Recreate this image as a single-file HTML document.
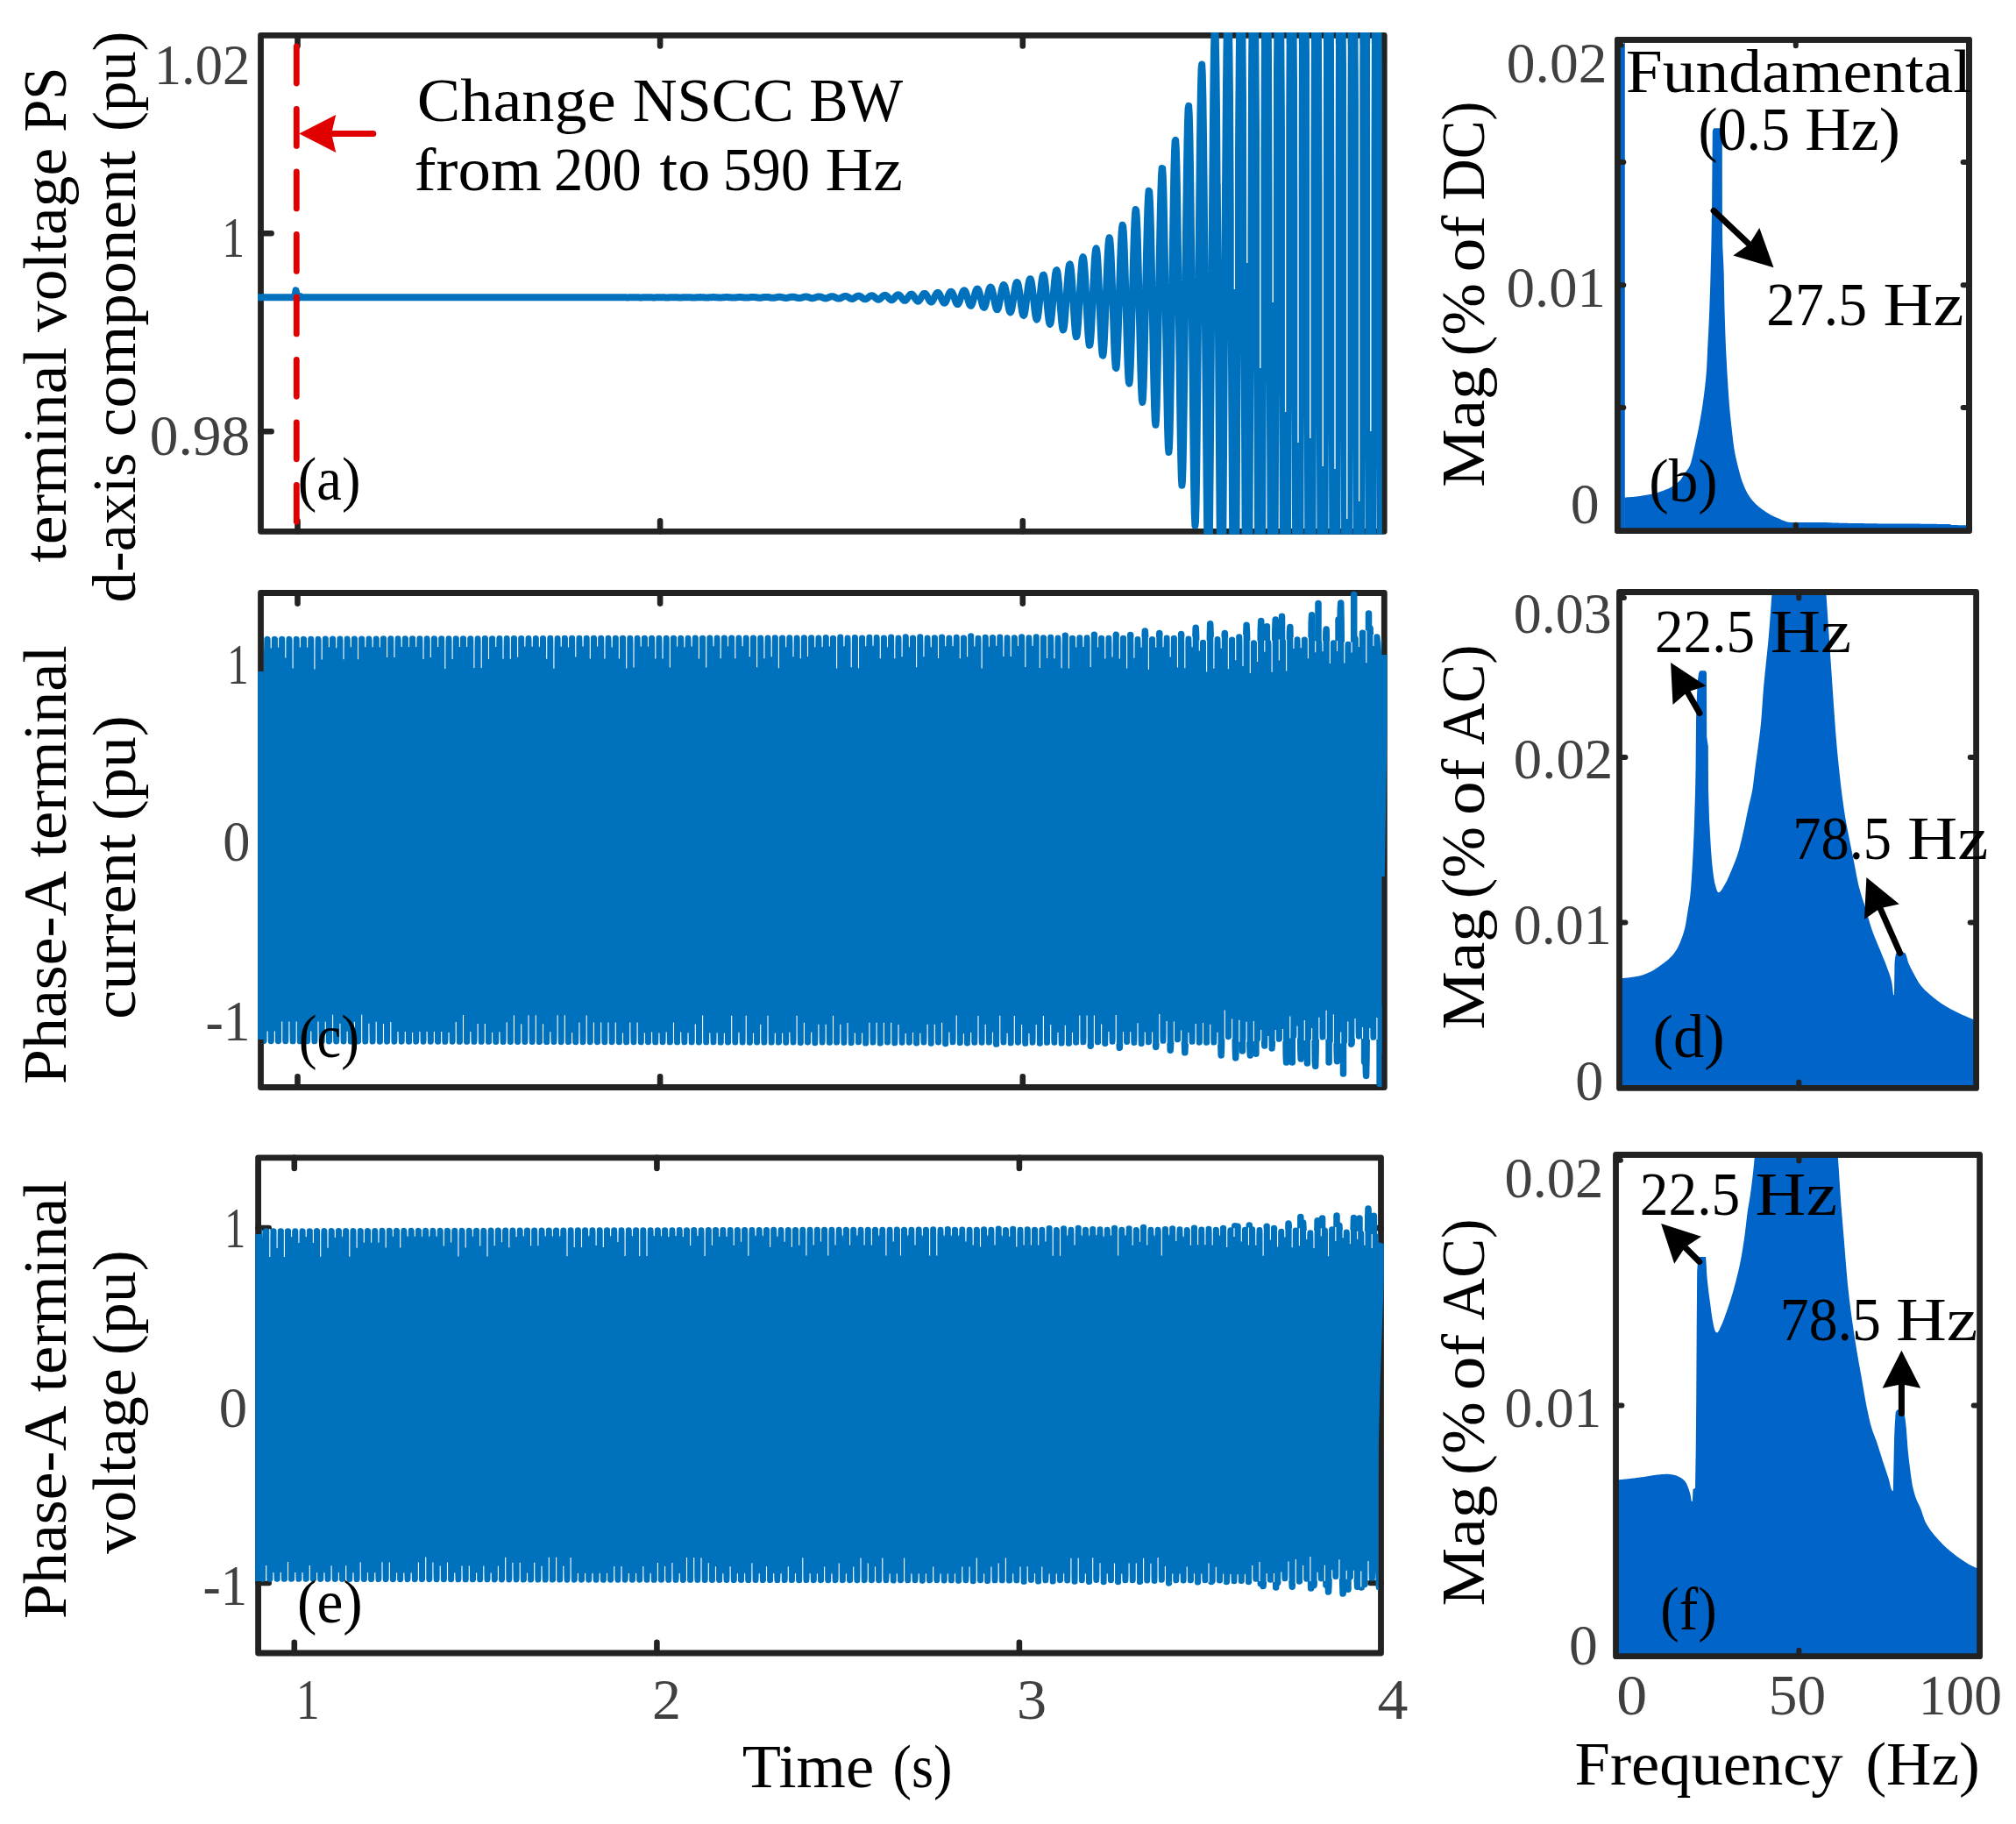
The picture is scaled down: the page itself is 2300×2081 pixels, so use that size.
<!DOCTYPE html>
<html lang="en"><head><meta charset="utf-8"><title>Figure</title>
<style>html,body{margin:0;padding:0;background:#fff}svg{display:block}</style></head>
<body>
<svg width="2300" height="2081" viewBox="0 0 2300 2081" font-family='"Liberation Serif", serif'>
<defs>
<clipPath id="ca"><rect x="294.1" y="37" width="1282.7" height="572.7"/></clipPath>
<clipPath id="cc"><rect x="300.9" y="673.1" width="1275.6" height="570.8"/></clipPath>
<clipPath id="ce"><rect x="298" y="1317.4" width="1274.7" height="572"/></clipPath>
<clipPath id="cb"><rect x="1845.4" y="45.4" width="401.1" height="560.2"/></clipPath>
<clipPath id="cd"><rect x="1847.5" y="675.5" width="407.1" height="565.9"/></clipPath>
<clipPath id="cf"><rect x="1843.5" y="1317.5" width="415.1" height="572.2"/></clipPath>
</defs>
<rect width="2300" height="2081" fill="#fff"/>
<rect x="297.5" y="40.4" width="1281.7" height="565.9" fill="none" stroke="#222222" stroke-width="6.8" stroke-linejoin="round"/>
<path d="M339.5 40.4V52.5M339.5 606.3V594.2M753.1 40.4V52.5M753.1 606.3V594.2M1166.8 40.4V52.5M1166.8 606.3V594.2M297.5 266.3H309.6M297.5 492.2H309.6" fill="none" stroke="#222222" stroke-width="6.6" stroke-linecap="round"/>
<path d="M294.5 339.3L336 339.3L337.6 331.3L339.2 341.3L342 337.8L345 339.3L620 339.3L620 339.3L620.6 339.3L621.2 339.3L621.8 339.3L622.4 339.3L623 339.3L623.6 339.3L624.2 339.3L624.8 339.3L625.4 339.3L626 339.3L626.6 339.3L627.2 339.3L627.8 339.3L628.4 339.3L629 339.3L629.6 339.3L630.2 339.3L630.8 339.3L631.4 339.3L632 339.3L632.6 339.3L633.2 339.3L633.8 339.3L634.4 339.3L635 339.3L635.6 339.3L636.2 339.3L636.8 339.3L637.4 339.3L638 339.3L638.6 339.3L639.2 339.3L639.8 339.3L640.4 339.3L641 339.3L641.6 339.3L642.2 339.3L642.8 339.3L643.4 339.3L644 339.3L644.6 339.3L645.2 339.3L645.8 339.3L646.4 339.3L647 339.3L647.6 339.3L648.2 339.3L648.8 339.3L649.4 339.3L650 339.3L650.6 339.3L651.2 339.3L651.8 339.3L652.4 339.3L653 339.3L653.6 339.3L654.2 339.3L654.8 339.3L655.4 339.3L656 339.3L656.6 339.3L657.2 339.3L657.8 339.3L658.4 339.3L659 339.3L659.6 339.3L660.2 339.3L660.8 339.3L661.4 339.3L662 339.3L662.6 339.3L663.2 339.3L663.8 339.3L664.4 339.3L665 339.3L665.6 339.3L666.2 339.3L666.8 339.3L667.4 339.3L668 339.3L668.6 339.3L669.2 339.3L669.8 339.3L670.4 339.3L671 339.3L671.6 339.3L672.2 339.3L672.8 339.3L673.4 339.3L674 339.3L674.6 339.3L675.2 339.3L675.8 339.3L676.4 339.3L677 339.3L677.6 339.3L678.2 339.3L678.8 339.3L679.4 339.3L680 339.3L680.6 339.3L681.2 339.3L681.8 339.3L682.4 339.3L683 339.3L683.6 339.3L684.2 339.3L684.8 339.3L685.4 339.3L686 339.3L686.6 339.3L687.2 339.3L687.8 339.3L688.4 339.3L689 339.3L689.6 339.3L690.2 339.3L690.8 339.3L691.4 339.3L692 339.3L692.6 339.3L693.2 339.3L693.8 339.3L694.4 339.3L695 339.3L695.6 339.3L696.2 339.3L696.8 339.3L697.4 339.3L698 339.3L698.6 339.3L699.2 339.3L699.8 339.3L700.4 339.3L701 339.3L701.6 339.3L702.2 339.3L702.8 339.3L703.4 339.3L704 339.3L704.6 339.3L705.2 339.3L705.8 339.3L706.4 339.3L707 339.3L707.6 339.3L708.2 339.2L708.8 339.2L709.4 339.3L710 339.3L710.6 339.3L711.2 339.3L711.8 339.3L712.4 339.3L713 339.3L713.6 339.3L714.2 339.3L714.8 339.4L715.4 339.4L716 339.4L716.6 339.4L717.2 339.4L717.8 339.3L718.4 339.3L719 339.3L719.6 339.3L720.2 339.3L720.8 339.3L721.4 339.3L722 339.2L722.6 339.2L723.2 339.2L723.8 339.2L724.4 339.2L725 339.3L725.6 339.3L726.2 339.3L726.8 339.3L727.4 339.3L728 339.3L728.6 339.3L729.2 339.4L729.8 339.4L730.4 339.4L731 339.4L731.6 339.4L732.2 339.4L732.8 339.4L733.4 339.3L734 339.3L734.6 339.3L735.2 339.3L735.8 339.3L736.4 339.3L737 339.2L737.6 339.2L738.2 339.2L738.8 339.2L739.4 339.2L740 339.2L740.6 339.3L741.2 339.3L741.8 339.3L742.4 339.3L743 339.3L743.6 339.3L744.2 339.4L744.8 339.4L745.4 339.4L746 339.4L746.6 339.4L747.2 339.4L747.8 339.4L748.4 339.3L749 339.3L749.6 339.3L750.2 339.3L750.8 339.3L751.4 339.2L752 339.2L752.6 339.2L753.2 339.2L753.8 339.2L754.4 339.2L755 339.2L755.6 339.2L756.2 339.3L756.8 339.3L757.4 339.3L758 339.3L758.6 339.4L759.2 339.4L759.8 339.4L760.4 339.4L761 339.4L761.6 339.4L762.2 339.4L762.8 339.4L763.4 339.4L764 339.3L764.6 339.3L765.2 339.3L765.8 339.3L766.4 339.2L767 339.2L767.6 339.2L768.2 339.2L768.8 339.2L769.4 339.2L770 339.2L770.6 339.2L771.2 339.2L771.8 339.3L772.4 339.3L773 339.3L773.6 339.4L774.2 339.4L774.8 339.4L775.4 339.4L776 339.4L776.6 339.4L777.2 339.4L777.8 339.4L778.4 339.4L779 339.3L779.6 339.3L780.2 339.3L780.8 339.3L781.4 339.2L782 339.2L782.6 339.2L783.2 339.2L783.8 339.2L784.4 339.2L785 339.2L785.6 339.2L786.2 339.2L786.8 339.3L787.4 339.3L788 339.3L788.6 339.4L789.2 339.4L789.8 339.4L790.4 339.4L791 339.5L791.6 339.5L792.2 339.4L792.8 339.4L793.4 339.4L794 339.4L794.6 339.3L795.2 339.3L795.8 339.2L796.4 339.2L797 339.2L797.6 339.2L798.2 339.1L798.8 339.1L799.4 339.1L800 339.2L800.6 339.2L801.2 339.2L801.8 339.3L802.4 339.3L803 339.3L803.6 339.4L804.2 339.4L804.8 339.5L805.4 339.5L806 339.5L806.6 339.5L807.2 339.5L807.8 339.5L808.4 339.4L809 339.4L809.6 339.3L810.2 339.3L810.8 339.2L811.4 339.2L812 339.2L812.6 339.1L813.2 339.1L813.8 339.1L814.4 339.1L815 339.1L815.6 339.2L816.2 339.2L816.8 339.2L817.4 339.3L818 339.3L818.6 339.4L819.2 339.4L819.8 339.5L820.4 339.5L821 339.5L821.6 339.5L822.2 339.5L822.8 339.5L823.4 339.5L824 339.4L824.6 339.3L825.2 339.3L825.8 339.2L826.4 339.2L827 339.1L827.6 339.1L828.2 339.1L828.8 339.1L829.4 339.1L830 339.1L830.6 339.1L831.2 339.2L831.8 339.2L832.4 339.3L833 339.3L833.6 339.4L834.2 339.5L834.8 339.5L835.4 339.6L836 339.6L836.6 339.6L837.2 339.6L837.8 339.5L838.4 339.5L839 339.4L839.6 339.4L840.2 339.3L840.8 339.2L841.4 339.2L842 339.1L842.6 339.1L843.2 339L843.8 339L844.4 339L845 339L845.6 339.1L846.2 339.1L846.8 339.2L847.4 339.3L848 339.3L848.6 339.4L849.2 339.5L849.8 339.6L850.4 339.6L851 339.6L851.6 339.6L852.2 339.6L852.8 339.6L853.4 339.5L854 339.5L854.6 339.4L855.2 339.3L855.8 339.2L856.4 339.1L857 339.1L857.6 339L858.2 339L858.8 338.9L859.4 338.9L860 339L860.6 339L861.2 339.1L861.8 339.2L862.4 339.2L863 339.3L863.6 339.4L864.2 339.5L864.8 339.6L865.4 339.7L866 339.7L866.6 339.7L867.2 339.7L867.8 339.7L868.4 339.6L869 339.5L869.6 339.4L870.2 339.3L870.8 339.2L871.4 339.1L872 339L872.6 338.9L873.2 338.9L873.8 338.9L874.4 338.9L875 338.9L875.6 338.9L876.2 339L876.8 339.1L877.4 339.2L878 339.3L878.6 339.5L879.2 339.6L879.8 339.7L880.4 339.7L881 339.8L881.6 339.8L882.2 339.8L882.8 339.7L883.4 339.7L884 339.6L884.6 339.5L885.2 339.3L885.8 339.2L886.4 339.1L887 339L887.6 338.9L888.2 338.8L888.8 338.8L889.4 338.8L890 338.8L890.6 338.9L891.2 339L891.8 339.1L892.4 339.2L893 339.3L893.6 339.5L894.2 339.6L894.8 339.7L895.4 339.8L896 339.9L896.6 339.9L897.2 339.9L897.8 339.9L898.4 339.8L899 339.6L899.6 339.5L900.2 339.3L900.8 339.2L901.4 339L902 338.9L902.6 338.8L903.2 338.7L903.8 338.7L904.4 338.7L905 338.7L905.6 338.8L906.2 338.9L906.8 339L907.4 339.2L908 339.3L908.6 339.5L909.2 339.7L909.8 339.8L910.4 339.9L911 340L911.6 340.1L912.2 340L912.8 340L913.4 339.9L914 339.7L914.6 339.6L915.2 339.4L915.8 339.2L916.4 339L917 338.8L917.6 338.7L918.2 338.6L918.8 338.5L919.4 338.5L920 338.6L920.6 338.6L921.2 338.8L921.8 338.9L922.4 339.1L923 339.3L923.6 339.5L924.2 339.7L924.8 339.9L925.4 340.1L926 340.2L926.6 340.2L927.2 340.2L927.8 340.1L928.4 340L929 339.8L929.6 339.6L930.2 339.4L930.8 339.2L931.4 339L932 338.8L932.6 338.6L933.2 338.5L933.8 338.4L934.4 338.4L935 338.4L935.6 338.5L936.2 338.6L936.8 338.8L937.4 339L938 339.3L938.6 339.5L939.2 339.8L939.8 340L940.4 340.2L941 340.3L941.6 340.4L942.2 340.4L942.8 340.3L943.4 340.2L944 340L944.6 339.7L945.2 339.5L945.8 339.2L946.4 338.9L947 338.7L947.6 338.5L948.2 338.3L948.8 338.2L949.4 338.2L950 338.2L950.6 338.3L951.2 338.5L951.8 338.7L952.4 339L953 339.3L953.6 339.6L954.2 339.9L954.8 340.2L955.4 340.4L956 340.6L956.6 340.6L957.2 340.6L957.8 340.6L958.4 340.4L959 340.2L959.6 339.9L960.2 339.5L960.8 339.2L961.4 338.9L962 338.6L962.6 338.3L963.2 338.1L963.8 338L964.4 337.9L965 337.9L965.6 338.1L966.2 338.3L966.8 338.5L967.4 338.8L968 339.2L968.6 339.6L969.2 340L969.8 340.3L970.4 340.6L971 340.8L971.6 340.9L972.2 340.9L972.8 340.9L973.4 340.7L974 340.4L974.6 340L975.2 339.6L975.8 339.2L976.4 338.8L977 338.4L977.6 338.1L978.2 337.9L978.8 337.7L979.4 337.6L980 337.6L980.6 337.8L981.2 338L981.8 338.3L982.4 338.7L983 339.1L983.6 339.6L984.2 340.1L984.8 340.5L985.4 340.8L986 341.1L986.6 341.3L987.2 341.3L987.8 341.2L988.4 341L989 340.6L989.6 340.2L990.2 339.7L990.8 339.2L991.4 338.7L992 338.3L992.6 337.9L993.2 337.6L993.8 337.4L994.4 337.3L995 337.3L995.6 337.4L996.2 337.7L996.8 338.1L997.4 338.5L998 339.1L998.6 339.6L999.2 340.2L999.8 340.7L1000.4 341.1L1001 341.5L1001.6 341.7L1002.2 341.7L1002.8 341.6L1003.4 341.4L1004 341L1004.6 340.5L1005.2 339.9L1005.8 339.3L1006.4 338.7L1007 338.1L1007.6 337.6L1008.2 337.2L1008.8 337L1009.4 336.8L1010 336.8L1010.6 337L1011.2 337.3L1011.8 337.8L1012.4 338.3L1013 338.9L1013.6 339.6L1014.2 340.3L1014.8 340.9L1015.4 341.5L1016 341.9L1016.6 342.2L1017.2 342.3L1017.8 342.2L1018.4 341.9L1019 341.4L1019.6 340.8L1020.2 340.1L1020.8 339.4L1021.4 338.6L1022 337.9L1022.6 337.3L1023.2 336.8L1023.8 336.5L1024.4 336.3L1025 336.3L1025.6 336.5L1026.2 336.8L1026.8 337.4L1027.4 338L1028 338.8L1028.6 339.6L1029.2 340.4L1029.8 341.2L1030.4 341.9L1031 342.4L1031.6 342.8L1032.2 342.9L1032.8 342.8L1033.4 342.5L1034 341.9L1034.6 341.2L1035.2 340.4L1035.8 339.5L1036.4 338.6L1037 337.7L1037.6 337L1038.2 336.3L1038.8 335.9L1039.4 335.7L1040 335.6L1040.6 335.8L1041.2 336.3L1041.8 336.9L1042.4 337.7L1043 338.6L1043.6 339.6L1044.2 340.6L1044.8 341.5L1045.4 342.4L1046 343L1046.6 343.5L1047.2 343.7L1047.8 343.6L1048.4 343.2L1049 342.5L1049.6 341.7L1050.2 340.7L1050.8 339.6L1051.4 338.5L1052 337.5L1052.6 336.5L1053.2 335.8L1053.8 335.2L1054.4 334.9L1055 334.9L1055.6 335.1L1056.2 335.5L1056.8 336.3L1057.4 337.2L1058 338.3L1058.6 339.5L1059.2 340.7L1059.8 341.9L1060.4 342.9L1061 343.8L1061.6 344.3L1062.2 344.6L1062.8 344.5L1063.4 344.1L1064 343.3L1064.6 342.3L1065.2 341.1L1065.8 339.8L1066.4 338.5L1067 337.2L1067.6 336.1L1068.2 335.1L1068.8 334.4L1069.4 334L1070 333.9L1070.6 334.1L1071.2 334.7L1071.8 335.5L1072.4 336.6L1073 337.9L1073.6 339.4L1074.2 340.9L1074.8 342.3L1075.4 343.6L1076 344.7L1076.6 345.4L1077.2 345.7L1077.8 345.7L1078.4 345.2L1079 344.3L1079.6 343.1L1080.2 341.7L1080.8 340.1L1081.4 338.5L1082 336.9L1082.6 335.5L1083.2 334.3L1083.8 333.4L1084.4 332.9L1085 332.7L1085.6 333L1086.2 333.6L1086.8 334.6L1087.4 335.9L1088 337.5L1088.6 339.2L1089.2 341L1089.8 342.8L1090.4 344.4L1091 345.7L1091.6 346.6L1092.2 347.1L1092.8 347.1L1093.4 346.5L1094 345.5L1094.6 344.1L1095.2 342.4L1095.8 340.5L1096.4 338.5L1097 336.6L1097.6 334.8L1098.2 333.4L1098.8 332.2L1099.4 331.5L1100 331.3L1100.6 331.5L1101.2 332.3L1101.8 333.4L1102.4 335L1103 336.9L1103.6 339L1104.2 341.2L1104.8 343.3L1105.4 345.3L1106 346.9L1106.6 348.1L1107.2 348.7L1107.8 348.8L1108.4 348.2L1109 347L1109.6 345.3L1110.2 343.3L1110.8 341L1111.4 338.6L1112 336.2L1112.6 334.1L1113.2 332.2L1113.8 330.8L1114.4 329.9L1115 329.6L1115.6 329.8L1116.2 330.6L1116.8 332L1117.4 333.9L1118 336.1L1118.6 338.7L1119.2 341.3L1119.8 344L1120.4 346.4L1121 348.4L1121.6 349.9L1122.2 350.7L1122.8 350.8L1123.4 350.2L1124 348.8L1124.6 346.8L1125.2 344.4L1125.8 341.6L1126.4 338.7L1127 335.8L1127.6 333.2L1128.2 330.9L1128.8 329.2L1129.4 328L1130 327.5L1130.6 327.7L1131.2 328.7L1131.8 330.2L1132.4 332.5L1133 335.2L1133.6 338.2L1134.2 341.4L1134.8 344.6L1135.4 347.6L1136 350.1L1136.6 352L1137.2 353.1L1137.8 353.3L1138.4 352.6L1139 351.1L1139.6 348.7L1140.2 345.8L1140.8 342.4L1141.4 338.9L1142 335.4L1142.6 332.2L1143.2 329.4L1143.8 327.2L1144.4 325.7L1145 325L1145.6 325.2L1146.2 326.2L1146.8 328.1L1147.4 330.7L1148 333.9L1148.6 337.6L1149.2 341.5L1149.8 345.4L1150.4 349.1L1151 352.2L1151.6 354.6L1152.2 356L1152.8 356.4L1153.4 355.6L1154 353.8L1154.6 351.1L1155.2 347.6L1155.8 343.5L1156.4 339.3L1157 335L1157.6 331L1158.2 327.5L1158.8 324.8L1159.4 322.9L1160 322L1160.6 322.1L1161.2 323.2L1161.8 325.4L1162.4 328.5L1163 332.3L1163.6 336.8L1164.2 341.5L1164.8 346.3L1165.4 350.7L1166 354.6L1166.6 357.6L1167.2 359.5L1167.8 360L1168.4 359.3L1169 357.2L1169.6 354L1170.2 349.8L1170.8 345L1171.4 339.8L1172 334.6L1172.6 329.7L1173.2 325.4L1173.8 321.9L1174.4 319.5L1175 318.3L1175.6 318.3L1176.2 319.6L1176.8 322.1L1177.4 325.7L1178 330.3L1178.6 335.6L1179.2 341.4L1179.8 347.2L1180.4 352.7L1181 357.5L1181.6 361.2L1182.2 363.6L1182.8 364.5L1183.4 363.7L1184 361.4L1184.6 357.6L1185.2 352.6L1185.8 346.8L1186.4 340.5L1187 334.2L1187.6 328.2L1188.2 322.9L1188.8 318.6L1189.4 315.5L1190 313.9L1190.6 313.7L1191.2 315.1L1191.8 318L1192.4 322.3L1193 327.8L1193.6 334.2L1194.2 341.1L1194.8 348.2L1195.4 354.9L1196 360.8L1196.6 365.5L1197.2 368.6L1197.8 369.9L1198.4 369.2L1199 366.5L1199.6 362.1L1200.2 356.1L1200.8 349.2L1201.4 341.6L1202 333.8L1202.6 326.5L1203.2 320L1203.8 314.6L1204.4 310.7L1205 308.5L1205.6 308.1L1206.2 309.7L1206.8 313L1207.4 318.1L1208 324.6L1208.6 332.3L1209.2 340.7L1209.8 349.2L1210.4 357.5L1211 364.8L1211.6 370.7L1212.2 374.7L1212.8 376.4L1213.4 375.8L1214 372.8L1214.6 367.6L1215.2 360.5L1215.8 352.2L1216.4 343L1217 333.6L1217.6 324.6L1218.2 316.5L1218.8 309.9L1219.4 304.9L1220 302.1L1220.6 301.4L1221.2 303L1221.8 306.9L1222.4 312.8L1223 320.6L1223.6 329.8L1224.2 339.9L1224.8 350.3L1225.4 360.4L1226 369.5L1226.6 376.8L1227.2 381.9L1227.8 384.3L1228.4 383.8L1229 380.5L1229.6 374.4L1230.2 366.1L1230.8 356L1231.4 344.9L1232 333.5L1232.6 322.5L1233.2 312.6L1233.8 304.2L1234.4 298L1235 294.3L1235.6 293.2L1236.2 294.9L1236.8 299.3L1237.4 306.3L1238 315.5L1238.6 326.6L1239.2 338.8L1239.8 351.5L1240.4 363.8L1241 375L1241.6 384.1L1242.2 390.6L1242.8 393.9L1243.4 393.6L1244 389.9L1244.6 382.8L1245.2 372.9L1245.8 360.9L1246.4 347.5L1247 333.6L1247.6 320.2L1248.2 307.9L1248.8 297.6L1249.4 289.8L1250 284.9L1250.6 283.3L1251.2 285L1251.8 290L1252.4 298.2L1253 309.2L1253.6 322.4L1254.2 337.1L1254.8 352.5L1255.4 367.6L1256 381.4L1256.6 392.8L1257.2 401L1257.8 405.4L1258.4 405.6L1259 401.4L1259.6 393.2L1260.2 381.5L1260.8 367.1L1261.4 350.9L1262 334.1L1262.6 317.7L1263.2 302.6L1263.8 289.8L1264.4 279.9L1265 273.6L1265.6 271.2L1266.2 272.9L1266.8 278.6L1267.4 288.2L1268 301.2L1268.6 317.1L1269.2 334.8L1269.8 353.5L1270.4 371.9L1271 388.8L1271.6 403L1272.2 413.5L1272.8 419.3L1273.4 420L1274 415.5L1274.6 406L1275.2 392.1L1275.8 374.9L1276.4 355.5L1277 335L1277.6 315L1278.2 296.4L1278.8 280.5L1279.4 268.2L1280 260.1L1280.6 256.7L1281.2 258.2L1281.8 264.7L1282.4 275.9L1283 291.3L1283.6 310.2L1284.2 331.6L1284.8 354.3L1285.4 376.8L1286 397.6L1286.6 415.2L1287.2 428.4L1287.8 436.1L1288.4 437.6L1289 432.7L1289.6 421.7L1290.2 405.4L1290.8 384.8L1291.4 361.4L1292 336.6L1292.6 312.1L1293.2 289.3L1293.8 269.7L1294.4 254.2L1295 243.8L1295.6 239L1296.2 240.3L1296.8 247.6L1297.4 260.6L1298 278.9L1298.6 301.5L1299.2 327.3L1299.8 354.7L1300.4 382.1L1301 407.7L1301.6 429.6L1302.2 446.2L1302.8 456.3L1303.4 458.9L1304 453.7L1304.6 441.1L1305.2 421.8L1305.8 397.3L1306.4 369.1L1307 339L1307.6 309.2L1308.2 281.2L1308.8 256.9L1309.4 237.5L1310 224.2L1310.6 217.7L1311.2 218.5L1311.8 226.6L1312.4 241.8L1313 263.4L1313.6 290.4L1314.2 321.5L1314.8 354.7L1315.4 388.1L1316 419.5L1316.6 446.6L1317.2 467.5L1317.8 480.6L1318.4 484.7L1319 479.3L1319.6 464.9L1320.2 442.2L1320.8 413L1321.4 379L1322 342.7L1322.6 306.2L1323.2 272L1323.8 241.9L1324.4 217.7L1325 200.7L1325.6 192L1326.2 192.1L1326.8 201L1327.4 218.6L1328 244.2L1328.6 276.4L1329.2 313.7L1329.8 353.9L1330.4 394.6L1331 433.1L1331.6 466.7L1332.2 493L1332.8 509.8L1333.4 515.9L1334 510.6L1334.6 494.1L1335.2 467.5L1335.8 432.7L1336.4 391.9L1337 347.9L1337.6 303.5L1338.2 261.5L1338.8 224.3L1339.4 194.1L1340 172.6L1340.6 160.9L1341.2 159.9L1341.8 169.7L1342.4 190.1L1343 220.2L1343.6 258.7L1344.2 303.4L1344.8 352.1L1345.4 401.6L1346 448.8L1346.6 490.4L1347.2 523.3L1347.8 545L1348.4 553.8L1349 548.7L1349.6 530L1350.2 498.8L1350.8 457.3L1351.4 408.4L1352 355.1L1352.6 301.1L1353.2 249.6L1353.8 203.7L1354.4 166.1L1355 138.8L1355.6 123.4L1356.2 120.9L1356.8 131.5L1357.4 155L1358 190.5L1358.6 236.3L1359.2 290L1359.8 348.8L1360.4 409L1361 466.8L1361.6 518.2L1362.2 559.4L1362.8 587.3L1363.4 599.6L1364 595.1L1364.6 574L1365.2 537.5L1365.8 488.2L1366.4 429.5L1367 365.1L1367.6 299.4L1368.2 236.3L1368.8 179.8L1369.4 132.9L1370 98.4L1370.6 78.2L1371.2 73.5L1371.8 84.8L1372.4 111.9L1373 153.6L1373.6 208.2L1374.2 272.8L1374.8 343.9L1375.4 417.3L1376 488.1L1376.6 551.6L1377.2 603L1377.8 638.5L1378.4 655L1379 651.1L1379.6 626.8L1380.2 583.5L1380.8 523.6L1381.4 452.1L1382 374.2L1382.6 295.1L1383.2 219.6L1383.8 152.3L1384.4 97.1L1385 56.9L1385.6 34L1386.2 29.6L1386.8 44L1387.4 76.5L1388 125.7L1388.6 189.6L1389.2 265.1L1389.8 348.4L1390.4 434.8L1391 518.9L1391.6 594.7L1392.2 656.4L1392.8 698.6L1393.4 717.4L1394 710.4L1394.6 677.8L1395.2 622.1L1395.8 547.5L1396.4 460.3L1397 367.3L1397.6 275.3L1398.2 190.5L1398.8 117.8L1399.4 60.7L1400 21.5L1400.6 1.1L1401.2 -0L1401.8 18.3L1402.4 55.8L1403 112.1L1403.6 185.8L1404.2 274.5L1404.8 374.4L1405.4 479.6L1406 582.8L1406.6 675.4L1407.2 748.9L1407.8 795.8L1408.4 810.6L1409 791.4L1409.6 739.4L1410.2 659.5L1410.8 559.4L1411.4 448.3L1412 335.7L1412.6 230L1413.2 137.9L1413.8 63.5L1414.4 9.1L1415 -24.9L1415.6 -38.7L1416.2 -32.4L1416.8 -5.7L1417.4 42L1418 111.4L1418.6 202.2L1419.2 312L1419.8 435.6L1420.4 565.1L1421 689.8L1421.6 797.6L1422.2 876.9L1422.8 900L1423.4 900L1424 870.3L1424.6 785.1L1425.2 668.9L1425.8 535.3L1426.4 398.1L1427 268.9L1427.6 156.7L1428.2 66.6L1428.8 0.6L1429.4 -42L1430 -62.9L1430.6 -63.5L1431.2 -44.2L1431.8 -3.7L1432.4 60L1433 148.2L1433.6 260.6L1434.2 393.1L1434.8 537.7L1435.4 682.6L1436 813.5L1436.6 900L1437.2 900L1437.8 900L1438.4 900L1439 861.4L1439.6 738.9L1440.2 594.6L1440.8 444.3L1441.4 302.2L1442 179.1L1442.6 81.1L1443.2 9.9L1443.8 -36.1L1444.4 -60.3L1445 -65.2L1445.6 -51.8L1446.2 -18.5L1446.8 37.9L1447.4 120.8L1448 231.8L1448.6 368.4L1449.2 522.9L1449.8 682.6L1450.4 831.3L1451 900L1451.6 900L1452.2 900L1452.8 900L1453.4 900L1454 787.9L1454.6 630.9L1455.2 467.3L1455.8 313.8L1456.4 182.7L1457 80.6L1457.6 8.5L1458.2 -36.8L1458.8 -60.1L1459.4 -65.4L1460 -54.1L1460.6 -23.9L1461.2 29.7L1461.8 112L1462.4 225.8L1463 369.7L1463.6 535.7L1464.2 709.5L1464.8 872.2L1465.4 900L1466 900L1466.6 900L1467.2 900L1467.8 900L1468.4 809.5L1469 636.8L1469.6 460.3L1470.2 298.7L1470.8 164.7L1471.4 64.3L1472 -3.3L1472.6 -43.3L1473.2 -62.2L1473.8 -65L1474.4 -52.5L1475 -21.6L1475.6 34.7L1476.2 122.7L1476.8 246L1477.4 402L1478 580.5L1478.6 764.2L1479.2 900L1479.8 900L1480.4 900L1481 900L1481.6 900L1482.2 900L1482.8 779.4L1483.4 595.7L1484 415.6L1484.6 256.7L1485.2 130.3L1485.8 39.4L1486.4 -19L1487 -51.5L1487.6 -64.7L1488.2 -62.7L1488.8 -44.5L1489.4 -5.5L1490 61.7L1490.6 162.9L1491.2 299.8L1491.8 467L1492.4 651.2L1493 832.7L1493.6 900L1494.2 900L1494.8 900L1495.4 900L1496 900L1496.6 876.1L1497.2 698.6L1497.8 512.5L1498.4 338.9L1499 193.1L1499.6 82.6L1500.2 7.4L1500.8 -37.7L1501.4 -60.2L1502 -65.5L1502.6 -55.6L1503.2 -27.1L1503.8 26.2L1504.4 111.7L1505 233.5L1505.6 389.5L1506.2 569.7L1506.8 756.5L1507.4 900L1508 900L1508.6 900L1509.2 900L1509.8 900L1510.4 900L1511 767.4L1511.6 580.4L1512.2 398.7L1512.8 240.5L1513.4 116.5L1514 29L1514.6 -25.8L1515.2 -55L1515.8 -65.5L1516.4 -60.3L1517 -37.8L1517.6 7.8L1518.2 84.1L1518.8 196.6L1519.4 345.2L1520 521.8L1520.6 710.4L1521.2 888.7L1521.8 900L1522.4 900L1523 900L1523.6 900L1524.2 900L1524.8 802.6L1525.4 615.6L1526 430L1526.6 265.4L1527.2 134.2L1527.8 40.3L1528.4 -19.5L1529 -52.2L1529.6 -65L1530.2 -61.8L1530.8 -41.5L1531.4 1.5L1532 74.9L1532.6 184.6L1533.2 331.3L1533.8 507.5L1534.4 697.3L1535 878.5L1535.6 900L1536.2 900L1536.8 900L1537.4 900L1538 900L1538.6 805.2L1539.2 616.9L1539.8 429.8L1540.4 264.1L1541 132.4L1541.6 38.5L1542.2 -20.9L1542.8 -53.1L1543.4 -65.2L1544 -61.2L1544.6 -39.5L1545.2 5.6L1545.8 82.2L1546.4 195.9L1547 346.9L1547.6 526.7L1548.2 718.2L1548.8 898.2L1549.4 900L1550 900L1550.6 900L1551.2 900L1551.8 900L1552.4 775L1553 583.8L1553.6 397.8L1554.2 236.4L1554.8 110.9L1555.4 23.7L1556 -29.7L1556.6 -57.3L1557.2 -65.7L1557.8 -57.8L1558.4 -31L1559 21.6L1559.6 108L1560.2 232.8L1560.8 394L1561.4 580.6L1562 772.9L1562.6 900L1563.2 900L1563.8 900L1564.4 900L1565 900L1565.6 892.5L1566.2 709.8L1566.8 516.3L1567.4 335.8L1568 185.6L1568.6 73.7L1569.2 -0.4L1569.8 -43.2L1570.4 -62.7L1571 -64.5L1571.6 -49.3L1572.2 -12.3L1572.8 54.4L1573.4 158L1574 300.9L1574.6 476.8L1575.2 670.3L1575.8 858.3L1576.4 900L1577 900L1577.6 900L1578.2 900L1578.8 900L1579.4 800.9L1580 607.9L1580.6 417.1L1581.2 250" fill="none" stroke="#0072BD" stroke-width="8" stroke-linejoin="round" stroke-linecap="round" clip-path="url(#ca)"/>
<path d="M1393.4 49.8V210M1408.4 49.8V330M1422.8 49.8V300M1437.8 49.8V420M1452.2 49.8V345M1466.6 49.8V470M1481 49.8V505M1494.8 49.8V500M1509.2 49.8V532M1523 49.8V535M1536.8 49.8V592M1550.6 49.8V572M1563.8 49.8V492" stroke="#fff" stroke-width="1.3" fill="none"/>
<path d="M338.3 53V606" stroke="#E00000" stroke-width="6.8" stroke-linecap="round" stroke-dasharray="42 29.47" fill="none"/>
<path d="M425.8 152.4L378.2 152.4" stroke="#E00000" stroke-width="7.0" stroke-linecap="round" fill="none"/>
<path d="M341.2 152.4L383.2 130.9L378.2 152.4L383.2 173.9Z" fill="#E00000"/>
<rect x="297.5" y="676.5" width="1281.8" height="564" fill="none" stroke="#222222" stroke-width="6.8" stroke-linejoin="round"/>
<path d="M339.5 676.5V688.6M339.5 1240.5V1228.4M753.1 676.5V688.6M753.1 1240.5V1228.4M1166.8 676.5V688.6M1166.8 1240.5V1228.4" fill="none" stroke="#222222" stroke-width="6.6" stroke-linecap="round"/>
<path d="M298.3 837L298.7 897.2L299.1 962.4L299.5 1027.2L299.8 1086.5L300.2 1135.5L300.6 1170L301 1187.5L301.4 1186.4L301.7 1166.8L302.1 1130.3L302.5 1079.9L302.9 1019.7L303.2 954.5L303.6 889.7L304 830.4L304.4 781.5L304.7 746.9L305.1 729.5L305.5 730.7L305.9 750.3L306.2 786.7L306.6 837.1L307 897.4L307.4 962.6L307.7 1027.4L308.1 1086.7L308.5 1135.6L308.9 1170.1L309.2 1187.5L309.6 1186.3L310 1166.7L310.4 1130.2L310.8 1079.8L311.1 1019.5L311.5 954.3L311.9 889.5L312.3 830.2L312.6 781.4L313 746.9L313.4 729.5L313.8 730.7L314.1 750.3L314.5 786.9L314.9 837.3L315.3 897.6L315.6 962.8L316 1027.6L316.4 1086.8L316.8 1135.7L317.1 1170.2L317.5 1187.5L317.9 1186.3L318.3 1166.6L318.7 1130.1L319 1079.6L319.4 1019.4L319.8 954.2L320.2 889.3L320.5 830.1L320.9 781.2L321.3 746.8L321.7 729.5L322 730.7L322.4 750.4L322.8 787L323.2 837.5L323.5 897.7L323.9 962.9L324.3 1027.8L324.7 1087L325 1135.8L325.4 1170.3L325.8 1187.5L326.2 1186.3L326.5 1166.5L326.9 1129.9L327.3 1079.5L327.7 1019.2L328.1 954L328.4 889.1L328.8 829.9L329.2 781.1L329.6 746.7L329.9 729.4L330.3 730.7L330.7 750.5L331.1 787.1L331.4 837.6L331.8 897.9L332.2 963.1L332.6 1028L332.9 1087.2L333.3 1135.9L333.7 1170.3L334.1 1187.6L334.4 1186.2L334.8 1166.4L335.2 1129.8L335.6 1079.3L336 1019L336.3 953.8L336.7 888.9L337.1 829.8L337.5 781L337.8 746.6L338.2 729.4L338.6 730.8L339 750.6L339.3 787.3L339.7 837.8L340.1 898.1L340.5 963.3L340.8 1028.1L341.2 1087.3L341.6 1136.1L342 1170.4L342.3 1187.6L342.7 1186.2L343.1 1166.4L343.5 1129.7L343.8 1079.1L344.2 1018.8L344.6 953.6L345 888.8L345.4 829.6L345.7 780.9L346.1 746.5L346.5 729.4L346.9 730.8L347.2 750.7L347.6 787.4L348 838L348.4 898.3L348.7 963.5L349.1 1028.3L349.5 1087.5L349.9 1136.2L350.2 1170.5L350.6 1187.6L351 1186.2L351.4 1166.3L351.7 1129.6L352.1 1079L352.5 1018.6L352.9 953.4L353.3 888.6L353.6 829.4L354 780.7L354.4 746.5L354.8 729.4L355.1 730.8L355.5 750.8L355.9 787.5L356.3 838.1L356.6 898.5L357 963.7L357.4 1028.5L357.8 1087.6L358.1 1136.3L358.5 1170.6L358.9 1187.6L359.3 1186.1L359.6 1166.2L360 1129.4L360.4 1078.8L360.8 1018.4L361.1 953.2L361.5 888.4L361.9 829.3L362.3 780.6L362.7 746.4L363 729.4L363.4 730.9L363.8 750.8L364.2 787.6L364.5 838.3L364.9 898.7L365.3 963.9L365.7 1028.7L366 1087.8L366.4 1136.4L366.8 1170.6L367.2 1187.7L367.5 1186.1L367.9 1166.1L368.3 1129.3L368.7 1078.6L369 1018.2L369.4 953L369.8 888.2L370.2 829.1L370.6 780.5L370.9 746.3L371.3 729.3L371.7 730.9L372.1 750.9L372.4 787.8L372.8 838.4L373.2 898.9L373.6 964.1L373.9 1028.9L374.3 1088L374.7 1136.6L375.1 1170.7L375.4 1187.7L375.8 1186.1L376.2 1166L376.6 1129.2L376.9 1078.5L377.3 1018.1L377.7 952.8L378.1 888L378.5 829L378.8 780.4L379.2 746.2L379.6 729.3L380 730.9L380.3 751L380.7 787.9L381.1 838.6L381.5 899L381.8 964.3L382.2 1029.1L382.6 1088.1L383 1136.7L383.3 1170.8L383.7 1187.7L384.1 1186L384.5 1165.9L384.8 1129L385.2 1078.3L385.6 1017.9L386 952.6L386.3 887.8L386.7 828.8L387.1 780.3L387.5 746.2L387.9 729.3L388.2 731L388.6 751.1L389 788L389.4 838.8L389.7 899.2L390.1 964.5L390.5 1029.2L390.9 1088.3L391.2 1136.8L391.6 1170.9L392 1187.7L392.4 1186L392.7 1165.9L393.1 1128.9L393.5 1078.1L393.9 1017.7L394.2 952.4L394.6 887.7L395 828.6L395.4 780.1L395.8 746.1L396.1 729.3L396.5 731L396.9 751.2L397.3 788.2L397.6 838.9L398 899.4L398.4 964.7L398.8 1029.4L399.1 1088.4L399.5 1136.9L399.9 1170.9L400.3 1187.8L400.6 1186L401 1165.8L401.4 1128.8L401.8 1078L402.1 1017.5L402.5 952.2L402.9 887.5L403.3 828.5L403.6 780L404 746L404.4 729.2L404.8 731L405.2 751.3L405.5 788.3L405.9 839.1L406.3 899.6L406.7 964.9L407 1029.6L407.4 1088.6L407.8 1137L408.2 1171L408.5 1187.8L408.9 1185.9L409.3 1165.7L409.7 1128.7L410 1077.8L410.4 1017.3L410.8 952L411.2 887.3L411.5 828.3L411.9 779.9L412.3 745.9L412.7 729.2L413.1 731.1L413.4 751.3L413.8 788.4L414.2 839.3L414.6 899.8L414.9 965L415.3 1029.8L415.7 1088.8L416.1 1137.2L416.4 1171.1L416.8 1187.8L417.2 1185.9L417.6 1165.6L417.9 1128.5L418.3 1077.7L418.7 1017.1L419.1 951.9L419.4 887.1L419.8 828.2L420.2 779.8L420.6 745.9L420.9 729.2L421.3 731.1L421.7 751.4L422.1 788.5L422.5 839.4L422.8 900L423.2 965.2L423.6 1030L424 1088.9L424.3 1137.3L424.7 1171.2L425.1 1187.8L425.5 1185.9L425.8 1165.5L426.2 1128.4L426.6 1077.5L427 1016.9L427.3 951.7L427.7 886.9L428.1 828L428.5 779.7L428.8 745.8L429.2 729.2L429.6 731.1L430 751.5L430.4 788.7L430.7 839.6L431.1 900.1L431.5 965.4L431.9 1030.2L432.2 1089.1L432.6 1137.4L433 1171.2L433.4 1187.9L433.7 1185.9L434.1 1165.5L434.5 1128.3L434.9 1077.3L435.2 1016.8L435.6 951.5L436 886.8L436.4 827.9L436.7 779.5L437.1 745.7L437.5 729.1L437.9 731.2L438.2 751.6L438.6 788.8L439 839.8L439.4 900.3L439.8 965.6L440.1 1030.3L440.5 1089.2L440.9 1137.5L441.3 1171.3L441.6 1187.9L442 1185.8L442.4 1165.4L442.8 1128.1L443.1 1077.2L443.5 1016.6L443.9 951.3L444.3 886.6L444.6 827.7L445 779.4L445.4 745.6L445.8 729.1L446.1 731.2L446.5 751.7L446.9 788.9L447.3 839.9L447.7 900.5L448 965.8L448.4 1030.5L448.8 1089.4L449.2 1137.6L449.5 1171.4L449.9 1187.9L450.3 1185.8L450.7 1165.3L451 1128L451.4 1077L451.8 1016.4L452.2 951.1L452.5 886.4L452.9 827.5L453.3 779.3L453.7 745.6L454 729.1L454.4 731.2L454.8 751.8L455.2 789.1L455.5 840.1L455.9 900.7L456.3 966L456.7 1030.7L457.1 1089.5L457.4 1137.8L457.8 1171.5L458.2 1187.9L458.6 1185.8L458.9 1165.2L459.3 1127.9L459.7 1076.8L460.1 1016.2L460.4 950.9L460.8 886.2L461.2 827.4L461.6 779.2L461.9 745.5L462.3 729.1L462.7 731.2L463.1 751.8L463.4 789.2L463.8 840.2L464.2 900.9L464.6 966.2L465 1030.9L465.3 1089.7L465.7 1137.9L466.1 1171.5L466.5 1187.9L466.8 1185.7L467.2 1165.1L467.6 1127.7L468 1076.7L468.3 1016L468.7 950.7L469.1 886L469.5 827.2L469.8 779.1L470.2 745.4L470.6 729.1L471 731.3L471.3 751.9L471.7 789.3L472.1 840.4L472.5 901.1L472.8 966.4L473.2 1031.1L473.6 1089.9L474 1138L474.4 1171.6L474.7 1187.9L475.1 1185.7L475.5 1165L475.9 1127.6L476.2 1076.5L476.6 1015.8L477 950.5L477.4 885.8L477.7 827.1L478.1 778.9L478.5 745.3L478.9 729L479.2 731.3L479.6 752L480 789.4L480.4 840.6L480.7 901.3L481.1 966.6L481.5 1031.2L481.9 1090L482.3 1138.1L482.6 1171.7L483 1188L483.4 1185.6L483.8 1164.9L484.1 1127.5L484.5 1076.3L484.9 1015.6L485.3 950.3L485.6 885.7L486 826.9L486.4 778.8L486.8 745.3L487.1 729L487.5 731.4L487.9 752.1L488.3 789.6L488.6 840.7L489 901.4L489.4 966.8L489.8 1031.4L490.2 1090.2L490.5 1138.2L490.9 1171.8L491.3 1188L491.7 1185.6L492 1164.9L492.4 1127.4L492.8 1076.2L493.2 1015.5L493.5 950.1L493.9 885.5L494.3 826.8L494.7 778.7L495 745.2L495.4 729L495.8 731.4L496.2 752.2L496.5 789.7L496.9 840.9L497.3 901.6L497.7 967L498 1031.6L498.4 1090.3L498.8 1138.4L499.2 1171.8L499.6 1188L499.9 1185.6L500.3 1164.8L500.7 1127.2L501.1 1076L501.4 1015.3L501.8 949.9L502.2 885.3L502.6 826.6L502.9 778.6L503.3 745.1L503.7 729L504.1 731.4L504.4 752.3L504.8 789.8L505.2 841.1L505.6 901.8L505.9 967.2L506.3 1031.8L506.7 1090.5L507.1 1138.5L507.5 1171.9L507.8 1188.1L508.2 1185.6L508.6 1164.7L509 1127.1L509.3 1075.9L509.7 1015.1L510.1 949.8L510.5 885.1L510.8 826.4L511.2 778.4L511.6 745.1L512 729L512.3 731.5L512.7 752.4L513.1 790L513.5 841.2L513.8 902L514.2 967.3L514.6 1032L515 1090.6L515.3 1138.6L515.7 1172L516.1 1188L516.5 1185.5L516.9 1164.6L517.2 1127L517.6 1075.7L518 1014.9L518.4 949.6L518.7 884.9L519.1 826.3L519.5 778.3L519.9 745L520.2 728.9L520.6 731.5L521 752.4L521.4 790.1L521.7 841.4L522.1 902.2L522.5 967.5L522.9 1032.2L523.2 1090.8L523.6 1138.7L524 1172.1L524.4 1188.1L524.8 1185.5L525.1 1164.5L525.5 1126.8L525.9 1075.5L526.3 1014.7L526.6 949.4L527 884.8L527.4 826.1L527.8 778.2L528.1 744.9L528.5 728.9L528.9 731.5L529.3 752.5L529.6 790.2L530 841.6L530.4 902.4L530.8 967.7L531.1 1032.3L531.5 1091L531.9 1138.8L532.3 1172.1L532.6 1188.1L533 1185.4L533.4 1164.4L533.8 1126.7L534.2 1075.4L534.5 1014.5L534.9 949.2L535.3 884.6L535.7 826L536 778.1L536.4 744.8L536.8 728.9L537.2 731.5L537.5 752.6L537.9 790.4L538.3 841.7L538.7 902.6L539 967.9L539.4 1032.5L539.8 1091.1L540.2 1139L540.5 1172.2L540.9 1188.1L541.3 1185.4L541.7 1164.3L542.1 1126.6L542.4 1075.2L542.8 1014.3L543.2 949L543.6 884.4L543.9 825.8L544.3 778L544.7 744.8L545.1 728.9L545.4 731.6L545.8 752.7L546.2 790.5L546.6 841.9L546.9 902.7L547.3 968.1L547.7 1032.7L548.1 1091.3L548.4 1139.1L548.8 1172.3L549.2 1188.1L549.6 1185.4L549.9 1164.2L550.3 1126.4L550.7 1075L551.1 1014.2L551.5 948.8L551.8 884.2L552.2 825.6L552.6 777.8L553 744.7L553.3 728.8L553.7 731.6L554.1 752.8L554.5 790.6L554.8 842.1L555.2 902.9L555.6 968.3L556 1032.9L556.3 1091.4L556.7 1139.2L557.1 1172.3L557.5 1188.1L557.8 1185.3L558.2 1164.1L558.6 1126.3L559 1074.9L559.4 1014L559.7 948.6L560.1 884L560.5 825.5L560.9 777.7L561.2 744.6L561.6 728.9L562 731.7L562.4 752.9L562.7 790.8L563.1 842.2L563.5 903.1L563.9 968.5L564.2 1033.1L564.6 1091.6L565 1139.3L565.4 1172.4L565.7 1188.2L566.1 1185.3L566.5 1164.1L566.9 1126.2L567.2 1074.7L567.6 1013.8L568 948.4L568.4 883.9L568.8 825.3L569.1 777.6L569.5 744.5L569.9 728.8L570.3 731.7L570.6 753L571 790.9L571.4 842.4L571.8 903.3L572.1 968.7L572.5 1033.2L572.9 1091.7L573.3 1139.4L573.6 1172.5L574 1188.2L574.4 1185.3L574.8 1164L575.1 1126L575.5 1074.5L575.9 1013.6L576.3 948.2L576.7 883.7L577 825.2L577.4 777.5L577.8 744.5L578.2 728.8L578.5 731.7L578.9 753.1L579.3 791L579.7 842.6L580 903.5L580.4 968.9L580.8 1033.4L581.2 1091.9L581.5 1139.6L581.9 1172.6L582.3 1188.2L582.7 1185.3L583 1163.9L583.4 1125.9L583.8 1074.4L584.2 1013.4L584.6 948L584.9 883.5L585.3 825L585.7 777.4L586.1 744.4L586.4 728.8L586.8 731.8L587.2 753.2L587.6 791.2L587.9 842.7L588.3 903.7L588.7 969.1L589.1 1033.6L589.4 1092L589.8 1139.7L590.2 1172.6L590.6 1188.2L590.9 1185.2L591.3 1163.8L591.7 1125.8L592.1 1074.2L592.4 1013.2L592.8 947.8L593.2 883.3L593.6 824.9L594 777.3L594.3 744.3L594.7 728.7L595.1 731.8L595.5 753.2L595.8 791.3L596.2 842.9L596.6 903.9L597 969.3L597.3 1033.8L597.7 1092.2L598.1 1139.8L598.5 1172.7L598.8 1188.3L599.2 1185.2L599.6 1163.8L600 1125.7L600.3 1074L600.7 1013.1L601.1 947.6L601.5 883.1L601.9 824.7L602.2 777.1L602.6 744.3L603 728.8L603.4 731.9L603.7 753.3L604.1 791.4L604.5 843.1L604.9 904L605.2 969.4L605.6 1034L606 1092.4L606.4 1139.9L606.7 1172.8L607.1 1188.2L607.5 1185.1L607.9 1163.6L608.2 1125.5L608.6 1073.9L609 1012.9L609.4 947.5L609.7 882.9L610.1 824.5L610.5 777L610.9 744.2L611.3 728.7L611.6 731.8L612 753.4L612.4 791.5L612.8 843.2L613.1 904.2L613.5 969.6L613.9 1034.1L614.3 1092.5L614.6 1140L615 1172.8L615.4 1188.3L615.8 1185.1L616.1 1163.5L616.5 1125.4L616.9 1073.7L617.3 1012.7L617.6 947.3L618 882.8L618.4 824.4L618.8 776.9L619.2 744.1L619.5 728.7L619.9 731.9L620.3 753.5L620.7 791.7L621 843.4L621.4 904.4L621.8 969.8L622.2 1034.3L622.5 1092.7L622.9 1140.2L623.3 1172.9L623.7 1188.3L624 1185.1L624.4 1163.5L624.8 1125.2L625.2 1073.5L625.5 1012.5L625.9 947.1L626.3 882.6L626.7 824.2L627 776.8L627.4 744L627.8 728.6L628.2 731.9L628.6 753.6L628.9 791.8L629.3 843.5L629.7 904.6L630.1 970L630.4 1034.5L630.8 1092.8L631.2 1140.3L631.6 1173L631.9 1188.3L632.3 1185L632.7 1163.4L633.1 1125.1L633.4 1073.4L633.8 1012.3L634.2 946.9L634.6 882.4L634.9 824.1L635.3 776.7L635.7 744L636.1 728.7L636.5 732L636.8 753.7L637.2 792L637.6 843.7L638 904.8L638.3 970.2L638.7 1034.7L639.1 1093L639.5 1140.4L639.8 1173.1L640.2 1188.4L640.6 1185L641 1163.3L641.3 1125L641.7 1073.2L642.1 1012.1L642.5 946.7L642.8 882.2L643.2 823.9L643.6 776.5L644 743.9L644.3 728.6L644.7 732L645.1 753.8L645.5 792.1L645.9 843.9L646.2 905L646.6 970.4L647 1034.9L647.4 1093.1L647.7 1140.5L648.1 1173.1L648.5 1188.3L648.9 1184.9L649.2 1163.2L649.6 1124.8L650 1073L650.4 1011.9L650.7 946.5L651.1 882L651.5 823.8L651.9 776.4L652.2 743.8L652.6 728.6L653 732.1L653.4 753.9L653.8 792.2L654.1 844.1L654.5 905.2L654.9 970.6L655.3 1035.1L655.6 1093.3L656 1140.7L656.4 1173.3L656.8 1188.4L657.1 1185L657.5 1163.1L657.9 1124.7L658.3 1072.9L658.6 1011.7L659 946.3L659.4 881.9L659.8 823.6L660.1 776.3L660.5 743.8L660.9 728.6L661.3 732.1L661.6 753.9L662 792.3L662.4 844.2L662.8 905.3L663.2 970.8L663.5 1035.2L663.9 1093.4L664.3 1140.7L664.7 1173.2L665 1188.4L665.4 1184.8L665.8 1163L666.2 1124.6L666.5 1072.7L666.9 1011.6L667.3 946.1L667.7 881.7L668 823.5L668.4 776.2L668.8 743.7L669.2 728.6L669.5 732.1L669.9 754L670.3 792.5L670.7 844.4L671.1 905.5L671.4 971L671.8 1035.4L672.2 1093.6L672.6 1140.9L672.9 1173.4L673.3 1188.4L673.7 1184.9L674.1 1162.9L674.4 1124.5L674.8 1072.5L675.2 1011.4L675.6 945.9L675.9 881.5L676.3 823.3L676.7 776.1L677.1 743.6L677.4 728.6L677.8 732.2L678.2 754.1L678.6 792.6L679 844.5L679.3 905.7L679.7 971.2L680.1 1035.6L680.5 1093.8L680.8 1141L681.2 1173.4L681.6 1188.4L682 1184.8L682.3 1162.8L682.7 1124.3L683.1 1072.4L683.5 1011.2L683.8 945.7L684.2 881.3L684.6 823.1L685 775.9L685.3 743.5L685.7 728.5L686.1 732.2L686.5 754.2L686.8 792.7L687.2 844.7L687.6 905.9L688 971.4L688.4 1035.8L688.7 1093.9L689.1 1141.1L689.5 1173.5L689.9 1188.4L690.2 1184.8L690.6 1162.8L691 1124.2L691.4 1072.2L691.7 1011L692.1 945.5L692.5 881.1L692.9 823L693.2 775.9L693.6 743.5L694 728.6L694.4 732.3L694.7 754.3L695.1 792.9L695.5 844.9L695.9 906.1L696.3 971.5L696.6 1035.9L697 1094.1L697.4 1141.2L697.8 1173.5L698.1 1188.4L698.5 1184.7L698.9 1162.6L699.3 1124L699.6 1072L700 1010.8L700.4 945.4L700.8 880.9L701.1 822.8L701.5 775.7L701.9 743.4L702.3 728.5L702.6 732.3L703 754.4L703.4 793L703.8 845L704.1 906.3L704.5 971.7L704.9 1036.1L705.3 1094.2L705.7 1141.3L706 1173.6L706.4 1188.5L706.8 1184.7L707.2 1162.6L707.5 1123.9L707.9 1071.9L708.3 1010.6L708.7 945.2L709 880.8L709.4 822.7L709.8 775.6L710.2 743.4L710.5 728.5L710.9 732.3L711.3 754.5L711.7 793.1L712 845.2L712.4 906.5L712.8 971.9L713.2 1036.3L713.6 1094.4L713.9 1141.5L714.3 1173.8L714.7 1188.6L715.1 1184.7L715.4 1162.5L715.8 1123.8L716.2 1071.7L716.6 1010.4L716.9 945L717.3 880.6L717.7 822.5L718.1 775.5L718.4 743.2L718.8 728.5L719.2 732.3L719.6 754.5L719.9 793.3L720.3 845.4L720.7 906.6L721.1 972.1L721.4 1036.5L721.8 1094.5L722.2 1141.5L722.6 1173.7L723 1188.5L723.3 1184.6L723.7 1162.4L724.1 1123.7L724.5 1071.5L724.8 1010.3L725.2 944.8L725.6 880.4L726 822.4L726.3 775.4L726.7 743.2L727.1 728.5L727.5 732.4L727.8 754.7L728.2 793.4L728.6 845.6L729 906.8L729.3 972.3L729.7 1036.7L730.1 1094.7L730.5 1141.7L730.9 1173.9L731.2 1188.5L731.6 1184.6L732 1162.3L732.4 1123.5L732.7 1071.4L733.1 1010.1L733.5 944.6L733.9 880.2L734.2 822.2L734.6 775.3L735 743.2L735.4 728.5L735.7 732.4L736.1 754.7L736.5 793.5L736.9 845.7L737.2 907L737.6 972.5L738 1036.8L738.4 1094.8L738.7 1141.8L739.1 1173.9L739.5 1188.5L739.9 1184.5L740.3 1162.2L740.6 1123.4L741 1071.2L741.4 1009.9L741.8 944.4L742.1 880.1L742.5 822.1L742.9 775.1L743.3 743L743.6 728.4L744 732.5L744.4 754.8L744.8 793.7L745.1 845.9L745.5 907.2L745.9 972.7L746.3 1037L746.6 1095L747 1142L747.4 1174L747.8 1188.6L748.2 1184.5L748.5 1162.2L748.9 1123.3L749.3 1071.1L749.7 1009.7L750 944.2L750.4 879.9L750.8 821.9L751.2 775.1L751.5 743L751.9 728.5L752.3 732.5L752.7 754.9L753 793.8L753.4 846L753.8 907.4L754.2 972.9L754.5 1037.2L754.9 1095.1L755.3 1142L755.7 1174L756 1188.5L756.4 1184.4L756.8 1162L757.2 1123.1L757.6 1070.9L757.9 1009.5L758.3 944L758.7 879.7L759.1 821.7L759.4 774.8L759.8 742.9L760.2 728.4L760.6 732.6L760.9 755L761.3 794L761.7 846.2L762.1 907.6L762.4 973.1L762.8 1037.4L763.2 1095.3L763.6 1142.2L763.9 1174.1L764.3 1188.6L764.7 1184.4L765.1 1162L765.5 1123L765.8 1070.7L766.2 1009.3L766.6 943.8L767 879.5L767.3 821.6L767.7 774.8L768.1 742.9L768.5 728.4L768.8 732.6L769.2 755.1L769.6 794.1L770 846.4L770.3 907.8L770.7 973.3L771.1 1037.6L771.5 1095.5L771.8 1142.3L772.2 1174.2L772.6 1188.6L773 1184.4L773.3 1161.8L773.7 1122.8L774.1 1070.5L774.5 1009.1L774.9 943.6L775.2 879.3L775.6 821.4L776 774.7L776.4 742.8L776.7 728.4L777.1 732.6L777.5 755.2L777.9 794.2L778.2 846.5L778.6 908L779 973.5L779.4 1037.7L779.7 1095.6L780.1 1142.4L780.5 1174.2L780.9 1188.6L781.2 1184.4L781.6 1161.8L782 1122.8L782.4 1070.4L782.8 1009L783.1 943.4L783.5 879.2L783.9 821.3L784.3 774.6L784.6 742.8L785 728.4L785.4 732.7L785.8 755.3L786.1 794.4L786.5 846.7L786.9 908.1L787.3 973.7L787.6 1038L788 1095.8L788.4 1142.6L788.8 1174.4L789.1 1188.6L789.5 1184.3L789.9 1161.6L790.3 1122.6L790.7 1070.2L791 1008.8L791.4 943.3L791.8 879L792.2 821.1L792.5 774.4L792.9 742.6L793.3 728.3L793.7 732.6L794 755.3L794.4 794.4L794.8 846.9L795.2 908.3L795.5 973.8L795.9 1038.1L796.3 1095.9L796.7 1142.6L797 1174.4L797.4 1188.7L797.8 1184.3L798.2 1161.6L798.5 1122.5L798.9 1070.1L799.3 1008.6L799.7 943.1L800.1 878.8L800.4 821L800.8 774.3L801.2 742.6L801.6 728.4L801.9 732.8L802.3 755.5L802.7 794.6L803.1 847.1L803.4 908.5L803.8 974L804.2 1038.3L804.6 1096.1L804.9 1142.7L805.3 1174.4L805.7 1188.6L806.1 1184.2L806.4 1161.5L806.8 1122.3L807.2 1069.9L807.6 1008.4L808 942.9L808.3 878.6L808.7 820.9L809.1 774.2L809.5 742.5L809.8 728.3L810.2 732.7L810.6 755.5L811 794.7L811.3 847.2L811.7 908.7L812.1 974.2L812.5 1038.5L812.8 1096.2L813.2 1142.8L813.6 1174.5L814 1188.6L814.3 1184.2L814.7 1161.4L815.1 1122.2L815.5 1069.7L815.8 1008.2L816.2 942.7L816.6 878.4L817 820.7L817.4 774.1L817.7 742.4L818.1 728.3L818.5 732.9L818.9 755.7L819.2 794.9L819.6 847.4L820 908.9L820.4 974.4L820.7 1038.7L821.1 1096.5L821.5 1143.1L821.9 1174.7L822.2 1188.8L822.6 1184.3L823 1161.4L823.4 1122.1L823.7 1069.6L824.1 1008L824.5 942.5L824.9 878.3L825.3 820.5L825.6 774L826 742.3L826.4 728.2L826.8 732.7L827.1 755.6L827.5 794.9L827.9 847.5L828.3 909.1L828.6 974.6L829 1038.8L829.4 1096.5L829.8 1143.1L830.1 1174.6L830.5 1188.7L830.9 1184.1L831.3 1161.2L831.6 1121.9L832 1069.3L832.4 1007.8L832.8 942.3L833.1 878.1L833.5 820.4L833.9 773.9L834.3 742.4L834.7 728.3L835 733L835.4 755.9L835.8 795.2L836.2 847.7L836.5 909.3L836.9 974.8L837.3 1039L837.7 1096.7L838 1143.2L838.4 1174.7L838.8 1188.7L839.2 1184.1L839.5 1161.2L839.9 1121.9L840.3 1069.2L840.7 1007.7L841 942.1L841.4 877.9L841.8 820.3L842.2 773.8L842.6 742.3L842.9 728.3L843.3 733L843.7 755.9L844.1 795.3L844.4 847.9L844.8 909.5L845.2 975L845.6 1039.2L845.9 1096.8L846.3 1143.3L846.7 1174.7L847.1 1188.7L847.4 1184L847.8 1161L848.2 1121.6L848.6 1069L848.9 1007.4L849.3 941.9L849.7 877.7L850.1 820L850.4 773.6L850.8 742.1L851.2 728.2L851.6 732.9L852 755.9L852.3 795.3L852.7 848L853.1 909.6L853.5 975.2L853.8 1039.4L854.2 1097L854.6 1143.5L855 1175L855.3 1189L855.7 1184.3L856.1 1161.3L856.5 1121.7L856.8 1068.9L857.2 1007.3L857.6 941.7L858 877.6L858.3 819.9L858.7 773.5L859.1 742.1L859.5 728.3L859.9 733.1L860.2 756.1L860.6 795.6L861 848.2L861.4 909.8L861.7 975.4L862.1 1039.6L862.5 1097.2L862.9 1143.5L863.2 1174.9L863.6 1188.7L864 1183.8L864.4 1160.8L864.7 1121.3L865.1 1068.7L865.5 1007.1L865.9 941.5L866.2 877.3L866.6 819.7L867 773.4L867.4 742L867.7 728.2L868.1 733L868.5 756.1L868.9 795.6L869.3 848.4L869.6 910L870 975.6L870.4 1039.7L870.8 1097.3L871.1 1143.6L871.5 1175L871.9 1188.8L872.3 1184L872.6 1160.8L873 1121.2L873.4 1068.5L873.8 1006.9L874.1 941.3L874.5 877.2L874.9 819.6L875.3 773.3L875.6 742L876 728.3L876.4 733.2L876.8 756.4L877.2 795.9L877.5 848.6L877.9 910.2L878.3 975.8L878.7 1039.9L879 1097.5L879.4 1143.8L879.8 1175L880.2 1188.8L880.5 1183.8L880.9 1160.7L881.3 1121.1L881.7 1068.4L882 1006.7L882.4 941.2L882.8 877L883.2 819.5L883.5 773.1L883.9 741.7L884.3 727.9L884.7 732.7L885.1 756L885.4 795.7L885.8 848.6L886.2 910.4L886.6 975.9L886.9 1040.1L887.3 1097.6L887.7 1143.9L888.1 1175.1L888.4 1188.8L888.8 1183.8L889.2 1160.6L889.6 1121L889.9 1068.2L890.3 1006.5L890.7 941L891.1 876.8L891.4 819.3L891.8 773.1L892.2 741.9L892.6 728.3L892.9 733.3L893.3 756.6L893.7 796.2L894.1 848.9L894.5 910.6L894.8 976.1L895.2 1040.3L895.6 1097.8L896 1144.1L896.3 1175.3L896.7 1188.9L897.1 1183.9L897.5 1160.6L897.8 1120.9L898.2 1068L898.6 1006.3L899 940.8L899.3 876.6L899.7 819.1L900.1 772.8L900.5 741.6L900.8 727.9L901.2 733L901.6 756.4L902 796.2L902.4 849.1L902.7 910.8L903.1 976.3L903.5 1040.4L903.9 1097.9L904.2 1144.1L904.6 1175.2L905 1188.7L905.4 1183.6L905.7 1160.3L906.1 1120.6L906.5 1067.8L906.9 1006.1L907.2 940.6L907.6 876.4L908 819L908.4 772.9L908.7 741.8L909.1 728.3L909.5 733.4L909.9 756.7L910.2 796.4L910.6 849.2L911 911L911.4 976.5L911.8 1040.6L912.1 1098.1L912.5 1144.3L912.9 1175.5L913.3 1189.2L913.6 1184.1L914 1160.7L914.4 1120.8L914.8 1067.8L915.1 1006L915.5 940.4L915.9 876.3L916.3 818.9L916.6 772.8L917 741.7L917.4 728.1L917.8 733.3L918.1 756.7L918.5 796.5L918.9 849.4L919.3 911.1L919.7 976.7L920 1040.8L920.4 1098.2L920.8 1144.2L921.2 1175.2L921.5 1188.7L921.9 1183.5L922.3 1160.1L922.7 1120.3L923 1067.5L923.4 1005.8L923.8 940.2L924.2 876.1L924.5 818.7L924.9 772.6L925.3 741.6L925.7 728.1L926 733.3L926.4 756.8L926.8 796.6L927.2 849.6L927.5 911.3L927.9 976.9L928.3 1041L928.7 1098.5L929.1 1144.7L929.4 1175.9L929.8 1189.4L930.2 1184.2L930.6 1160.5L930.9 1120.5L931.3 1067.4L931.7 1005.6L932.1 940L932.4 875.9L932.8 818.5L933.2 772.4L933.6 741.5L933.9 728.2L934.3 733.5L934.7 757L935.1 796.8L935.4 849.8L935.8 911.5L936.2 977.1L936.6 1041.2L937 1098.5L937.3 1144.5L937.7 1175.4L938.1 1188.7L938.5 1183.4L938.8 1159.9L939.2 1120.1L939.6 1067.2L940 1005.4L940.3 939.8L940.7 875.7L941.1 818.3L941.5 772.3L941.8 741.2L942.2 727.8L942.6 733.1L943 756.7L943.3 796.7L943.7 849.8L944.1 911.7L944.5 977.3L944.8 1041.3L945.2 1098.7L945.6 1144.7L946 1175.7L946.4 1189L946.7 1183.7L947.1 1160L947.5 1120.1L947.9 1067L948.2 1005.2L948.6 939.6L949 875.6L949.4 818.3L949.7 772.4L950.1 741.6L950.5 728.4L950.9 733.7L951.2 757.3L951.6 797.2L952 850.1L952.4 911.9L952.7 977.5L953.1 1041.5L953.5 1098.8L953.9 1144.7L954.3 1175.5L954.6 1188.8L955 1183.4L955.4 1159.8L955.8 1119.9L956.1 1066.8L956.5 1005L956.9 939.4L957.3 875.4L957.6 817.9L958 771.8L958.4 740.7L958.8 727.3L959.1 732.8L959.5 756.6L959.9 796.9L960.3 850.2L960.6 912.1L961 977.7L961.4 1041.7L961.8 1099.1L962.1 1145.1L962.5 1175.9L962.9 1189.1L963.3 1183.5L963.7 1159.7L964 1119.7L964.4 1066.7L964.8 1004.8L965.2 939.2L965.5 875.2L965.9 818L966.3 772.1L966.7 741.4L967 728.2L967.4 733.7L967.8 757.4L968.2 797.4L968.5 850.4L968.9 912.3L969.3 977.9L969.7 1041.9L970 1099.2L970.4 1145.2L970.8 1176L971.2 1189.3L971.6 1183.8L971.9 1160L972.3 1119.8L972.7 1066.6L973.1 1004.6L973.4 939.1L973.8 875L974.2 817.7L974.6 771.7L974.9 740.8L975.3 727.7L975.7 733.3L976.1 757.2L976.4 797.4L976.8 850.6L977.2 912.4L977.6 978L977.9 1042L978.3 1099.2L978.7 1145L979.1 1175.6L979.5 1188.6L979.8 1183.1L980.2 1159.3L980.6 1119.3L981 1066.3L981.3 1004.5L981.7 938.9L982.1 874.9L982.5 817.7L982.8 772L983.2 741.3L983.6 728.3L984 733.9L984.3 757.6L984.7 797.7L985.1 850.8L985.5 912.6L985.8 978.2L986.2 1042.3L986.6 1099.6L987 1145.6L987.3 1176.6L987.7 1189.8L988.1 1184.1L988.5 1160L988.9 1119.6L989.2 1066.3L989.6 1004.3L990 938.7L990.4 874.7L990.7 817.4L991.1 771.5L991.5 740.7L991.9 727.6L992.2 733.4L992.6 757.3L993 797.6L993.4 850.9L993.7 912.8L994.1 978.4L994.5 1042.4L994.9 1099.5L995.2 1145.2L995.6 1175.8L996 1188.8L996.4 1183.1L996.8 1159.3L997.1 1119.1L997.5 1066L997.9 1004.1L998.3 938.5L998.6 874.5L999 817.3L999.4 771.5L999.8 740.8L1000.1 727.7L1000.5 733.4L1000.9 757.4L1001.3 797.7L1001.6 851.1L1002 913L1002.4 978.6L1002.8 1042.6L1003.1 1100L1003.5 1146L1003.9 1176.8L1004.3 1189.8L1004.6 1183.9L1005 1159.7L1005.4 1119.2L1005.8 1065.9L1006.2 1003.9L1006.5 938.3L1006.9 874.3L1007.3 817.2L1007.7 771.6L1008 741.1L1008.4 728.3L1008.8 734.1L1009.2 758L1009.5 798.1L1009.9 851.3L1010.3 913.2L1010.7 978.8L1011 1042.7L1011.4 1099.8L1011.8 1145.4L1012.2 1175.8L1012.5 1188.7L1012.9 1182.9L1013.3 1159L1013.7 1118.8L1014.1 1065.6L1014.4 1003.7L1014.8 938.1L1015.2 874.1L1015.6 816.8L1015.9 770.9L1016.3 740.2L1016.7 727.3L1017.1 733.2L1017.4 757.4L1017.8 798L1018.2 851.4L1018.6 913.4L1018.9 979L1019.3 1043L1019.7 1100.3L1020.1 1146.1L1020.4 1176.7L1020.8 1189.6L1021.2 1183.6L1021.6 1159.4L1021.9 1119L1022.3 1065.6L1022.7 1003.5L1023.1 937.9L1023.5 874L1023.8 817L1024.2 771.5L1024.6 741.1L1025 728.3L1025.3 734.1L1025.7 758.1L1026.1 798.3L1026.5 851.6L1026.8 913.6L1027.2 979.2L1027.6 1043.1L1028 1100.1L1028.3 1145.7L1028.7 1176.1L1029.1 1189L1029.5 1183.2L1029.8 1159.2L1030.2 1118.8L1030.6 1065.3L1031 1003.3L1031.4 937.7L1031.7 873.7L1032.1 816.4L1032.5 770.5L1032.9 739.7L1033.2 726.9L1033.6 733L1034 757.5L1034.4 798.2L1034.7 851.7L1035.1 913.8L1035.5 979.4L1035.9 1043.3L1036.2 1100.4L1036.6 1145.9L1037 1176.2L1037.4 1188.9L1037.7 1182.9L1038.1 1158.8L1038.5 1118.4L1038.9 1065.1L1039.2 1003.1L1039.6 937.5L1040 873.6L1040.4 816.7L1040.8 771.2L1041.1 741L1041.5 728.3L1041.9 734.3L1042.3 758.4L1042.6 798.7L1043 852L1043.4 914L1043.8 979.6L1044.1 1043.6L1044.5 1100.8L1044.9 1146.6L1045.3 1177.1L1045.6 1189.7L1046 1183.5L1046.4 1159L1046.8 1118.4L1047.1 1064.9L1047.5 1002.9L1047.9 937.3L1048.3 873.3L1048.7 816L1049 770.1L1049.4 739.7L1049.8 727.1L1050.2 733.3L1050.5 757.8L1050.9 798.5L1051.3 852L1051.7 914.1L1052 979.8L1052.4 1043.6L1052.8 1100.5L1053.2 1145.9L1053.5 1176.1L1053.9 1188.7L1054.3 1182.7L1054.7 1158.6L1055 1118.2L1055.4 1064.9L1055.8 1002.8L1056.2 937.1L1056.5 873.3L1056.9 816.4L1057.3 771.1L1057.7 740.9L1058.1 728.2L1058.4 734.2L1058.8 758.4L1059.2 798.9L1059.6 852.3L1059.9 914.3L1060.3 980L1060.7 1043.9L1061.1 1101.1L1061.4 1146.9L1061.8 1177.4L1062.2 1190L1062.6 1183.7L1062.9 1159.1L1063.3 1118.3L1063.7 1064.6L1064.1 1002.6L1064.4 937L1064.8 873L1065.2 816L1065.6 770.5L1066 740.3L1066.3 727.9L1066.7 734.1L1067.1 758.4L1067.5 798.9L1067.8 852.4L1068.2 914.5L1068.6 980.1L1069 1044L1069.3 1100.8L1069.7 1146.1L1070.1 1176.2L1070.5 1188.7L1070.8 1182.6L1071.2 1158.4L1071.6 1117.9L1072 1064.4L1072.3 1002.4L1072.7 936.8L1073.1 872.8L1073.5 815.7L1073.8 770.1L1074.2 739.7L1074.6 727.2L1075 733.6L1075.4 758.4L1075.7 799.2L1076.1 852.7L1076.5 914.7L1076.9 980.3L1077.2 1044.5L1077.6 1101.9L1078 1147.8L1078.4 1178.2L1078.7 1190.5L1079.1 1183.9L1079.5 1159L1079.9 1118L1080.2 1064.3L1080.6 1002.2L1081 936.6L1081.4 872.7L1081.7 815.9L1082.1 770.7L1082.5 740.6L1082.9 728.2L1083.3 734.4L1083.6 758.7L1084 799.2L1084.4 852.7L1084.8 914.9L1085.1 980.5L1085.5 1044.3L1085.9 1101L1086.3 1146.2L1086.6 1176.2L1087 1188.6L1087.4 1182.4L1087.8 1158.1L1088.1 1117.6L1088.5 1064.1L1088.9 1002L1089.3 936.4L1089.6 872.5L1090 815.5L1090.4 770L1090.8 739.8L1091.2 727.5L1091.5 734L1091.9 758.7L1092.3 799.5L1092.7 853L1093 915.1L1093.4 980.7L1093.8 1044.7L1094.2 1101.7L1094.5 1147.1L1094.9 1177.1L1095.3 1189.3L1095.7 1182.9L1096 1158.4L1096.4 1117.7L1096.8 1064.1L1097.2 1001.9L1097.5 936.2L1097.9 872.4L1098.3 815.7L1098.7 770.6L1099 740.6L1099.4 728.2L1099.8 734.5L1100.2 758.9L1100.6 799.4L1100.9 853L1101.3 915.2L1101.7 980.9L1102.1 1044.7L1102.4 1101.6L1102.8 1147L1103.2 1177.3L1103.6 1189.7L1103.9 1183.2L1104.3 1158.3L1104.7 1117.4L1105.1 1063.7L1105.4 1001.6L1105.8 936L1106.2 871.9L1106.6 814.4L1106.9 768.4L1107.3 738L1107.7 725.9L1108.1 732.9L1108.5 758.2L1108.8 799.4L1109.2 853.3L1109.6 915.5L1110 981.1L1110.3 1044.9L1110.7 1101.7L1111.1 1146.9L1111.5 1176.8L1111.8 1189L1112.2 1182.6L1112.6 1158.3L1113 1117.6L1113.3 1063.9L1113.7 1001.5L1114.1 935.8L1114.5 872.1L1114.8 815.5L1115.2 770.5L1115.6 740.7L1116 728.4L1116.3 734.8L1116.7 759.3L1117.1 799.9L1117.5 853.5L1117.9 915.7L1118.2 981.3L1118.6 1045.2L1119 1102L1119.4 1147.3L1119.7 1177L1120.1 1189L1120.5 1182.4L1120.9 1157.7L1121.2 1116.9L1121.6 1063.3L1122 1001.2L1122.4 935.6L1122.7 871.6L1123.1 814.5L1123.5 769.2L1123.9 739.5L1124.2 727.6L1124.6 734.4L1125 759.1L1125.4 799.9L1125.8 853.6L1126.1 915.8L1126.5 981.5L1126.9 1045.2L1127.3 1101.8L1127.6 1146.8L1128 1176.6L1128.4 1188.8L1128.8 1182.4L1129.1 1158L1129.5 1117.4L1129.9 1063.5L1130.3 1001.1L1130.6 935.4L1131 871.7L1131.4 815.1L1131.8 770L1132.1 740.1L1132.5 727.8L1132.9 734.3L1133.3 759.1L1133.6 800.1L1134 853.9L1134.4 916L1134.8 981.7L1135.2 1045.7L1135.5 1103.1L1135.9 1148.9L1136.3 1179.1L1136.7 1191.1L1137 1183.9L1137.4 1158.5L1137.8 1117L1138.2 1063.1L1138.5 1000.9L1138.9 935.2L1139.3 871.4L1139.7 814.6L1140 769.4L1140.4 739.4L1140.8 727.2L1141.2 733.6L1141.5 758.3L1141.9 799.4L1142.3 853.5L1142.7 916.1L1143.1 981.8L1143.4 1045.5L1143.8 1102L1144.2 1146.9L1144.6 1176.6L1144.9 1188.7L1145.3 1182.2L1145.7 1157.5L1146.1 1116.7L1146.4 1062.9L1146.8 1000.7L1147.2 935L1147.6 871.3L1147.9 814.5L1148.3 769.4L1148.7 739.9L1149.1 728.1L1149.4 734.9L1149.8 759.8L1150.2 800.8L1150.6 854.4L1150.9 916.4L1151.3 982.1L1151.7 1046.3L1152.1 1103.5L1152.5 1148.8L1152.8 1178.2L1153.2 1189.6L1153.6 1182.3L1154 1157.4L1154.3 1116.4L1154.7 1062.7L1155.1 1000.5L1155.5 934.9L1155.8 871.2L1156.2 814.6L1156.6 769.7L1157 740.1L1157.3 728.1L1157.7 734.6L1158.1 759L1158.5 799.9L1158.8 853.9L1159.2 916.5L1159.6 982.2L1160 1045.9L1160.4 1102.4L1160.7 1147.2L1161.1 1176.9L1161.5 1188.9L1161.9 1182.2L1162.2 1157.4L1162.6 1116.4L1163 1062.5L1163.4 1000.3L1163.7 934.7L1164.1 870.7L1164.5 813.7L1164.9 768.3L1165.2 738.5L1165.6 726.9L1166 734.2L1166.4 759.6L1166.7 800.7L1167.1 854.5L1167.5 916.8L1167.9 982.4L1168.2 1046.3L1168.6 1103L1169 1148.1L1169.4 1177.9L1169.8 1190.1L1170.1 1183.6L1170.5 1158.8L1170.9 1117.5L1171.3 1063L1171.6 1000.2L1172 934.5L1172.4 870.9L1172.8 814.6L1173.1 769.8L1173.5 740.2L1173.9 728.1L1174.3 734.6L1174.6 759.1L1175 800.2L1175.4 854.4L1175.8 916.9L1176.1 982.6L1176.5 1046.3L1176.9 1102.9L1177.3 1147.7L1177.7 1177.2L1178 1188.9L1178.4 1181.9L1178.8 1156.8L1179.2 1115.7L1179.5 1062L1179.9 999.9L1180.3 934.2L1180.7 870L1181 812.5L1181.4 767.2L1181.8 737.9L1182.2 727.1L1182.5 734.8L1182.9 760L1183.3 801.2L1183.7 855L1184 917.2L1184.4 982.8L1184.8 1046.6L1185.2 1103.3L1185.6 1148.2L1185.9 1177.8L1186.3 1189.9L1186.7 1183.3L1187.1 1158.4L1187.4 1117L1187.8 1062.6L1188.2 999.8L1188.6 934.1L1188.9 870.5L1189.3 814.1L1189.7 769.4L1190.1 739.9L1190.4 728.1L1190.8 734.9L1191.2 760L1191.6 801.1L1191.9 855L1192.3 917.3L1192.7 983L1193.1 1046.8L1193.4 1103.5L1193.8 1148.4L1194.2 1177.5L1194.6 1189L1195 1181.8L1195.3 1156.6L1195.7 1115.5L1196.1 1061.8L1196.5 999.5L1196.8 933.9L1197.2 870L1197.6 813.4L1198 768.7L1198.3 739.3L1198.7 727.6L1199.1 734.2L1199.5 759L1199.8 800.2L1200.2 854.6L1200.6 917.4L1201 983.2L1201.3 1046.7L1201.7 1102.9L1202.1 1147.5L1202.5 1177L1202.9 1189L1203.2 1183L1203.6 1158.5L1204 1117L1204.4 1062.4L1204.7 999.5L1205.1 933.7L1205.5 870.2L1205.9 813.8L1206.2 769.1L1206.6 739.8L1207 728.2L1207.4 735.4L1207.7 760.6L1208.1 801.8L1208.5 855.6L1208.9 917.8L1209.2 983.4L1209.6 1047.7L1210 1105L1210.4 1150.2L1210.7 1179.3L1211.1 1189.8L1211.5 1181.9L1211.9 1156.5L1212.3 1115.3L1212.6 1061.4L1213 999.2L1213.4 933.5L1213.8 869.5L1214.1 812.5L1214.5 767.2L1214.9 737.2L1215.3 725.2L1215.6 732.1L1216 757.7L1216.4 799.8L1216.8 854.8L1217.1 917.8L1217.5 983.6L1217.9 1047.1L1218.3 1103.5L1218.6 1148.2L1219 1177.8L1219.4 1190L1219.8 1183.1L1220.2 1157.6L1220.5 1115.8L1220.9 1061.5L1221.3 999L1221.7 933.3L1222 869.6L1222.4 813.1L1222.8 768.6L1223.2 739.6L1223.5 728.4L1223.9 735.8L1224.3 761.1L1224.7 802.2L1225 856L1225.4 918.1L1225.8 983.8L1226.2 1047.7L1226.5 1104.3L1226.9 1148.6L1227.3 1177.5L1227.7 1188.9L1228 1181.7L1228.4 1156.6L1228.8 1115.5L1229.2 1061.5L1229.6 998.9L1229.9 933.2L1230.3 869.7L1230.7 813.5L1231.1 769L1231.4 739.7L1231.8 727.9L1232.2 733.8L1232.6 758.4L1232.9 800L1233.3 855L1233.7 918.1L1234.1 983.9L1234.4 1047.4L1234.8 1103.5L1235.2 1148L1235.6 1177.1L1235.9 1188.6L1236.3 1181.3L1236.7 1156L1237.1 1114.7L1237.5 1060.8L1237.8 998.6L1238.2 932.9L1238.6 868.9L1239 812L1239.3 767.4L1239.7 739L1240.1 728.1L1240.5 735.7L1240.8 761.1L1241.2 802.4L1241.6 856.3L1242 918.5L1242.3 984.2L1242.7 1048.2L1243.1 1105.3L1243.5 1150.8L1243.8 1181L1244.2 1193.2L1244.6 1186.2L1245 1160.3L1245.3 1117.5L1245.7 1061.9L1246.1 998.6L1246.5 932.8L1246.9 869.3L1247.2 813L1247.6 767.8L1248 737.1L1248.4 724.3L1248.7 731.2L1249.1 757.4L1249.5 800.3L1249.9 855.6L1250.2 918.6L1250.6 984.3L1251 1047.9L1251.4 1104.2L1251.7 1148.7L1252.1 1177.6L1252.5 1188.6L1252.9 1180.9L1253.2 1155.4L1253.6 1114.1L1254 1060.4L1254.4 998.2L1254.8 932.5L1255.1 868.5L1255.5 811.9L1255.9 767.9L1256.3 739.4L1256.6 728.4L1257 735.9L1257.4 761.3L1257.8 802.5L1258.1 856.5L1258.5 918.8L1258.9 984.5L1259.3 1048L1259.6 1104.2L1260 1148.7L1260.4 1177.9L1260.8 1190.2L1261.1 1183.8L1261.5 1158.6L1261.9 1116.6L1262.3 1061.4L1262.6 998.2L1263 932.4L1263.4 869L1263.8 812.9L1264.2 768.6L1264.5 739.7L1264.9 728.5L1265.3 735.9L1265.7 761.4L1266 802.8L1266.4 856.8L1266.8 919.1L1267.2 984.7L1267.5 1048.5L1267.9 1104.8L1268.3 1148.8L1268.7 1177.3L1269 1188L1269.4 1180.3L1269.8 1154.9L1270.2 1113.8L1270.5 1060L1270.9 997.8L1271.3 932.1L1271.7 868.2L1272.1 811.3L1272.4 766.3L1272.8 736.5L1273.2 724.3L1273.6 731.2L1273.9 757L1274.3 799.7L1274.7 855.5L1275.1 919.1L1275.4 984.9L1275.8 1048.3L1276.2 1104.6L1276.6 1150.2L1276.9 1181.7L1277.3 1195.3L1277.7 1188.7L1278.1 1162L1278.4 1118.1L1278.8 1061.6L1279.2 997.8L1279.6 932L1280 868.6L1280.3 812.5L1280.7 768.1L1281.1 739.3L1281.5 728.4L1281.8 736.1L1282.2 761.8L1282.6 803.2L1283 857.2L1283.3 919.5L1283.7 985.1L1284.1 1049L1284.5 1105.3L1284.8 1149.1L1285.2 1177.5L1285.6 1188.2L1286 1180.5L1286.3 1155L1286.7 1113.7L1287.1 1059.8L1287.5 997.5L1287.8 931.8L1288.2 868L1288.6 811.4L1289 766.4L1289.4 736.6L1289.7 724.5L1290.1 731.7L1290.5 757.8L1290.9 800.6L1291.2 856.2L1291.6 919.5L1292 985.3L1292.4 1048.7L1292.7 1104.9L1293.1 1149.3L1293.5 1178.3L1293.9 1189.2L1294.2 1181.4L1294.6 1155.5L1295 1113.8L1295.4 1059.7L1295.7 997.3L1296.1 931.6L1296.5 867.9L1296.9 812L1297.3 768.1L1297.6 740.1L1298 729.8L1298.4 737.8L1298.8 763.2L1299.1 804.2L1299.5 857.7L1299.9 919.8L1300.3 985.5L1300.6 1049.5L1301 1105.9L1301.4 1150.1L1301.8 1178.8L1302.1 1190.2L1302.5 1183.2L1302.9 1157.9L1303.3 1115.8L1303.6 1060.6L1304 997.2L1304.4 931.5L1304.8 868.1L1305.1 811.8L1305.5 765.9L1305.9 734.1L1306.3 720.1L1306.7 726.5L1307 753.5L1307.4 798.1L1307.8 855.4L1308.2 919.7L1308.5 985.6L1308.9 1048.9L1309.3 1104.8L1309.7 1148.9L1310 1177.6L1310.4 1188.5L1310.8 1180.8L1311.2 1155.1L1311.5 1113.5L1311.9 1059.3L1312.3 996.9L1312.7 931.2L1313 867.8L1313.4 812L1313.8 768.3L1314.2 740.2L1314.6 729.7L1314.9 737.4L1315.3 762.8L1315.7 804L1316.1 857.9L1316.4 920.2L1316.8 985.9L1317.2 1049.7L1317.6 1106.6L1317.9 1152L1318.3 1182.3L1318.7 1194.5L1319.1 1187.1L1319.4 1160.2L1319.8 1116.4L1320.2 1060.3L1320.6 996.8L1320.9 931.1L1321.3 867.4L1321.7 810.2L1322.1 764.1L1322.4 733.7L1322.8 722.5L1323.2 731.6L1323.6 759.5L1324 803L1324.3 857.8L1324.7 920.4L1325.1 986.1L1325.5 1049.8L1325.8 1105.7L1326.2 1149.4L1326.6 1177.2L1327 1187.1L1327.3 1178.8L1327.7 1153.1L1328.1 1112.1L1328.5 1058.5L1328.8 996.5L1329.2 930.8L1329.6 866.8L1330 810.6L1330.3 767.3L1330.7 739L1331.1 728.3L1331.5 736.1L1331.9 761.8L1332.2 803.4L1332.6 857.8L1333 920.5L1333.4 986.2L1333.7 1049.7L1334.1 1106.6L1334.5 1152.9L1334.9 1184.6L1335.2 1198.2L1335.6 1191.3L1336 1163.8L1336.4 1118.7L1336.7 1061.1L1337.1 996.6L1337.5 930.7L1337.9 867.5L1338.2 811.8L1338.6 767.9L1339 739.4L1339.4 728.6L1339.7 736.4L1340.1 762.2L1340.5 803.9L1340.9 858.1L1341.3 920.7L1341.6 986.4L1342 1049.6L1342.4 1104.9L1342.8 1147.8L1343.1 1175.3L1343.5 1185.6L1343.9 1178L1344.3 1153L1344.6 1112.1L1345 1058.4L1345.4 996.1L1345.8 930.5L1346.1 866.9L1346.5 810.7L1346.9 765.9L1347.3 735.9L1347.6 723.4L1348 730.4L1348.4 757.1L1348.8 800.9L1349.2 857.3L1349.5 920.8L1349.9 986.6L1350.3 1050.6L1350.7 1108.8L1351 1156.5L1351.4 1188.6L1351.8 1200.8L1352.2 1191.3L1352.5 1161.7L1352.9 1116L1353.3 1059.3L1353.7 996L1354 930.3L1354.4 866.7L1354.8 810.5L1355.2 767L1355.5 739.1L1355.9 729.2L1356.3 737.7L1356.7 763.8L1357 805.2L1357.4 859L1357.8 921.2L1358.2 986.9L1358.6 1050.7L1358.9 1106.3L1359.3 1149.8L1359.7 1177.7L1360.1 1188.1L1360.4 1180L1360.8 1154.3L1361.2 1112.6L1361.6 1058.3L1361.9 995.8L1362.3 930.1L1362.7 866L1363.1 808.3L1363.4 761.2L1363.8 729.2L1364.2 716.3L1364.6 724.5L1364.9 753.2L1365.3 799.1L1365.7 856.9L1366.1 921.1L1366.5 987L1366.8 1050.2L1367.2 1106.1L1367.6 1150.1L1368 1178.5L1368.3 1188.9L1368.7 1180.7L1369.1 1154.6L1369.5 1112.7L1369.8 1058.3L1370.2 995.7L1370.6 929.9L1371 867L1371.3 812.2L1371.7 770L1372.1 743.3L1372.5 733.5L1372.8 741.1L1373.2 765.7L1373.6 806L1374 859.3L1374.3 921.5L1374.7 987.2L1375.1 1050.5L1375.5 1106.1L1375.9 1149.7L1376.2 1178L1376.6 1189L1377 1181.8L1377.4 1156.5L1377.7 1114L1378.1 1058.6L1378.5 995.4L1378.9 929.7L1379.2 865.5L1379.6 806.6L1380 757.9L1380.4 724.6L1380.7 711.8L1381.1 721.4L1381.5 752.1L1381.9 799.3L1382.2 857.5L1382.6 921.6L1383 987.4L1383.4 1050.7L1383.8 1106.9L1384.1 1150.8L1384.5 1178.7L1384.9 1188.8L1385.3 1180.2L1385.6 1154L1386 1112.1L1386.4 1057.8L1386.8 995.2L1387.1 929.5L1387.5 866.3L1387.9 810.9L1388.3 767.7L1388.6 740L1389 729.7L1389.4 737.6L1389.8 763.2L1390.1 804.9L1390.5 859.3L1390.9 921.9L1391.3 987.6L1391.7 1051.8L1392 1110.2L1392.4 1158.2L1392.8 1190.9L1393.2 1203.9L1393.5 1194.7L1393.9 1164.4L1394.3 1117.3L1394.7 1059.1L1395 995.1L1395.4 929.3L1395.8 865.4L1396.2 807.6L1396.5 761.4L1396.9 732L1397.3 722.4L1397.7 732.9L1398 761.3L1398.4 804.5L1398.8 859.3L1399.2 922L1399.5 987.7L1399.9 1050.7L1400.3 1105.3L1400.7 1147L1401.1 1173.2L1401.4 1182.4L1401.8 1174.5L1402.2 1150L1402.6 1110L1402.9 1056.9L1403.3 994.8L1403.7 929.1L1404.1 866L1404.4 810.9L1404.8 768.1L1405.2 740.6L1405.6 730.3L1405.9 738.1L1406.3 763.7L1406.7 805.4L1407.1 859.8L1407.4 922.3L1407.8 988.1L1408.2 1052.9L1408.6 1112.5L1409 1161.7L1409.3 1194.7L1409.7 1206.9L1410.1 1196.4L1410.5 1164.9L1410.8 1117.2L1411.2 1058.9L1411.6 994.8L1412 929L1412.3 865.6L1412.7 809.3L1413.1 765L1413.5 736.9L1413.8 727.1L1414.2 735.8L1414.6 762L1415 804L1415.3 858.9L1415.7 922.3L1416.1 988.1L1416.5 1050.8L1416.8 1105.4L1417.2 1147.8L1417.6 1175.2L1418 1185.7L1418.4 1178.4L1418.7 1153.3L1419.1 1111.8L1419.5 1057.4L1419.9 994.5L1420.2 928.8L1420.6 865.3L1421 807.9L1421.4 760.3L1421.7 727.1L1422.1 713.3L1422.5 721.9L1422.9 752.3L1423.2 800L1423.6 858.6L1424 922.6L1424.4 988.4L1424.7 1053.2L1425.1 1113.2L1425.5 1162.2L1425.9 1193.9L1426.3 1203.9L1426.6 1191.6L1427 1160.3L1427.4 1114.2L1427.8 1057.7L1428.1 994.3L1428.5 928.6L1428.9 865.6L1429.3 810.9L1429.6 769L1430 742.9L1430.4 733.9L1430.8 742.2L1431.1 767.1L1431.5 807.4L1431.9 860.6L1432.3 922.9L1432.6 988.5L1433 1051.5L1433.4 1106.3L1433.8 1148.5L1434.1 1175.3L1434.5 1185L1434.9 1176.9L1435.3 1151.4L1435.7 1110.1L1436 1056.2L1436.4 994L1436.8 928.1L1437.2 862.2L1437.5 801.1L1437.9 751.1L1438.3 718.8L1438.7 708.6L1439 721.6L1439.4 754.7L1439.8 802.5L1440.2 860L1440.5 923L1440.9 988.8L1441.3 1053.3L1441.7 1111L1442 1156.2L1442.4 1184.2L1442.8 1193.1L1443.2 1183.4L1443.6 1156.5L1443.9 1113.9L1444.3 1058.3L1444.7 994.2L1445.1 928.3L1445.4 866L1445.8 812.4L1446.2 771.1L1446.6 744.4L1446.9 733.8L1447.3 740.4L1447.7 764.7L1448.1 805.6L1448.4 859.5L1448.8 923L1449.2 988.8L1449.6 1051.7L1449.9 1106.9L1450.3 1150.8L1450.7 1181.4L1451.1 1195.9L1451.4 1189.3L1451.8 1161.2L1452.2 1115.1L1452.6 1057.4L1453 993.7L1453.3 927.9L1453.7 862.6L1454.1 801.6L1454.5 750.9L1454.8 717.6L1455.2 706.9L1455.6 719.8L1456 753L1456.3 801.1L1456.7 859.3L1457.1 923.3L1457.5 989.1L1457.8 1052L1458.2 1106.9L1458.6 1149.2L1459 1175.8L1459.3 1185.1L1459.7 1176.8L1460.1 1151.3L1460.5 1110.3L1460.9 1056.2L1461.2 993.6L1461.6 927.9L1462 865.2L1462.4 810.9L1462.7 769L1463.1 742.2L1463.5 732.5L1463.9 740.6L1464.2 766.3L1464.6 807.7L1465 861.6L1465.4 923.7L1465.7 989.7L1466.1 1056.6L1466.5 1119.5L1466.9 1171.1L1467.2 1203.7L1467.6 1212.1L1468 1195.9L1468.4 1160.1L1468.7 1111.2L1469.1 1055.8L1469.5 993.2L1469.9 927.3L1470.3 860.6L1470.6 799.2L1471 751L1471.4 722.3L1471.8 715.4L1472.1 728.5L1472.5 758.5L1472.9 802.9L1473.3 859.2L1473.6 923.5L1474 989.4L1474.4 1051.4L1474.8 1104.6L1475.1 1145.2L1475.5 1171.2L1475.9 1181.5L1476.3 1175.1L1476.6 1151.3L1477 1110.8L1477.4 1057.3L1477.8 993.5L1478.2 927.6L1478.5 865.3L1478.9 811.3L1479.3 768.9L1479.7 741.1L1480 730.1L1480.4 737.7L1480.8 763.8L1481.2 806.2L1481.5 861.2L1481.9 924L1482.3 989.9L1482.7 1055.4L1483 1116.4L1483.4 1166.3L1483.8 1198.5L1484.2 1208.1L1484.5 1194.7L1484.9 1161.7L1485.3 1114.1L1485.7 1056.6L1486.1 993L1486.4 927.3L1486.8 864.3L1487.2 809.3L1487.6 766.8L1487.9 739.9L1488.3 730.3L1488.7 738.4L1489.1 764L1489.4 804.7L1489.8 859.4L1490.2 923.8L1490.6 989.7L1490.9 1051.7L1491.3 1105.2L1491.7 1146.7L1492.1 1173.6L1492.4 1184.1L1492.8 1176.8L1493.2 1151.4L1493.6 1109.7L1493.9 1055.2L1494.3 992.7L1494.7 926.8L1495.1 860.2L1495.5 797L1495.8 744.2L1496.2 710.3L1496.6 701.7L1497 719.2L1497.3 757.3L1497.7 806.7L1498.1 862.2L1498.5 924.5L1498.8 990.7L1499.2 1059.9L1499.6 1126.1L1500 1179.2L1500.3 1210.5L1500.7 1216.3L1501.1 1198.9L1501.5 1163.7L1501.8 1115.4L1502.2 1057.3L1502.6 992.8L1503 927L1503.4 864.7L1503.7 811.3L1504.1 770.4L1504.5 744.3L1504.9 734.2L1505.2 740.9L1505.6 765.1L1506 805L1506.4 859.3L1506.7 924.1L1507.1 990.1L1507.5 1051.8L1507.9 1104.8L1508.2 1145.9L1508.6 1172.6L1509 1182.8L1509.4 1175.2L1509.7 1149.9L1510.1 1108.5L1510.5 1054.5L1510.9 992.3L1511.2 926.3L1511.6 859.9L1512 799L1512.4 751.2L1512.8 723.2L1513.1 718L1513.5 733.9L1513.9 764.5L1514.3 807.7L1514.6 862.4L1515 924.8L1515.4 990.6L1515.8 1054.6L1516.1 1109.5L1516.5 1151.5L1516.9 1178L1517.3 1187.3L1517.6 1179L1518 1154.1L1518.4 1114.4L1518.8 1058.4L1519.1 992.8L1519.5 926.7L1519.9 865.4L1520.3 813.1L1520.7 772.6L1521 745.6L1521.4 734.1L1521.8 740.2L1522.2 764.7L1522.5 805.8L1522.9 861.1L1523.3 924.8L1523.7 990.6L1524 1054.9L1524.4 1114.9L1524.8 1165.9L1525.2 1200.2L1525.5 1210.7L1525.9 1195.2L1526.3 1158.2L1526.7 1109.5L1527 1054L1527.4 991.8L1527.8 925.5L1528.2 854.8L1528.5 785.4L1528.9 728.3L1529.3 694.1L1529.7 687.9L1530.1 707.7L1530.4 747L1530.8 799.2L1531.2 859.7L1531.6 924.8L1531.9 990.7L1532.3 1053.2L1532.7 1107.3L1533.1 1149.4L1533.4 1176.6L1533.8 1187.4L1534.2 1181.4L1534.6 1160.5L1534.9 1118.8L1535.3 1059.9L1535.7 992.6L1536.1 926.4L1536.4 865.2L1536.8 812.8L1537.2 772.1L1537.6 745.6L1538 735.5L1538.3 743.1L1538.7 768.6L1539.1 809.8L1539.5 863.5L1539.8 925.4L1540.2 991.5L1540.6 1059.1L1541 1121L1541.3 1167.5L1541.7 1191.2L1542.1 1190.1L1542.5 1176.8L1542.8 1147.8L1543.2 1105.6L1543.6 1052.6L1544 991.4L1544.3 925.2L1544.7 857.7L1545.1 798.7L1545.5 757L1545.8 735.5L1546.2 728.9L1546.6 738.4L1547 764.6L1547.4 804.9L1547.7 859.8L1548.1 924.9L1548.5 990.9L1548.9 1052L1549.2 1103.7L1549.6 1143.5L1550 1170.1L1550.4 1181.9L1550.7 1176.7L1551.1 1153.3L1551.5 1114.6L1551.9 1057.7L1552.2 991.9L1552.6 925.9L1553 863.5L1553.4 808.5L1553.7 764.7L1554.1 733.8L1554.5 722.3L1554.9 734L1555.3 764.9L1555.6 808.9L1556 863.8L1556.4 925.9L1556.8 992.2L1557.1 1062.8L1557.5 1131.7L1557.9 1187.9L1558.3 1221.4L1558.6 1227.4L1559 1207.9L1559.4 1169.1L1559.8 1117.1L1560.1 1056.7L1560.5 991.5L1560.9 925.6L1561.3 863.1L1561.6 808.6L1562 765.6L1562.4 736.5L1562.8 717.4L1563.1 716.7L1563.5 739.6L1563.9 787.3L1564.3 853L1564.7 924.6L1565 991.2L1565.4 1051.4L1565.8 1103L1566.2 1143.8L1566.5 1171.5L1566.9 1183.1L1567.3 1176.2L1567.7 1150.4L1568 1108.1L1568.4 1053.4L1568.8 990.9L1569.2 924.8L1569.5 857.4L1569.9 795.3L1570.3 748.7L1570.7 726.9L1571 729L1571.4 743.2L1571.8 773L1572.2 814.8L1572.6 866.4L1572.9 926.5L1573.3 993.2L1573.7 1065.7L1574.1 1131.6L1574.4 1177.7L1574.8 1198.1L1575.2 1196L1575.6 1179.3L1575.9 1151.3L1576.3 1108.9L1576.7 1054.4L1577.1 991.1L1577.4 925.3L1577.8 863.6L1578.2 811L1578.6 770.4L1578.9 743.5L1579.3 731.9L1579.7 737.6L1580.1 756.6L1580.4 798.2" fill="none" stroke="#0072BD" stroke-width="7.5" stroke-linejoin="round" stroke-linecap="round" clip-path="url(#cc)"/>
<path d="M1544.7 770V678.6M1504 770V688.5M1462.5 770V703.3M1445.4 770V714.8M1527 770V707M1561.5 770V700" stroke="#0072BD" stroke-width="7.5" stroke-linecap="round" fill="none" clip-path="url(#cc)"/>
<path d="M1532.5 1150V1225.1M1574.1 1150V1236.5M1474.3 1150V1212.1M1491.4 1150V1213.1M1516.1 1150V1212.1M1556.6 1150V1211.5M1432.9 1150V1202.2M1417.4 1150V1199" stroke="#0072BD" stroke-width="7.5" stroke-linecap="round" fill="none" clip-path="url(#cc)"/>
<path d="M309.2 726.5v13M317.5 726.5v12M325.8 726.5v24M334.1 726.4v36M342.3 726.4v12M350.6 726.4v12M358.9 726.4v37M367.2 726.4v26M375.4 726.3v12M383.7 726.3v13M392 726.3v26M400.3 726.3v12M408.5 726.2v26M416.8 726.2v12M425.1 726.2v12M433.4 726.2v12M441.6 726.1v24M449.9 726.1v24M458.2 726.1v12M466.5 726.1v12M474.7 726.1v12M483 726v26M491.3 726v24M499.6 726v12M507.8 726v37M516.1 726v26M524.4 725.9v12M532.6 725.9v12M540.9 725.9v36M549.2 725.9v36M557.5 725.9v26M565.7 725.9v12M574 725.8v26M582.3 725.8v26M590.6 725.8v24M598.8 725.8v12M607.1 725.8v12M615.4 725.7v12M623.7 725.7v26M631.9 725.7v37M640.2 725.7v12M648.5 725.6v13M656.8 725.6v24M665 725.6v12M673.3 725.6v26M681.6 725.6v12M689.9 725.6v26M698.1 725.6v13M706.4 725.5v26M714.7 725.5v37M723 725.5v36M731.2 725.5v12M739.5 725.5v12M747.8 725.5v26M756 725.5v26M764.3 725.4v36M772.6 725.4v12M780.9 725.4v13M789.1 725.4v12M797.4 725.4v26M805.7 725.4v36M814 725.3v12M822.2 725.3v26M830.5 725.3v12M838.8 725.3v26M847.1 725.3v12M855.3 725.3v24M863.6 725.3v36M871.9 725.3v26M880.2 725.3v24M888.4 725.3v37M896.7 725.3v13M905 725.3v24M913.3 725.3v26M921.5 725.1v24M929.8 725.2v13M938.1 725.2v13M946.4 725.4v12M954.6 725.4v37M962.9 725.2v12M971.2 725.2v36M979.5 725.3v37M987.7 725.3v12M996 724.7v12M1004.3 725.3v26M1012.5 725.3v13M1020.8 725.3v26M1029.1 725.3v24M1037.4 725.3v13M1045.6 725.3v36M1053.9 725.2v24M1062.2 725.2v13M1070.5 724.9v26M1078.7 725.2v12M1087 725.2v12M1095.3 725.2v26M1103.6 725.2v24M1111.8 725.4v12M1120.1 725.4v37M1128.4 724.8v13M1136.7 724.8v12M1144.9 725.1v24M1153.2 725.1v24M1161.5 725.1v12M1169.8 725.1v36M1178 725.1v12M1186.3 725.1v37M1194.6 725.1v26M1202.9 725.2v26M1211.1 725.2v37M1219.4 725.4v37M1227.7 725.4v13M1235.9 725.1v13M1244.2 725.1v36M1252.5 725.4v13M1260.8 725.5v26M1269 725.5v24M1277.3 725.4v26M1285.6 725.4v37M1293.9 726.8v24M1302.1 726.8v12M1310.4 726.7v37M1318.7 726.7v12M1327 725.3v13M1335.2 725.6v24M1343.5 725.6v36M1351.8 726.2v36M1360.1 726.2v12M1368.3 730.5v12M1376.6 730.5v36M1384.9 726.7v36M1393.2 726.7v13M1401.4 727.3v36M1409.7 727.3v26M1418 724.1v36M1426.3 730.9v37M1434.5 730.9v24M1442.8 730.8v13M1451.1 730.8v36M1459.3 729.5v24M1467.6 729.5v36M1475.9 727.1v13M1484.2 727.3v12M1492.4 727.3v24M1500.7 731.2v13M1509 731.2v12M1517.3 731.1v26M1525.5 731.1v12M1533.8 732.5v24M1542.1 732.5v12M1550.4 725.9v12M1558.8 719.3v37M1566.9 723.9v13M305.1 1190.5v-14M313.4 1190.5v-14M321.7 1190.5v-25M329.9 1190.5v-25M338.2 1190.6v-25M346.5 1190.6v-13M354.8 1190.6v-14M363 1190.6v-25M371.3 1190.7v-25M379.6 1190.7v-33M387.9 1190.7v-23M396.1 1190.7v-14M404.4 1190.8v-25M412.7 1190.8v-33M420.9 1190.8v-23M429.2 1190.8v-25M437.5 1190.9v-23M445.8 1190.9v-25M454 1190.9v-14M462.3 1190.9v-14M470.6 1190.9v-13M478.9 1190.9v-14M487.1 1191v-14M495.4 1191v-14M503.7 1191v-14M512 1191v-13M520.2 1191v-25M528.5 1191.1v-33M536.8 1191.1v-14M545.1 1191.1v-23M553.3 1191.1v-23M561.6 1191.1v-13M569.9 1191.2v-14M578.2 1191.2v-25M586.4 1191.2v-33M594.7 1191.2v-23M603 1191.2v-33M611.3 1191.2v-33M619.5 1191.3v-23M627.8 1191.3v-14M636.1 1191.3v-33M644.3 1191.3v-33M652.6 1191.3v-13M660.9 1191.4v-25M669.2 1191.4v-33M677.4 1191.4v-25M685.7 1191.4v-25M694 1191.4v-25M702.3 1191.4v-25M710.5 1191.5v-13M718.8 1191.5v-25M727.1 1191.5v-25M735.4 1191.5v-13M743.6 1191.5v-14M751.9 1191.5v-13M760.2 1191.5v-14M768.5 1191.6v-25M776.7 1191.6v-14M785 1191.6v-13M793.3 1191.6v-23M801.6 1191.6v-33M809.8 1191.6v-13M818.1 1191.6v-13M826.4 1191.7v-13M834.7 1191.7v-33M842.9 1191.7v-14M851.2 1191.7v-33M859.5 1191.7v-13M867.7 1191.7v-23M876 1191.8v-33M884.3 1191.8v-13M892.6 1191.8v-13M900.8 1191.7v-14M909.1 1191.7v-33M917.4 1191.7v-25M925.7 1191.7v-14M933.9 1191.7v-23M942.2 1191.7v-23M950.5 1191.8v-33M958.8 1191.8v-23M967 1192.1v-25M975.3 1191.6v-13M983.6 1191.6v-13M991.9 1191.8v-25M1000.1 1191.8v-25M1008.4 1191.7v-25M1016.7 1191.7v-25M1025 1192v-23M1033.2 1191.9v-13M1041.5 1191.9v-14M1049.8 1191.7v-13M1058.1 1191.7v-23M1066.3 1191.7v-23M1074.6 1191.7v-25M1082.9 1191.6v-14M1091.2 1191.6v-33M1099.4 1192.3v-13M1107.7 1192v-14M1116 1192v-33M1124.2 1191.8v-23M1132.5 1191.8v-14M1140.8 1191.7v-33M1149.1 1191.7v-13M1157.3 1191.9v-33M1165.6 1191.9v-23M1173.9 1191.9v-13M1182.2 1191.9v-23M1190.4 1192v-33M1198.7 1192v-23M1207 1192v-14M1215.3 1192.8v-23M1223.5 1191.9v-14M1231.8 1191.6v-33M1240.1 1191.6v-33M1248.4 1191.6v-33M1256.6 1191.6v-23M1264.9 1191v-14M1273.2 1191v-33M1281.5 1191.2v-14M1289.7 1191.2v-14M1298 1192.2v-25M1306.3 1191.5v-14M1314.6 1191.5v-14M1322.8 1190.1v-33M1331.1 1190.1v-25M1339.4 1188.6v-23M1347.6 1188.6v-13M1355.9 1191.1v-13M1364.2 1191.1v-23M1372.5 1191.9v-25M1380.7 1191.8v-23M1389 1191.8v-14M1397.3 1185.4v-33M1405.6 1185.4v-23M1413.8 1188.7v-25M1422.1 1188.7v-23M1430.4 1188v-23M1438.7 1188v-13M1446.9 1196.1v-14M1455.2 1188.1v-13M1463.5 1188.1v-14M1471.8 1184.5v-25M1480 1184.5v-14M1488.3 1187.1v-23M1496.6 1187.1v-14M1504.9 1185.8v-25M1513.1 1185.8v-33M1521.4 1190.3v-33M1529.7 1190.4v-13M1537.8 1190.4v-25M1546 1184.9v-23M1554.5 1184.9v-13M1562.8 1186.1v-13M1570.9 1186.1v-25" stroke="#fff" stroke-width="1.1" fill="none"/>
<rect x="294.1" y="766" width="6.8" height="420" fill="#0072BD"/>
<path d="M1575.9 747H1582.7V823L1579.8 1000H1575.9Z" fill="#0072BD"/>
<rect x="294.6" y="1320.8" width="1280.9" height="565.2" fill="none" stroke="#222222" stroke-width="6.8" stroke-linejoin="round"/>
<path d="M335.8 1320.8V1332.9M335.8 1886V1873.9M749.4 1320.8V1332.9M749.4 1886V1873.9M1162.9 1320.8V1332.9M1162.9 1886V1873.9M294.6 1401H306.7M1575.5 1401H1563.4M294.6 1806H306.7M1575.5 1806H1563.4" fill="none" stroke="#222222" stroke-width="6.6" stroke-linecap="round"/>
<path d="M294.7 1451.8L295 1421L295.4 1405L295.8 1405L296.2 1421.1L296.5 1451.9L296.9 1495L297.3 1546.8L297.7 1603.1L298 1659.5L298.4 1711.2L298.8 1754.2L299.2 1785L299.5 1801L299.9 1800.9L300.3 1784.9L300.7 1754L301 1711L301.4 1659.2L301.8 1602.8L302.2 1546.5L302.5 1494.7L302.9 1451.7L303.3 1421L303.7 1405L304.1 1405.1L304.4 1421.2L304.8 1452L305.2 1495.1L305.6 1546.9L305.9 1603.3L306.3 1659.6L306.7 1711.4L307.1 1754.3L307.4 1785.1L307.8 1801L308.2 1800.9L308.6 1784.8L308.9 1753.9L309.3 1710.8L309.7 1659L310.1 1602.6L310.4 1546.3L310.8 1494.6L311.2 1451.6L311.6 1420.9L311.9 1405L312.3 1405.1L312.7 1421.2L313.1 1452.1L313.5 1495.2L313.8 1547.1L314.2 1603.4L314.6 1659.8L315 1711.5L315.3 1754.5L315.7 1785.1L316.1 1801L316.5 1800.9L316.8 1784.7L317.2 1753.8L317.6 1710.7L318 1658.8L318.3 1602.5L318.7 1546.1L319.1 1494.4L319.5 1451.5L319.8 1420.8L320.2 1405L320.6 1405.1L321 1421.3L321.3 1452.2L321.7 1495.4L322.1 1547.2L322.5 1603.6L322.9 1659.9L323.2 1711.7L323.6 1754.6L324 1785.2L324.4 1801.1L324.7 1800.9L325.1 1784.6L325.5 1753.7L325.9 1710.6L326.2 1658.7L326.6 1602.3L327 1546L327.4 1494.3L327.7 1451.4L328.1 1420.8L328.5 1404.9L328.9 1405.1L329.2 1421.4L329.6 1452.3L330 1495.5L330.4 1547.4L330.7 1603.8L331.1 1660.1L331.5 1711.8L331.9 1754.7L332.3 1785.3L332.6 1801.1L333 1800.8L333.4 1784.6L333.8 1753.6L334.1 1710.4L334.5 1658.5L334.9 1602.1L335.3 1545.8L335.6 1494.1L336 1451.3L336.4 1420.7L336.8 1404.9L337.1 1405.2L337.5 1421.5L337.9 1452.5L338.3 1495.7L338.6 1547.6L339 1603.9L339.4 1660.3L339.8 1711.9L340.1 1754.8L340.5 1785.3L340.9 1801.1L341.3 1800.8L341.7 1784.5L342 1753.5L342.4 1710.3L342.8 1658.4L343.2 1602L343.5 1545.7L343.9 1494L344.3 1451.2L344.7 1420.6L345 1404.9L345.4 1405.2L345.8 1421.5L346.2 1452.6L346.5 1495.8L346.9 1547.7L347.3 1604.1L347.7 1660.4L348 1712.1L348.4 1754.9L348.8 1785.4L349.2 1801.1L349.5 1800.8L349.9 1784.4L350.3 1753.4L350.7 1710.1L351.1 1658.2L351.4 1601.8L351.8 1545.5L352.2 1493.9L352.6 1451.1L352.9 1420.6L353.3 1404.9L353.7 1405.2L354.1 1421.6L354.4 1452.7L354.8 1495.9L355.2 1547.9L355.6 1604.3L355.9 1660.6L356.3 1712.2L356.7 1755L357.1 1785.5L357.4 1801.2L357.8 1800.8L358.2 1784.4L358.6 1753.3L358.9 1710L359.3 1658L359.7 1601.6L360.1 1545.3L360.5 1493.7L360.8 1450.9L361.2 1420.5L361.6 1404.8L362 1405.2L362.3 1421.7L362.7 1452.8L363.1 1496.1L363.5 1548L363.8 1604.4L364.2 1660.7L364.6 1712.4L365 1755.1L365.3 1785.5L365.7 1801.2L366.1 1800.7L366.5 1784.3L366.8 1753.2L367.2 1709.9L367.6 1657.9L368 1601.5L368.3 1545.2L368.7 1493.6L369.1 1450.8L369.5 1420.4L369.9 1404.8L370.2 1405.3L370.6 1421.7L371 1452.9L371.4 1496.2L371.7 1548.2L372.1 1604.6L372.5 1660.9L372.9 1712.5L373.2 1755.2L373.6 1785.6L374 1801.2L374.4 1800.7L374.7 1784.2L375.1 1753.1L375.5 1709.7L375.9 1657.7L376.2 1601.3L376.6 1545L377 1493.4L377.4 1450.7L377.7 1420.4L378.1 1404.8L378.5 1405.3L378.9 1421.8L379.3 1453L379.6 1496.4L380 1548.4L380.4 1604.8L380.8 1661.1L381.1 1712.6L381.5 1755.3L381.9 1785.7L382.3 1801.2L382.6 1800.7L383 1784.2L383.4 1752.9L383.8 1709.6L384.1 1657.6L384.5 1601.1L384.9 1544.9L385.3 1493.3L385.6 1450.6L386 1420.3L386.4 1404.8L386.8 1405.3L387.1 1421.9L387.5 1453.1L387.9 1496.5L388.3 1548.5L388.7 1604.9L389 1661.2L389.4 1712.8L389.8 1755.4L390.2 1785.7L390.5 1801.2L390.9 1800.7L391.3 1784.1L391.7 1752.8L392 1709.4L392.4 1657.4L392.8 1601L393.2 1544.7L393.5 1493.2L393.9 1450.5L394.3 1420.2L394.7 1404.8L395 1405.3L395.4 1421.9L395.8 1453.2L396.2 1496.6L396.5 1548.7L396.9 1605.1L397.3 1661.4L397.7 1712.9L398.1 1755.5L398.4 1785.8L398.8 1801.3L399.2 1800.6L399.6 1784L399.9 1752.7L400.3 1709.3L400.7 1657.2L401.1 1600.8L401.4 1544.5L401.8 1493L402.2 1450.4L402.6 1420.2L402.9 1404.7L403.3 1405.4L403.7 1422L404.1 1453.3L404.4 1496.8L404.8 1548.8L405.2 1605.3L405.6 1661.5L405.9 1713L406.3 1755.6L406.7 1785.9L407.1 1801.3L407.5 1800.6L407.8 1783.9L408.2 1752.6L408.6 1709.2L409 1657.1L409.3 1600.6L409.7 1544.4L410.1 1492.9L410.5 1450.3L410.8 1420.1L411.2 1404.7L411.6 1405.4L412 1422.1L412.3 1453.4L412.7 1496.9L413.1 1549L413.5 1605.4L413.8 1661.7L414.2 1713.2L414.6 1755.8L415 1785.9L415.3 1801.3L415.7 1800.6L416.1 1783.9L416.5 1752.5L416.9 1709L417.2 1656.9L417.6 1600.5L418 1544.2L418.4 1492.7L418.7 1450.2L419.1 1420L419.5 1404.7L419.9 1405.4L420.2 1422.2L420.6 1453.6L421 1497.1L421.4 1549.2L421.7 1605.6L422.1 1661.8L422.5 1713.3L422.9 1755.9L423.2 1786L423.6 1801.3L424 1800.6L424.4 1783.8L424.7 1752.4L425.1 1708.9L425.5 1656.8L425.9 1600.3L426.3 1544.1L426.6 1492.6L427 1450.1L427.4 1420L427.8 1404.7L428.1 1405.4L428.5 1422.2L428.9 1453.7L429.3 1497.2L429.6 1549.3L430 1605.8L430.4 1662L430.8 1713.5L431.1 1756L431.5 1786.1L431.9 1801.3L432.3 1800.5L432.6 1783.7L433 1752.3L433.4 1708.7L433.8 1656.6L434.1 1600.1L434.5 1543.9L434.9 1492.5L435.3 1450L435.7 1419.9L436 1404.6L436.4 1405.5L436.8 1422.3L437.2 1453.8L437.5 1497.3L437.9 1549.5L438.3 1605.9L438.7 1662.2L439 1713.6L439.4 1756.1L439.8 1786.1L440.2 1801.4L440.5 1800.5L440.9 1783.7L441.3 1752.2L441.7 1708.6L442 1656.5L442.4 1600L442.8 1543.8L443.2 1492.3L443.5 1449.9L443.9 1419.8L444.3 1404.6L444.7 1405.5L445.1 1422.4L445.4 1453.9L445.8 1497.5L446.2 1549.6L446.6 1606.1L446.9 1662.3L447.3 1713.7L447.7 1756.2L448.1 1786.2L448.4 1801.4L448.8 1800.5L449.2 1783.6L449.6 1752.1L449.9 1708.4L450.3 1656.3L450.7 1599.8L451.1 1543.6L451.4 1492.2L451.8 1449.8L452.2 1419.8L452.6 1404.6L452.9 1405.5L453.3 1422.4L453.7 1454L454.1 1497.6L454.5 1549.8L454.8 1606.3L455.2 1662.5L455.6 1713.9L456 1756.3L456.3 1786.3L456.7 1801.4L457.1 1800.5L457.5 1783.5L457.8 1751.9L458.2 1708.3L458.6 1656.1L459 1599.6L459.3 1543.4L459.7 1492.1L460.1 1449.7L460.5 1419.7L460.8 1404.6L461.2 1405.5L461.6 1422.5L462 1454.1L462.3 1497.8L462.7 1549.9L463.1 1606.4L463.5 1662.6L463.9 1714L464.2 1756.4L464.6 1786.3L465 1801.4L465.4 1800.4L465.7 1783.5L466.1 1751.8L466.5 1708.2L466.9 1656L467.2 1599.5L467.6 1543.3L468 1491.9L468.4 1449.6L468.7 1419.6L469.1 1404.6L469.5 1405.6L469.9 1422.6L470.2 1454.2L470.6 1497.9L471 1550.1L471.4 1606.6L471.7 1662.8L472.1 1714.2L472.5 1756.5L472.9 1786.4L473.3 1801.4L473.6 1800.4L474 1783.4L474.4 1751.7L474.8 1708L475.1 1655.8L475.5 1599.3L475.9 1543.1L476.3 1491.8L476.6 1449.4L477 1419.6L477.4 1404.5L477.8 1405.6L478.1 1422.7L478.5 1454.3L478.9 1498L479.3 1550.3L479.6 1606.8L480 1663L480.4 1714.3L480.8 1756.6L481.1 1786.5L481.5 1801.5L481.9 1800.4L482.3 1783.3L482.7 1751.6L483 1707.9L483.4 1655.7L483.8 1599.2L484.2 1543L484.5 1491.6L484.9 1449.3L485.3 1419.5L485.7 1404.5L486 1405.6L486.4 1422.7L486.8 1454.4L487.2 1498.2L487.5 1550.4L487.9 1606.9L488.3 1663.1L488.7 1714.4L489 1756.7L489.4 1786.5L489.8 1801.5L490.2 1800.4L490.5 1783.2L490.9 1751.5L491.3 1707.7L491.7 1655.5L492.1 1599L492.4 1542.8L492.8 1491.5L493.2 1449.2L493.6 1419.4L493.9 1404.5L494.3 1405.7L494.7 1422.8L495.1 1454.5L495.4 1498.3L495.8 1550.6L496.2 1607.1L496.6 1663.3L496.9 1714.6L497.3 1756.8L497.7 1786.6L498.1 1801.5L498.4 1800.3L498.8 1783.2L499.2 1751.4L499.6 1707.6L500 1655.3L500.3 1598.8L500.7 1542.6L501.1 1491.4L501.5 1449.1L501.8 1419.4L502.2 1404.5L502.6 1405.7L503 1422.9L503.3 1454.7L503.7 1498.5L504.1 1550.7L504.5 1607.3L504.8 1663.4L505.2 1714.7L505.6 1756.9L506 1786.7L506.3 1801.5L506.7 1800.3L507.1 1783.1L507.5 1751.3L507.8 1707.5L508.2 1655.2L508.6 1598.7L509 1542.5L509.4 1491.2L509.7 1449L510.1 1419.3L510.5 1404.5L510.9 1405.7L511.2 1422.9L511.6 1454.8L512 1498.6L512.4 1550.9L512.7 1607.4L513.1 1663.6L513.5 1714.8L513.9 1757L514.2 1786.7L514.6 1801.5L515 1800.3L515.4 1783L515.7 1751.2L516.1 1707.3L516.5 1655L516.9 1598.5L517.2 1542.3L517.6 1491.1L518 1448.9L518.4 1419.2L518.8 1404.4L519.1 1405.7L519.5 1423L519.9 1454.9L520.3 1498.8L520.6 1551.1L521 1607.6L521.4 1663.7L521.8 1715L522.1 1757.1L522.5 1786.8L522.9 1801.6L523.3 1800.3L523.6 1783L524 1751.1L524.4 1707.2L524.8 1654.9L525.1 1598.3L525.5 1542.2L525.9 1491L526.3 1448.8L526.6 1419.2L527 1404.4L527.4 1405.8L527.8 1423.1L528.2 1455L528.5 1498.9L528.9 1551.2L529.3 1607.8L529.7 1663.9L530 1715.1L530.4 1757.2L530.8 1786.9L531.2 1801.6L531.5 1800.2L531.9 1782.9L532.3 1750.9L532.7 1707L533 1654.7L533.4 1598.2L533.8 1542L534.2 1490.8L534.5 1448.7L534.9 1419.1L535.3 1404.4L535.7 1405.8L536 1423.2L536.4 1455.1L536.8 1499L537.2 1551.4L537.6 1607.9L537.9 1664.1L538.3 1715.3L538.7 1757.3L539.1 1786.9L539.4 1801.6L539.8 1800.2L540.2 1782.8L540.6 1750.8L540.9 1706.9L541.3 1654.5L541.7 1598L542.1 1541.9L542.4 1490.7L542.8 1448.6L543.2 1419L543.6 1404.4L543.9 1405.8L544.3 1423.2L544.7 1455.2L545.1 1499.2L545.4 1551.6L545.8 1608.1L546.2 1664.2L546.6 1715.4L547 1757.5L547.3 1787L547.7 1801.6L548.1 1800.2L548.5 1782.7L548.8 1750.7L549.2 1706.8L549.6 1654.4L550 1597.8L550.3 1541.7L550.7 1490.5L551.1 1448.5L551.5 1419L551.8 1404.4L552.2 1405.8L552.6 1423.3L553 1455.3L553.3 1499.3L553.7 1551.7L554.1 1608.3L554.5 1664.4L554.8 1715.5L555.2 1757.6L555.6 1787.1L556 1801.6L556.4 1800.1L556.7 1782.7L557.1 1750.6L557.5 1706.6L557.9 1654.2L558.2 1597.7L558.6 1541.5L559 1490.4L559.4 1448.4L559.7 1418.9L560.1 1404.3L560.5 1405.9L560.9 1423.4L561.2 1455.4L561.6 1499.5L562 1551.9L562.4 1608.4L562.7 1664.5L563.1 1715.7L563.5 1757.7L563.9 1787.1L564.2 1801.7L564.6 1800.1L565 1782.6L565.4 1750.5L565.8 1706.5L566.1 1654L566.5 1597.5L566.9 1541.4L567.3 1490.3L567.6 1448.3L568 1418.8L568.4 1404.3L568.8 1405.9L569.1 1423.4L569.5 1455.6L569.9 1499.6L570.3 1552L570.6 1608.6L571 1664.7L571.4 1715.8L571.8 1757.8L572.1 1787.2L572.5 1801.7L572.9 1800.1L573.3 1782.5L573.6 1750.4L574 1706.3L574.4 1653.9L574.8 1597.3L575.2 1541.2L575.5 1490.1L575.9 1448.2L576.3 1418.8L576.7 1404.3L577 1405.9L577.4 1423.5L577.8 1455.7L578.2 1499.7L578.5 1552.2L578.9 1608.8L579.3 1664.9L579.7 1715.9L580 1757.9L580.4 1787.3L580.8 1801.7L581.2 1800.1L581.5 1782.4L581.9 1750.3L582.3 1706.2L582.7 1653.7L583 1597.2L583.4 1541.1L583.8 1490L584.2 1448.1L584.6 1418.7L584.9 1404.3L585.3 1406L585.7 1423.6L586.1 1455.8L586.4 1499.9L586.8 1552.4L587.2 1608.9L587.6 1665L587.9 1716.1L588.3 1758L588.7 1787.3L589.1 1801.7L589.4 1800L589.8 1782.4L590.2 1750.2L590.6 1706L590.9 1653.6L591.3 1597L591.7 1540.9L592.1 1489.9L592.4 1448L592.8 1418.6L593.2 1404.3L593.6 1406L594 1423.7L594.3 1455.9L594.7 1500L595.1 1552.5L595.5 1609.1L595.8 1665.2L596.2 1716.2L596.6 1758.1L597 1787.4L597.3 1801.8L597.7 1800L598.1 1782.3L598.5 1750.1L598.8 1705.9L599.2 1653.4L599.6 1596.8L600 1540.8L600.3 1489.7L600.7 1447.9L601.1 1418.6L601.5 1404.2L601.8 1406L602.2 1423.7L602.6 1456L603 1500.2L603.4 1552.7L603.7 1609.3L604.1 1665.3L604.5 1716.3L604.9 1758.2L605.2 1787.4L605.6 1801.8L606 1800L606.4 1782.2L606.7 1749.9L607.1 1705.8L607.5 1653.2L607.9 1596.7L608.2 1540.6L608.6 1489.6L609 1447.8L609.4 1418.5L609.7 1404.2L610.1 1406L610.5 1423.8L610.9 1456.1L611.2 1500.3L611.6 1552.8L612 1609.4L612.4 1665.5L612.8 1716.5L613.1 1758.3L613.5 1787.5L613.9 1801.8L614.3 1799.9L614.6 1782.2L615 1749.8L615.4 1705.6L615.8 1653.1L616.1 1596.5L616.5 1540.4L616.9 1489.4L617.3 1447.7L617.6 1418.5L618 1404.2L618.4 1406.1L618.8 1423.9L619.1 1456.2L619.5 1500.5L619.9 1553L620.3 1609.6L620.6 1665.6L621 1716.6L621.4 1758.4L621.8 1787.6L622.2 1801.8L622.5 1799.9L622.9 1782.1L623.3 1749.7L623.7 1705.5L624 1652.9L624.4 1596.3L624.8 1540.3L625.2 1489.3L625.5 1447.5L625.9 1418.4L626.3 1404.2L626.7 1406.1L627 1424L627.4 1456.3L627.8 1500.6L628.2 1553.2L628.5 1609.8L628.9 1665.8L629.3 1716.8L629.7 1758.5L630 1787.7L630.4 1801.8L630.8 1799.9L631.2 1782L631.6 1749.6L631.9 1705.3L632.3 1652.8L632.7 1596.2L633.1 1540.1L633.4 1489.2L633.8 1447.4L634.2 1418.3L634.6 1404.2L634.9 1406.1L635.3 1424L635.7 1456.5L636.1 1500.7L636.4 1553.3L636.8 1609.9L637.2 1666L637.6 1716.9L637.9 1758.6L638.3 1787.7L638.7 1801.8L639.1 1799.8L639.4 1781.9L639.8 1749.5L640.2 1705.2L640.6 1652.6L641 1596L641.3 1540L641.7 1489L642.1 1447.3L642.5 1418.3L642.8 1404.2L643.2 1406.2L643.6 1424.1L644 1456.6L644.3 1500.9L644.7 1553.5L645.1 1610.1L645.5 1666.1L645.8 1717L646.2 1758.7L646.6 1787.8L647 1801.9L647.3 1799.8L647.7 1781.8L648.1 1749.4L648.5 1705L648.8 1652.4L649.2 1595.8L649.6 1539.8L650 1488.9L650.4 1447.2L650.7 1418.2L651.1 1404.1L651.5 1406.2L651.9 1424.2L652.2 1456.7L652.6 1501L653 1553.6L653.4 1610.2L653.7 1666.3L654.1 1717.2L654.5 1758.8L654.9 1787.8L655.2 1801.9L655.6 1799.8L656 1781.8L656.4 1749.3L656.7 1704.9L657.1 1652.3L657.5 1595.7L657.9 1539.7L658.2 1488.8L658.6 1447.1L659 1418.1L659.4 1404.1L659.8 1406.2L660.1 1424.2L660.5 1456.8L660.9 1501.2L661.3 1553.8L661.6 1610.4L662 1666.4L662.4 1717.3L662.8 1758.9L663.1 1787.9L663.5 1801.9L663.9 1799.8L664.3 1781.7L664.6 1749.1L665 1704.8L665.4 1652.1L665.8 1595.5L666.1 1539.5L666.5 1488.6L666.9 1447L667.3 1418.1L667.6 1404.1L668 1406.3L668.4 1424.3L668.8 1456.9L669.2 1501.3L669.5 1554L669.9 1610.6L670.3 1666.6L670.7 1717.4L671 1759L671.4 1788L671.8 1801.9L672.2 1799.7L672.5 1781.6L672.9 1749L673.3 1704.6L673.7 1652L674 1595.3L674.4 1539.3L674.8 1488.5L675.2 1446.9L675.5 1418L675.9 1404.1L676.3 1406.3L676.7 1424.4L677 1457L677.4 1501.5L677.8 1554.1L678.2 1610.7L678.6 1666.7L678.9 1717.6L679.3 1759.1L679.7 1788L680.1 1801.9L680.4 1799.7L680.8 1781.5L681.2 1748.9L681.6 1704.5L681.9 1651.8L682.3 1595.2L682.7 1539.2L683.1 1488.4L683.4 1446.8L683.8 1418L684.2 1404.1L684.6 1406.3L684.9 1424.5L685.3 1457.1L685.7 1501.6L686.1 1554.3L686.4 1610.9L686.8 1666.9L687.2 1717.7L687.6 1759.2L688 1788.1L688.3 1802L688.7 1799.7L689.1 1781.5L689.5 1748.8L689.8 1704.3L690.2 1651.6L690.6 1595L691 1539L691.3 1488.2L691.7 1446.7L692.1 1417.9L692.5 1404L692.8 1406.3L693.2 1424.6L693.6 1457.2L694 1501.7L694.3 1554.4L694.7 1611.1L695.1 1667.1L695.5 1717.8L695.8 1759.3L696.2 1788.1L696.6 1801.9L697 1799.6L697.4 1781.4L697.7 1748.7L698.1 1704.2L698.5 1651.5L698.9 1594.8L699.2 1538.9L699.6 1488.1L700 1446.6L700.4 1417.8L700.7 1404L701.1 1406.4L701.5 1424.6L701.9 1457.4L702.2 1501.9L702.6 1554.6L703 1611.2L703.4 1667.2L703.7 1718L704.1 1759.4L704.5 1788.2L704.9 1802L705.2 1799.6L705.6 1781.3L706 1748.6L706.4 1704L706.8 1651.3L707.1 1594.7L707.5 1538.7L707.9 1487.9L708.3 1446.5L708.6 1417.8L709 1404L709.4 1406.4L709.8 1424.7L710.1 1457.5L710.5 1502L710.9 1554.8L711.3 1611.4L711.6 1667.4L712 1718.1L712.4 1759.5L712.8 1788.3L713.1 1802L713.5 1799.6L713.9 1781.2L714.3 1748.5L714.6 1703.9L715 1651.2L715.4 1594.5L715.8 1538.5L716.2 1487.8L716.5 1446.4L716.9 1417.7L717.3 1404L717.7 1406.4L718 1424.8L718.4 1457.6L718.8 1502.2L719.2 1554.9L719.5 1611.6L719.9 1667.5L720.3 1718.3L720.7 1759.6L721 1788.3L721.4 1802L721.8 1799.6L722.2 1781.2L722.5 1748.4L722.9 1703.8L723.3 1651L723.7 1594.3L724 1538.4L724.4 1487.7L724.8 1446.3L725.2 1417.7L725.6 1404L725.9 1406.5L726.3 1424.9L726.7 1457.7L727.1 1502.3L727.4 1555.1L727.8 1611.7L728.2 1667.7L728.6 1718.4L728.9 1759.7L729.3 1788.4L729.7 1802L730.1 1799.5L730.4 1781.1L730.8 1748.2L731.2 1703.6L731.6 1650.8L731.9 1594.2L732.3 1538.2L732.7 1487.5L733.1 1446.2L733.4 1417.5L733.8 1403.9L734.2 1406.4L734.6 1424.9L735 1457.8L735.3 1502.5L735.7 1555.2L736.1 1611.9L736.5 1667.8L736.8 1718.5L737.2 1759.9L737.6 1788.5L738 1802L738.3 1799.5L738.7 1781L739.1 1748.1L739.5 1703.5L739.8 1650.7L740.2 1594L740.6 1538.1L741 1487.4L741.3 1446.1L741.7 1417.5L742.1 1404L742.5 1406.5L742.8 1425L743.2 1457.9L743.6 1502.6L744 1555.4L744.4 1612.1L744.7 1668L745.1 1718.7L745.5 1760L745.9 1788.6L746.2 1802.1L746.6 1799.5L747 1781L747.4 1748L747.7 1703.3L748.1 1650.5L748.5 1593.8L748.9 1537.9L749.2 1487.3L749.6 1446L750 1417.4L750.4 1403.9L750.7 1406.5L751.1 1425.1L751.5 1458L751.9 1502.7L752.2 1555.6L752.6 1612.2L753 1668.2L753.4 1718.8L753.8 1760L754.1 1788.6L754.5 1802L754.9 1799.4L755.3 1780.9L755.6 1747.9L756 1703.2L756.4 1650.4L756.8 1593.7L757.1 1537.8L757.5 1487.1L757.9 1445.9L758.3 1417.4L758.6 1403.9L759 1406.6L759.4 1425.2L759.8 1458.2L760.1 1502.9L760.5 1555.7L760.9 1612.4L761.3 1668.3L761.6 1718.9L762 1760.2L762.4 1788.7L762.8 1802.1L763.2 1799.5L763.5 1780.8L763.9 1747.8L764.3 1703L764.7 1650.2L765 1593.5L765.4 1537.6L765.8 1487L766.2 1445.8L766.5 1417.3L766.9 1403.9L767.3 1406.6L767.7 1425.2L768 1458.3L768.4 1503L768.8 1555.9L769.2 1612.6L769.5 1668.5L769.9 1719.1L770.3 1760.2L770.7 1788.7L771 1802.1L771.4 1799.4L771.8 1780.7L772.2 1747.7L772.6 1702.9L772.9 1650L773.3 1593.3L773.7 1537.5L774.1 1486.9L774.4 1445.7L774.8 1417.2L775.2 1403.8L775.6 1406.6L775.9 1425.3L776.3 1458.4L776.7 1503.2L777.1 1556.1L777.4 1612.7L777.8 1668.6L778.2 1719.2L778.6 1760.4L778.9 1788.8L779.3 1802.2L779.7 1799.4L780.1 1780.7L780.4 1747.6L780.8 1702.8L781.2 1649.9L781.6 1593.2L782 1537.3L782.3 1486.7L782.7 1445.6L783.1 1417.2L783.5 1403.9L783.8 1406.7L784.2 1425.4L784.6 1458.5L785 1503.3L785.3 1556.2L785.7 1612.9L786.1 1668.8L786.5 1719.3L786.8 1760.4L787.2 1788.8L787.6 1802.1L788 1799.3L788.3 1780.6L788.7 1747.4L789.1 1702.6L789.5 1649.7L789.8 1593L790.2 1537.1L790.6 1486.6L791 1445.5L791.4 1417.1L791.7 1403.8L792.1 1406.7L792.5 1425.4L792.9 1458.6L793.2 1503.5L793.6 1556.4L794 1613.1L794.4 1668.9L794.7 1719.5L795.1 1760.6L795.5 1788.9L795.9 1802.2L796.2 1799.3L796.6 1780.5L797 1747.3L797.4 1702.5L797.7 1649.5L798.1 1592.9L798.5 1537L798.9 1486.5L799.2 1445.4L799.6 1417.1L800 1403.9L800.4 1406.8L800.8 1425.6L801.1 1458.7L801.5 1503.6L801.9 1556.5L802.3 1613.2L802.6 1669.1L803 1719.6L803.4 1760.7L803.8 1789L804.1 1802.2L804.5 1799.3L804.9 1780.4L805.3 1747.2L805.6 1702.3L806 1649.4L806.4 1592.7L806.8 1536.8L807.1 1486.3L807.5 1445.2L807.9 1416.9L808.3 1403.7L808.6 1406.7L809 1425.6L809.4 1458.8L809.8 1503.7L810.2 1556.7L810.5 1613.4L810.9 1669.3L811.3 1719.7L811.7 1760.8L812 1789L812.4 1802.2L812.8 1799.2L813.2 1780.3L813.5 1747.1L813.9 1702.2L814.3 1649.2L814.7 1592.5L815 1536.7L815.4 1486.2L815.8 1445.2L816.2 1417L816.5 1403.8L816.9 1406.8L817.3 1425.7L817.7 1459L818 1503.9L818.4 1556.9L818.8 1613.6L819.2 1669.4L819.6 1719.9L819.9 1760.9L820.3 1789.1L820.7 1802.2L821.1 1799.2L821.4 1780.3L821.8 1747L822.2 1702L822.6 1649.1L822.9 1592.4L823.3 1536.5L823.7 1486L824.1 1445L824.4 1416.8L824.8 1403.7L825.2 1406.8L825.6 1425.8L825.9 1459.1L826.3 1504L826.7 1557L827.1 1613.7L827.4 1669.6L827.8 1720L828.2 1761L828.6 1789.1L829 1802.2L829.3 1799.1L829.7 1780.2L830.1 1746.9L830.5 1701.9L830.8 1648.9L831.2 1592.2L831.6 1536.4L832 1485.9L832.3 1445L832.7 1416.8L833.1 1403.8L833.5 1406.9L833.8 1425.8L834.2 1459.2L834.6 1504.2L835 1557.2L835.3 1613.9L835.7 1669.7L836.1 1720.2L836.5 1761.1L836.8 1789.3L837.2 1802.3L837.6 1799.2L838 1780.2L838.4 1746.8L838.7 1701.8L839.1 1648.7L839.5 1592L839.9 1536.2L840.2 1485.8L840.6 1444.9L841 1416.8L841.4 1403.8L841.7 1406.9L842.1 1425.9L842.5 1459.3L842.9 1504.3L843.2 1557.3L843.6 1614.1L844 1669.9L844.4 1720.3L844.7 1761.2L845.1 1789.2L845.5 1802.2L845.9 1799.1L846.2 1780L846.6 1746.6L847 1701.6L847.4 1648.6L847.8 1591.9L848.1 1536L848.5 1485.6L848.9 1444.7L849.3 1416.7L849.6 1403.7L850 1406.9L850.4 1426L850.8 1459.4L851.1 1504.5L851.5 1557.5L851.9 1614.2L852.3 1670.1L852.6 1720.5L853 1761.4L853.4 1789.4L853.8 1802.3L854.1 1799.1L854.5 1780L854.9 1746.5L855.3 1701.5L855.7 1648.4L856 1591.7L856.4 1535.9L856.8 1485.5L857.2 1444.7L857.5 1416.7L857.9 1403.8L858.3 1407L858.7 1426.1L859 1459.5L859.4 1504.6L859.8 1557.7L860.2 1614.4L860.5 1670.2L860.9 1720.5L861.3 1761.4L861.7 1789.3L862 1802.2L862.4 1799L862.8 1779.9L863.2 1746.4L863.5 1701.3L863.9 1648.3L864.3 1591.5L864.7 1535.7L865.1 1485.4L865.4 1444.5L865.8 1416.5L866.2 1403.7L866.6 1407L866.9 1426.1L867.3 1459.7L867.7 1504.8L868.1 1557.8L868.4 1614.6L868.8 1670.3L869.2 1720.7L869.6 1761.5L869.9 1789.4L870.3 1802.3L870.7 1799L871.1 1779.8L871.4 1746.3L871.8 1701.2L872.2 1648.1L872.6 1591.4L872.9 1535.6L873.3 1485.3L873.7 1444.5L874.1 1416.6L874.5 1403.7L874.8 1407.1L875.2 1426.2L875.6 1459.8L876 1504.9L876.3 1558L876.7 1614.7L877.1 1670.5L877.5 1720.8L877.8 1761.6L878.2 1789.5L878.6 1802.3L879 1799L879.3 1779.7L879.7 1746.2L880.1 1701L880.5 1647.9L880.8 1591.2L881.2 1535.4L881.6 1485L882 1444.2L882.3 1416.3L882.7 1403.5L883.1 1407L883.5 1426.3L883.9 1459.9L884.2 1505L884.6 1558.2L885 1614.9L885.4 1670.7L885.7 1720.9L886.1 1761.7L886.5 1789.6L886.9 1802.3L887.2 1798.9L887.6 1779.7L888 1746.1L888.4 1700.9L888.7 1647.8L889.1 1591L889.5 1535.3L889.9 1485L890.2 1444.3L890.6 1416.4L891 1403.7L891.4 1407.1L891.7 1426.4L892.1 1460L892.5 1505.2L892.9 1558.3L893.3 1615.1L893.6 1670.8L894 1721.1L894.4 1761.8L894.8 1789.6L895.1 1802.3L895.5 1798.9L895.9 1779.6L896.3 1745.9L896.6 1700.7L897 1647.6L897.4 1590.9L897.8 1535.1L898.1 1484.8L898.5 1444.1L898.9 1416.3L899.3 1403.7L899.6 1407.1L900 1426.5L900.4 1460.1L900.8 1505.3L901.1 1558.5L901.5 1615.2L901.9 1671L902.3 1721.2L902.7 1761.9L903 1789.6L903.4 1802.3L903.8 1798.8L904.2 1779.5L904.5 1745.8L904.9 1700.6L905.3 1647.4L905.7 1590.7L906 1535L906.4 1484.7L906.8 1444.1L907.2 1416.3L907.5 1403.7L907.9 1407.2L908.3 1426.6L908.7 1460.2L909 1505.5L909.4 1558.6L909.8 1615.4L910.2 1671.2L910.5 1721.4L910.9 1762.1L911.3 1789.9L911.7 1802.5L912.1 1798.9L912.4 1779.5L912.8 1745.7L913.2 1700.4L913.6 1647.3L913.9 1590.5L914.3 1534.8L914.7 1484.6L915.1 1443.9L915.4 1416.2L915.8 1403.6L916.2 1407.1L916.6 1426.5L916.9 1460.3L917.3 1505.6L917.7 1558.8L918.1 1615.5L918.4 1671.3L918.8 1721.5L919.2 1762.1L919.6 1789.8L919.9 1802.3L920.3 1798.8L920.7 1779.3L921.1 1745.6L921.5 1700.3L921.8 1647.1L922.2 1590.4L922.6 1534.6L923 1484.4L923.3 1443.8L923.7 1416.2L924.1 1403.6L924.5 1407.3L924.8 1426.7L925.2 1460.5L925.6 1505.8L926 1559L926.3 1615.7L926.7 1671.5L927.1 1721.7L927.5 1762.2L927.8 1789.9L928.2 1802.4L928.6 1798.7L929 1779.2L929.3 1745.5L929.7 1700.2L930.1 1647L930.5 1590.2L930.9 1534.5L931.2 1484.3L931.6 1443.8L932 1416.2L932.4 1403.6L932.7 1407.3L933.1 1426.8L933.5 1460.6L933.9 1505.9L934.2 1559.1L934.6 1615.9L935 1671.6L935.4 1721.7L935.7 1762.3L936.1 1789.9L936.5 1802.4L936.9 1798.7L937.2 1779.2L937.6 1745.3L938 1700L938.4 1646.8L938.7 1590L939.1 1534.3L939.5 1484.1L939.9 1443.6L940.3 1415.9L940.6 1403.5L941 1407.2L941.4 1426.9L941.8 1460.7L942.1 1506.1L942.5 1559.3L942.9 1616L943.3 1671.8L943.6 1721.9L944 1762.4L944.4 1790L944.8 1802.5L945.1 1798.8L945.5 1779.2L945.9 1745.4L946.3 1699.9L946.6 1646.6L947 1589.9L947.4 1534.2L947.8 1484.1L948.1 1443.6L948.5 1416L948.9 1403.6L949.3 1407.3L949.7 1426.9L950 1460.8L950.4 1506.2L950.8 1559.4L951.2 1616.2L951.5 1671.9L951.9 1722L952.3 1762.5L952.7 1790L953 1802.4L953.4 1798.6L953.8 1779L954.2 1745.1L954.5 1699.7L954.9 1646.5L955.3 1589.7L955.7 1534L956 1483.8L956.4 1443.4L956.8 1415.9L957.2 1403.6L957.5 1407.4L957.9 1427L958.3 1460.9L958.7 1506.4L959.1 1559.6L959.4 1616.4L959.8 1672.1L960.2 1722.1L960.6 1762.6L960.9 1790.1L961.3 1802.4L961.7 1798.6L962.1 1779L962.4 1745.1L962.8 1699.6L963.2 1646.3L963.6 1589.5L963.9 1533.9L964.3 1483.8L964.7 1443.4L965.1 1415.9L965.4 1403.6L965.8 1407.4L966.2 1427.1L966.6 1461.1L966.9 1506.5L967.3 1559.8L967.7 1616.5L968.1 1672.2L968.5 1722.3L968.8 1762.8L969.2 1790.2L969.6 1802.4L970 1798.6L970.3 1778.8L970.7 1744.9L971.1 1699.4L971.5 1646.1L971.8 1589.4L972.2 1533.7L972.6 1483.6L973 1443.2L973.3 1415.8L973.7 1403.5L974.1 1407.3L974.5 1427L974.8 1461L975.2 1506.6L975.6 1559.9L976 1616.7L976.3 1672.4L976.7 1722.4L977.1 1762.7L977.5 1790.2L977.9 1802.5L978.2 1798.6L978.6 1778.9L979 1744.9L979.4 1699.3L979.7 1646L980.1 1589.2L980.5 1533.6L980.9 1483.5L981.2 1443.2L981.6 1415.8L982 1403.6L982.4 1407.5L982.7 1427.3L983.1 1461.3L983.5 1506.8L983.9 1560.1L984.2 1616.9L984.6 1672.6L985 1722.6L985.4 1763L985.7 1790.3L986.1 1802.5L986.5 1798.5L986.9 1778.7L987.3 1744.6L987.6 1699.1L988 1645.8L988.4 1589L988.8 1533.4L989.1 1483.3L989.5 1443L989.9 1415.6L990.3 1403.4L990.6 1407.3L991 1427.2L991.4 1461.3L991.8 1506.9L992.1 1560.2L992.5 1617L992.9 1672.7L993.3 1722.7L993.6 1763L994 1790.3L994.4 1802.5L994.8 1798.5L995.1 1778.6L995.5 1744.5L995.9 1699L996.3 1645.7L996.7 1588.9L997 1533.2L997.4 1483.2L997.8 1442.9L998.2 1415.7L998.5 1403.5L998.9 1407.6L999.3 1427.5L999.7 1461.6L1000 1507.1L1000.4 1560.4L1000.8 1617.2L1001.2 1672.9L1001.5 1722.9L1001.9 1763.1L1002.3 1790.4L1002.7 1802.5L1003 1798.5L1003.4 1778.6L1003.8 1744.5L1004.2 1698.9L1004.5 1645.5L1004.9 1588.7L1005.3 1533.1L1005.7 1483.1L1006.1 1442.9L1006.4 1415.6L1006.8 1403.5L1007.2 1407.5L1007.6 1427.3L1007.9 1461.5L1008.3 1507.1L1008.7 1560.6L1009.1 1617.4L1009.4 1673L1009.8 1722.9L1010.2 1763.1L1010.6 1790.4L1010.9 1802.4L1011.3 1798.3L1011.7 1778.4L1012.1 1744.3L1012.4 1698.7L1012.8 1645.3L1013.2 1588.5L1013.6 1532.9L1013.9 1482.9L1014.3 1442.7L1014.7 1415.5L1015.1 1403.5L1015.5 1407.7L1015.8 1427.6L1016.2 1461.8L1016.6 1507.4L1017 1560.7L1017.3 1617.5L1017.7 1673.2L1018.1 1723.1L1018.5 1763.4L1018.8 1790.7L1019.2 1802.8L1019.6 1798.7L1020 1778.7L1020.3 1744.4L1020.7 1698.6L1021.1 1645.2L1021.5 1588.4L1021.8 1532.8L1022.2 1482.9L1022.6 1442.6L1023 1415.3L1023.3 1403.3L1023.7 1407.4L1024.1 1427.5L1024.5 1461.8L1024.9 1507.5L1025.2 1560.9L1025.6 1617.7L1026 1673.3L1026.4 1723.2L1026.7 1763.4L1027.1 1790.5L1027.5 1802.5L1027.9 1798.3L1028.2 1778.2L1028.6 1744L1029 1698.4L1029.4 1645L1029.7 1588.2L1030.1 1532.6L1030.5 1482.7L1030.9 1442.5L1031.2 1415.4L1031.6 1403.5L1032 1407.7L1032.4 1427.7L1032.7 1462L1033.1 1507.6L1033.5 1561.1L1033.9 1617.9L1034.3 1673.5L1034.6 1723.3L1035 1763.5L1035.4 1790.6L1035.8 1802.6L1036.1 1798.5L1036.5 1778.5L1036.9 1744.1L1037.3 1698.4L1037.6 1644.9L1038 1588.1L1038.4 1532.5L1038.8 1482.6L1039.1 1442.5L1039.5 1415.4L1039.9 1403.5L1040.3 1407.8L1040.6 1427.9L1041 1462.2L1041.4 1507.8L1041.8 1561.2L1042.1 1618L1042.5 1673.6L1042.9 1723.5L1043.3 1763.6L1043.7 1790.6L1044 1802.4L1044.4 1798.1L1044.8 1778L1045.2 1743.8L1045.5 1698.1L1045.9 1644.7L1046.3 1587.9L1046.7 1532.3L1047 1482.4L1047.4 1442.3L1047.8 1415.1L1048.2 1403.2L1048.5 1407.4L1048.9 1427.6L1049.3 1462L1049.7 1507.9L1050 1561.4L1050.4 1618.2L1050.8 1673.8L1051.2 1723.6L1051.5 1763.8L1051.9 1791L1052.3 1803L1052.7 1798.7L1053.1 1778.5L1053.4 1744L1053.8 1698.1L1054.2 1644.5L1054.6 1587.7L1054.9 1532.2L1055.3 1482.3L1055.7 1442.3L1056.1 1415.3L1056.4 1403.5L1056.8 1407.9L1057.2 1428L1057.6 1462.4L1057.9 1508.1L1058.3 1561.6L1058.7 1618.4L1059.1 1674L1059.4 1723.8L1059.8 1763.8L1060.2 1790.8L1060.6 1802.5L1060.9 1798.1L1061.3 1777.9L1061.7 1743.6L1062.1 1697.8L1062.5 1644.4L1062.8 1587.6L1063.2 1532L1063.6 1482.2L1064 1442.1L1064.3 1415L1064.7 1403.1L1065.1 1407.5L1065.5 1427.7L1065.8 1462.2L1066.2 1508.2L1066.6 1561.7L1067 1618.5L1067.3 1674.1L1067.7 1723.9L1068.1 1763.8L1068.5 1790.8L1068.8 1802.5L1069.2 1798.1L1069.6 1777.8L1070 1743.4L1070.3 1697.7L1070.7 1644.2L1071.1 1587.4L1071.5 1531.8L1071.9 1482.1L1072.2 1442.1L1072.6 1415.3L1073 1403.6L1073.4 1408.1L1073.7 1428.3L1074.1 1462.7L1074.5 1508.4L1074.9 1561.9L1075.2 1618.7L1075.6 1674.3L1076 1724.1L1076.4 1764L1076.7 1791L1077.1 1802.7L1077.5 1798.3L1077.9 1778L1078.2 1743.5L1078.6 1697.6L1079 1644.1L1079.4 1587.2L1079.7 1531.7L1080.1 1481.9L1080.5 1441.8L1080.9 1414.7L1081.3 1402.8L1081.6 1407.2L1082 1427.6L1082.4 1462.3L1082.8 1508.4L1083.1 1562L1083.5 1618.9L1083.9 1674.4L1084.3 1724.1L1084.6 1764L1085 1790.9L1085.4 1802.6L1085.8 1798L1086.1 1777.7L1086.5 1743.2L1086.9 1697.4L1087.3 1643.9L1087.6 1587.1L1088 1531.5L1088.4 1481.8L1088.8 1441.9L1089.1 1415.1L1089.5 1403.5L1089.9 1408L1090.3 1428.4L1090.7 1462.8L1091 1508.7L1091.4 1562.2L1091.8 1619L1092.2 1674.6L1092.5 1724.3L1092.9 1764.3L1093.3 1791.3L1093.7 1803.1L1094 1798.6L1094.4 1778.1L1094.8 1743.4L1095.2 1697.3L1095.5 1643.7L1095.9 1586.9L1096.3 1531.4L1096.7 1481.6L1097 1441.7L1097.4 1414.8L1097.8 1403.2L1098.2 1407.9L1098.5 1428.4L1098.9 1462.9L1099.3 1508.8L1099.7 1562.4L1100.1 1619.2L1100.4 1674.7L1100.8 1724.4L1101.2 1764.2L1101.6 1790.9L1101.9 1802.4L1102.3 1797.7L1102.7 1777.4L1103.1 1742.9L1103.4 1697L1103.8 1643.5L1104.2 1586.7L1104.6 1531.2L1104.9 1481.5L1105.3 1441.6L1105.7 1414.9L1106.1 1403.4L1106.4 1408L1106.8 1428.5L1107.2 1463L1107.6 1509L1107.9 1562.5L1108.3 1619.4L1108.7 1674.9L1109.1 1724.6L1109.5 1764.7L1109.8 1791.7L1110.2 1803.4L1110.6 1798.8L1111 1778.2L1111.3 1743.3L1111.7 1697.1L1112.1 1643.4L1112.5 1586.6L1112.8 1531.1L1113.2 1481.4L1113.6 1441.6L1114 1414.9L1114.3 1403.4L1114.7 1408.1L1115.1 1428.6L1115.5 1463.2L1115.8 1509.1L1116.2 1562.7L1116.6 1619.5L1117 1675L1117.3 1724.6L1117.7 1764.3L1118.1 1791L1118.5 1802.4L1118.9 1797.7L1119.2 1777.3L1119.6 1742.7L1120 1696.8L1120.4 1643.2L1120.7 1586.4L1121.1 1530.9L1121.5 1481.3L1121.9 1441.4L1122.2 1414.5L1122.6 1402.9L1123 1407.6L1123.4 1428.1L1123.7 1463L1124.1 1509.2L1124.5 1562.8L1124.9 1619.7L1125.2 1675.2L1125.6 1724.9L1126 1764.9L1126.4 1791.8L1126.7 1803.3L1127.1 1798.4L1127.5 1777.7L1127.9 1742.8L1128.3 1696.7L1128.6 1643.1L1129 1586.2L1129.4 1530.7L1129.8 1481.1L1130.1 1441.4L1130.5 1414.9L1130.9 1403.5L1131.3 1408.4L1131.6 1428.9L1132 1463.5L1132.4 1509.5L1132.8 1563L1133.1 1619.9L1133.5 1675.4L1133.9 1725L1134.3 1764.7L1134.6 1791.3L1135 1802.6L1135.4 1797.8L1135.8 1777.2L1136.1 1742.5L1136.5 1696.5L1136.9 1642.9L1137.3 1586.1L1137.7 1530.5L1138 1480.8L1138.4 1440.8L1138.8 1413.8L1139.2 1402.3L1139.5 1407.2L1139.9 1428L1140.3 1463.1L1140.7 1509.4L1141 1563.2L1141.4 1620L1141.8 1675.5L1142.2 1725.1L1142.5 1764.7L1142.9 1791.3L1143.3 1802.6L1143.7 1797.8L1144 1777.1L1144.4 1742.4L1144.8 1696.4L1145.2 1642.7L1145.5 1585.9L1145.9 1530.5L1146.3 1481L1146.7 1441.4L1147.1 1415L1147.4 1403.7L1147.8 1408.6L1148.2 1429.1L1148.6 1463.8L1148.9 1509.7L1149.3 1563.3L1149.7 1620.2L1150.1 1675.6L1150.4 1725.2L1150.8 1764.8L1151.2 1791.4L1151.6 1802.8L1151.9 1798L1152.3 1777.4L1152.7 1742.5L1153.1 1696.3L1153.4 1642.6L1153.8 1585.7L1154.2 1530.3L1154.6 1480.5L1154.9 1440.6L1155.3 1413.8L1155.7 1402.4L1156.1 1407.4L1156.5 1428.4L1156.8 1463.5L1157.2 1509.8L1157.6 1563.5L1158 1620.3L1158.3 1675.8L1158.7 1725.3L1159.1 1764.9L1159.5 1791.4L1159.8 1802.6L1160.2 1797.6L1160.6 1776.9L1161 1742.1L1161.3 1696L1161.7 1642.4L1162.1 1585.6L1162.5 1530.1L1162.8 1480.6L1163.2 1441.1L1163.6 1414.6L1164 1403.4L1164.3 1408.4L1164.7 1429.1L1165.1 1463.9L1165.5 1510L1165.9 1563.7L1166.2 1620.5L1166.6 1676L1167 1725.8L1167.4 1765.8L1167.7 1792.7L1168.1 1804.1L1168.5 1799L1168.9 1777.8L1169.2 1742.5L1169.6 1696.1L1170 1642.3L1170.4 1585.4L1170.7 1529.9L1171.1 1480.3L1171.5 1440.6L1171.9 1414L1172.2 1402.9L1172.6 1408.1L1173 1429L1173.4 1464L1173.7 1510.1L1174.1 1563.8L1174.5 1620.7L1174.9 1676.1L1175.3 1725.5L1175.6 1764.9L1176 1791.1L1176.4 1802.2L1176.8 1797.2L1177.1 1776.5L1177.5 1741.8L1177.9 1695.7L1178.3 1642.1L1178.6 1585.2L1179 1529.8L1179.4 1480.4L1179.8 1440.9L1180.1 1414.6L1180.5 1403.4L1180.9 1408.5L1181.3 1429.3L1181.6 1464.1L1182 1510.3L1182.4 1564L1182.8 1620.8L1183.1 1676.3L1183.5 1726L1183.9 1765.9L1184.3 1792.6L1184.7 1803.8L1185 1798.6L1185.4 1777.4L1185.8 1742.1L1186.2 1695.7L1186.5 1641.9L1186.9 1585.1L1187.3 1529.7L1187.7 1480.2L1188 1440.7L1188.4 1414.4L1188.8 1403.4L1189.2 1408.5L1189.5 1429.4L1189.9 1464.3L1190.3 1510.4L1190.7 1564.1L1191 1621L1191.4 1676.4L1191.8 1725.8L1192.2 1765.2L1192.5 1791.5L1192.9 1802.5L1193.3 1797.4L1193.7 1776.6L1194.1 1741.7L1194.4 1695.5L1194.8 1641.8L1195.2 1584.9L1195.6 1529.5L1195.9 1479.8L1196.3 1439.9L1196.7 1413L1197.1 1401.7L1197.4 1407L1197.8 1428.3L1198.2 1463.8L1198.6 1510.5L1198.9 1564.3L1199.3 1621.2L1199.7 1676.7L1200.1 1726.4L1200.4 1766.2L1200.8 1792.8L1201.2 1803.8L1201.6 1798.4L1201.9 1777.1L1202.3 1741.8L1202.7 1695.4L1203.1 1641.6L1203.5 1584.7L1203.8 1529.4L1204.2 1480.1L1204.6 1440.8L1205 1414.7L1205.3 1403.8L1205.7 1408.9L1206.1 1429.8L1206.5 1464.6L1206.8 1510.8L1207.2 1564.5L1207.6 1621.3L1208 1676.7L1208.3 1726L1208.7 1765.3L1209.1 1791.5L1209.5 1802.4L1209.8 1797.2L1210.2 1776.3L1210.6 1741.3L1211 1695.1L1211.3 1641.4L1211.7 1584.6L1212.1 1529L1212.5 1479.3L1212.9 1439.5L1213.2 1413L1213.6 1402.1L1214 1407.6L1214.4 1429.1L1214.7 1464.5L1215.1 1510.9L1215.5 1564.6L1215.9 1621.5L1216.2 1676.9L1216.6 1726.4L1217 1765.7L1217.4 1791.8L1217.7 1802.7L1218.1 1797.4L1218.5 1776.4L1218.9 1741.3L1219.2 1695.1L1219.6 1641.3L1220 1584.4L1220.4 1529.1L1220.8 1479.9L1221.1 1440.7L1221.5 1414.6L1221.9 1403.6L1222.3 1408.8L1222.6 1429.7L1223 1464.7L1223.4 1511L1223.8 1564.8L1224.1 1621.7L1224.5 1677L1224.9 1726.4L1225.3 1766.1L1225.6 1792.7L1226 1803.9L1226.4 1798.6L1226.8 1777.3L1227.1 1741.7L1227.5 1695L1227.9 1641.1L1228.3 1584.2L1228.6 1528.8L1229 1479L1229.4 1439.1L1229.8 1412.5L1230.2 1401.6L1230.5 1407.2L1230.9 1428.7L1231.3 1464.3L1231.7 1511L1232 1564.9L1232.4 1621.8L1232.8 1677.1L1233.2 1726.4L1233.5 1765.6L1233.9 1791.6L1234.3 1802.4L1234.7 1797.1L1235 1776.1L1235.4 1741L1235.8 1694.7L1236.2 1641L1236.5 1584.1L1236.9 1528.8L1237.3 1479.6L1237.7 1440.4L1238 1414.4L1238.4 1403.6L1238.8 1409L1239.2 1430L1239.6 1465.1L1239.9 1511.4L1240.3 1565.1L1240.7 1622L1241.1 1677.6L1241.4 1727.4L1241.8 1767.3L1242.2 1793.7L1242.6 1804.3L1242.9 1798.3L1243.3 1776.5L1243.7 1740.9L1244.1 1694.5L1244.4 1640.8L1244.8 1583.9L1245.2 1528.4L1245.6 1478.7L1245.9 1439.3L1246.3 1413.3L1246.7 1402.8L1247.1 1408.5L1247.4 1429.8L1247.8 1465L1248.2 1511.4L1248.6 1565.3L1249 1622.2L1249.3 1677.4L1249.7 1726.5L1250.1 1765.6L1250.5 1791.5L1250.8 1802.2L1251.2 1796.9L1251.6 1775.9L1252 1740.8L1252.3 1694.5L1252.7 1640.7L1253.1 1583.8L1253.5 1528.5L1253.8 1479.3L1254.2 1440L1254.6 1413.9L1255 1403L1255.3 1408.3L1255.7 1429.6L1256.1 1465.1L1256.5 1511.6L1256.8 1565.5L1257.2 1622.3L1257.6 1677.8L1258 1727.5L1258.4 1767.3L1258.7 1793.7L1259.1 1804.4L1259.5 1798.7L1259.9 1776.9L1260.2 1741.2L1260.6 1694.5L1261 1640.5L1261.4 1583.6L1261.7 1528.3L1262.1 1479.2L1262.5 1440.1L1262.9 1414.2L1263.2 1403.5L1263.6 1408.9L1264 1430.1L1264.4 1465.2L1264.7 1511.6L1265.1 1565.6L1265.5 1622.5L1265.9 1677.7L1266.2 1726.8L1266.6 1765.8L1267 1791.7L1267.4 1802.4L1267.8 1796.9L1268.1 1775.7L1268.5 1740.5L1268.9 1694.1L1269.3 1640.3L1269.6 1583.4L1270 1527.9L1270.4 1478L1270.8 1438.2L1271.1 1411.8L1271.5 1401.4L1271.9 1407.7L1272.3 1429.9L1272.6 1465.5L1273 1512L1273.4 1565.8L1273.8 1622.7L1274.1 1678.4L1274.5 1728.3L1274.9 1768.1L1275.3 1794.2L1275.6 1804.4L1276 1798.2L1276.4 1776.4L1276.8 1740.7L1277.2 1694.1L1277.5 1640.2L1277.9 1583.3L1278.3 1528L1278.7 1479L1279 1440L1279.4 1414.2L1279.8 1403.6L1280.2 1409.1L1280.5 1430.3L1280.9 1465.5L1281.3 1511.9L1281.7 1565.9L1282 1622.8L1282.4 1678L1282.8 1727.1L1283.2 1766.1L1283.5 1792L1283.9 1802.6L1284.3 1797L1284.7 1775.6L1285 1740.3L1285.4 1693.8L1285.8 1640L1286.2 1583.1L1286.6 1527.6L1286.9 1478L1287.3 1438.4L1287.7 1412.4L1288.1 1402.1L1288.4 1408.2L1288.8 1430.1L1289.2 1465.7L1289.6 1512.2L1289.9 1566.1L1290.3 1623L1290.7 1678.2L1291.1 1727.3L1291.4 1766.3L1291.8 1792L1292.2 1802.5L1292.6 1797L1292.9 1775.7L1293.3 1740.7L1293.7 1694.1L1294.1 1639.9L1294.4 1582.9L1294.8 1527.8L1295.2 1478.9L1295.6 1440.1L1296 1414.4L1296.3 1403.8L1296.7 1409.3L1297.1 1430.5L1297.5 1465.9L1297.8 1512.4L1298.2 1566.3L1298.6 1623.2L1299 1678.6L1299.3 1728.1L1299.7 1767.8L1300.1 1794L1300.5 1804.3L1300.8 1798L1301.2 1775.7L1301.6 1740L1302 1693.4L1302.3 1639.6L1302.7 1582.7L1303.1 1526.9L1303.5 1476.8L1303.8 1436.8L1304.2 1410.5L1304.6 1400.4L1305 1406.9L1305.4 1429.2L1305.7 1465.4L1306.1 1512.3L1306.5 1566.4L1306.9 1623.3L1307.2 1678.5L1307.6 1727.6L1308 1766.5L1308.4 1792.2L1308.7 1802.7L1309.1 1797.3L1309.5 1776.2L1309.9 1740.7L1310.2 1693.8L1310.6 1639.6L1311 1582.6L1311.4 1527.5L1311.7 1478.5L1312.1 1439.6L1312.5 1413.9L1312.9 1403.5L1313.2 1409.3L1313.6 1430.8L1314 1466.2L1314.4 1512.8L1314.8 1566.6L1315.1 1623.5L1315.5 1679.1L1315.9 1728.7L1316.3 1768L1316.6 1793.6L1317 1803.2L1317.4 1796.9L1317.8 1775.2L1318.1 1739.7L1318.5 1693.1L1318.9 1639.3L1319.3 1582.4L1319.6 1527.1L1320 1478L1320.4 1439.2L1320.8 1413.7L1321.1 1403.4L1321.5 1409.2L1321.9 1430.6L1322.3 1465.8L1322.6 1512.5L1323 1566.7L1323.4 1623.6L1323.8 1678.7L1324.2 1727.4L1324.5 1766.1L1324.9 1791.6L1325.3 1802.1L1325.7 1796.5L1326 1775.2L1326.4 1739.8L1326.8 1693.2L1327.2 1639.2L1327.5 1582.3L1327.9 1527.1L1328.3 1478L1328.7 1438.9L1329 1413L1329.4 1402.8L1329.8 1409.1L1330.2 1430.9L1330.5 1466.5L1330.9 1513.1L1331.3 1567L1331.7 1623.9L1332 1679.6L1332.4 1729.8L1332.8 1769.7L1333.2 1795.9L1333.6 1805.9L1333.9 1799.2L1334.3 1776.6L1334.7 1740.3L1335.1 1693.2L1335.4 1639L1335.8 1582.1L1336.2 1526.9L1336.6 1478L1336.9 1439L1337.3 1413.1L1337.7 1402L1338.1 1407.1L1338.4 1428.5L1338.8 1464.6L1339.2 1512.2L1339.6 1566.9L1339.9 1624L1340.3 1679L1340.7 1727.8L1341.1 1766.6L1341.4 1792.2L1341.8 1802.6L1342.2 1796.8L1342.6 1775.1L1343 1739.4L1343.3 1692.8L1343.7 1638.8L1344.1 1581.9L1344.5 1526.4L1344.8 1476.8L1345.2 1437.6L1345.6 1412.4L1346 1403.1L1346.3 1409.5L1346.7 1431.4L1347.1 1467L1347.5 1513.5L1347.8 1567.3L1348.2 1624.2L1348.6 1679.8L1349 1729.3L1349.3 1768.1L1349.7 1793.1L1350.1 1802.8L1350.5 1796.7L1350.8 1775L1351.2 1739.5L1351.6 1692.9L1352 1638.7L1352.4 1581.8L1352.7 1526.7L1353.1 1478L1353.5 1439.5L1353.9 1414L1354.2 1403.7L1354.6 1409.5L1355 1431L1355.4 1466.4L1355.7 1513.2L1356.1 1567.4L1356.5 1624.3L1356.9 1679.4L1357.2 1728.3L1357.6 1767.1L1358 1792.5L1358.4 1802.5L1358.7 1796.3L1359.1 1774.5L1359.5 1738.9L1359.9 1692.3L1360.2 1638.5L1360.6 1581.6L1361 1525.8L1361.4 1475.9L1361.8 1436.4L1362.1 1410.9L1362.5 1401.3L1362.9 1408.3L1363.3 1430.7L1363.6 1466.7L1364 1513.5L1364.4 1567.6L1364.8 1624.5L1365.1 1679.6L1365.5 1728.5L1365.9 1767.3L1366.3 1793.5L1366.6 1804.8L1367 1799.8L1367.4 1778.4L1367.8 1741.9L1368.1 1693.7L1368.5 1638.6L1368.9 1581.5L1369.3 1526.6L1369.6 1477.9L1370 1439.3L1370.4 1413.7L1370.8 1403.3L1371.2 1408.7L1371.5 1430.3L1371.9 1466.3L1372.3 1513.5L1372.7 1567.7L1373 1624.6L1373.4 1679.9L1373.8 1729.1L1374.2 1768L1374.5 1793.1L1374.9 1802.6L1375.3 1796.1L1375.7 1774.1L1376 1738.4L1376.4 1691.9L1376.8 1638.1L1377.2 1581.2L1377.5 1525.4L1377.9 1475.6L1378.3 1436.5L1378.7 1411.5L1379 1402.4L1379.4 1409.3L1379.8 1431.3L1380.2 1467L1380.6 1513.8L1380.9 1567.9L1381.3 1624.8L1381.7 1679.9L1382.1 1728.7L1382.4 1767.3L1382.8 1792.8L1383.2 1803.1L1383.6 1797.7L1383.9 1776.1L1384.3 1740L1384.7 1692.6L1385.1 1638.1L1385.4 1581.1L1385.8 1526.1L1386.2 1477.2L1386.6 1438.6L1386.9 1413.4L1387.3 1403.6L1387.7 1410L1388.1 1432L1388.4 1467.7L1388.8 1514.3L1389.2 1568.1L1389.6 1625L1390 1680.8L1390.3 1730.6L1390.7 1769.5L1391.1 1794.1L1391.5 1802.8L1391.8 1796.2L1392.2 1774.2L1392.6 1738.4L1393 1691.8L1393.3 1637.8L1393.7 1580.9L1394.1 1525.7L1394.5 1476.9L1394.8 1438.2L1395.2 1412.4L1395.6 1401.4L1396 1406.4L1396.3 1427.7L1396.7 1464.2L1397.1 1512.6L1397.5 1568L1397.8 1625.1L1398.2 1679.9L1398.6 1728.3L1399 1766.8L1399.4 1792.3L1399.7 1802.8L1400.1 1797.8L1400.5 1776.5L1400.9 1740.2L1401.2 1692.5L1401.6 1637.8L1402 1580.8L1402.4 1525.8L1402.7 1477.1L1403.1 1438.6L1403.5 1413.5L1403.9 1404L1404.2 1410.5L1404.6 1432.5L1405 1468.2L1405.4 1514.7L1405.7 1568.5L1406.1 1625.4L1406.5 1681.2L1406.9 1730.9L1407.2 1769.8L1407.6 1794.6L1408 1803.5L1408.4 1796.5L1408.8 1774.4L1409.1 1738.5L1409.5 1691.6L1409.9 1637.5L1410.3 1580.6L1410.6 1525.5L1411 1476.4L1411.4 1437L1411.8 1410.5L1412.1 1399.3L1412.5 1405L1412.9 1427.5L1413.3 1464.9L1413.6 1513.4L1414 1568.4L1414.4 1625.5L1414.8 1680.5L1415.1 1729.3L1415.5 1768.1L1415.9 1793.7L1416.3 1803.3L1416.6 1796.4L1417 1774L1417.4 1738L1417.8 1691.2L1418.2 1637.3L1418.5 1580.4L1418.9 1524.6L1419.3 1474.9L1419.7 1436.3L1420 1412.5L1420.4 1403.6L1420.8 1410.6L1421.2 1432.8L1421.5 1468.5L1421.9 1514.9L1422.3 1568.8L1422.7 1625.7L1423 1681.2L1423.4 1730.3L1423.8 1768.8L1424.2 1794.1L1424.5 1804.4L1424.9 1798.8L1425.3 1777.2L1425.7 1740.8L1426 1692.7L1426.4 1637.4L1426.8 1580.3L1427.2 1525.6L1427.6 1477.2L1427.9 1438.8L1428.3 1413.4L1428.7 1403.1L1429.1 1407.7L1429.4 1429.1L1429.8 1465.6L1430.2 1513.7L1430.6 1568.7L1430.9 1625.8L1431.3 1680.6L1431.7 1729L1432.1 1767.1L1432.4 1791.8L1432.8 1801.1L1433.2 1794.5L1433.6 1772.6L1433.9 1737.1L1434.3 1690.7L1434.7 1637L1435.1 1580L1435.4 1524.4L1435.8 1475.4L1436.2 1437.5L1436.6 1413.1L1437 1403.8L1437.3 1410.4L1437.7 1432.5L1438.1 1468.2L1438.5 1515L1438.8 1569.1L1439.2 1626L1439.6 1681.2L1440 1730.5L1440.3 1770.4L1440.7 1797.7L1441.1 1809.6L1441.5 1804L1441.8 1780.9L1442.2 1742.4L1442.6 1692.8L1443 1637.1L1443.3 1580L1443.7 1525.1L1444.1 1476.3L1444.5 1436.6L1444.8 1409.8L1445.2 1399.2L1445.6 1406.3L1446 1430.1L1446.4 1467.6L1446.7 1515.1L1447.1 1569.2L1447.5 1626.2L1447.9 1681.7L1448.2 1731.1L1448.6 1769.4L1449 1793.2L1449.4 1802.1L1449.7 1794.9L1450.1 1772.6L1450.5 1736.9L1450.9 1690.4L1451.2 1636.6L1451.6 1579.7L1452 1524L1452.4 1474.5L1452.7 1435.9L1453.1 1411L1453.5 1401.4L1453.9 1407.7L1454.2 1429.8L1454.6 1466.3L1455 1514.3L1455.4 1569.2L1455.8 1626.3L1456.1 1681.1L1456.5 1729.6L1456.9 1768.1L1457.3 1794.1L1457.6 1805.7L1458 1800.4L1458.4 1778.1L1458.8 1740.6L1459.1 1691.9L1459.5 1636.7L1459.9 1579.7L1460.3 1524.9L1460.6 1476.6L1461 1438.8L1461.4 1414.5L1461.8 1405.5L1462.1 1412.3L1462.5 1434.3L1462.9 1469.7L1463.3 1515.9L1463.6 1569.6L1464 1626.5L1464.4 1682L1464.8 1730.1L1465.2 1767.8L1465.5 1791.8L1465.9 1800.6L1466.3 1793.8L1466.7 1772L1467 1736.7L1467.4 1690.2L1467.8 1636.3L1468.2 1579.4L1468.5 1524.1L1468.9 1474.8L1469.3 1435.1L1469.7 1407.9L1470 1396L1470.4 1401.2L1470.8 1424.3L1471.2 1463.1L1471.5 1513.3L1471.9 1569.4L1472.3 1626.6L1472.7 1681.4L1473 1730.2L1473.4 1770.4L1473.8 1798.4L1474.2 1810.2L1474.6 1803.7L1474.9 1779.4L1475.3 1740.5L1475.7 1691.4L1476.1 1636.3L1476.4 1579.3L1476.8 1524.3L1477.2 1475.8L1477.6 1437.6L1477.9 1413.2L1478.3 1404.3L1478.7 1411.4L1479.1 1433.8L1479.4 1469.5L1479.8 1516.1L1480.2 1569.9L1480.6 1626.9L1480.9 1682.4L1481.3 1731.5L1481.7 1769.8L1482.1 1794.4L1482.4 1803.9L1482.8 1797.5L1483.2 1775.3L1483.6 1738.8L1484 1690.9L1484.3 1636.1L1484.7 1579.1L1485.1 1524.2L1485.5 1475L1485.8 1434.7L1486.2 1406.9L1486.6 1395L1487 1401.1L1487.3 1425.2L1487.7 1464.4L1488.1 1514.2L1488.5 1569.9L1488.8 1626.9L1489.2 1681.8L1489.6 1730.1L1490 1768L1490.3 1792.3L1490.7 1801L1491.1 1793.8L1491.5 1771.4L1491.8 1735.8L1492.2 1689.5L1492.6 1635.8L1493 1578.9L1493.4 1523.5L1493.7 1475.6L1494.1 1438.4L1494.5 1415.1L1494.9 1407L1495.2 1414.1L1495.6 1435.8L1496 1470.7L1496.4 1516.6L1496.7 1570.3L1497.1 1627.2L1497.5 1682.9L1497.9 1732.3L1498.2 1771.5L1498.6 1797.7L1499 1808.7L1499.4 1803L1499.7 1780L1500.1 1741.5L1500.5 1691.8L1500.9 1635.9L1501.2 1578.8L1501.6 1524L1502 1474.8L1502.4 1433.7L1502.8 1405L1503.1 1392.7L1503.5 1399.2L1503.9 1424L1504.3 1463.9L1504.6 1514.3L1505 1570.1L1505.4 1627.2L1505.8 1681.9L1506.1 1730.1L1506.5 1767.7L1506.9 1791.8L1507.3 1800.7L1507.6 1793.8L1508 1771.7L1508.4 1736.1L1508.8 1689.5L1509.1 1635.5L1509.5 1578.6L1509.9 1523.8L1510.3 1475.6L1510.6 1437.9L1511 1413.5L1511.4 1404.2L1511.8 1410.6L1512.2 1432.7L1512.5 1468.4L1512.9 1515.8L1513.3 1570.5L1513.7 1627.4L1514 1682.5L1514.4 1732.3L1514.8 1773.9L1515.2 1803.2L1515.5 1816.1L1515.9 1809.7L1516.3 1784.3L1516.7 1743.1L1517 1691.8L1517.4 1635.6L1517.8 1578.5L1518.2 1523.6L1518.5 1474.7L1518.9 1435.7L1519.3 1411L1519.7 1403.1L1520 1410.7L1520.4 1433.8L1520.8 1470.1L1521.2 1516.8L1521.6 1570.7L1521.9 1627.7L1522.3 1683L1522.7 1730.8L1523.1 1767.7L1523.4 1790.6L1523.8 1798.2L1524.2 1790.8L1524.6 1769L1524.9 1734.2L1525.3 1688.6L1525.7 1635.1L1526.1 1578.1L1526.4 1522L1526.8 1472.2L1527.2 1433.2L1527.6 1408L1527.9 1398.3L1528.3 1405.2L1528.7 1428.7L1529.1 1466.8L1529.4 1515.7L1529.8 1570.8L1530.2 1627.8L1530.6 1683.3L1531 1734.3L1531.3 1776.8L1531.7 1806.2L1532.1 1818.1L1532.5 1810.3L1532.8 1783.9L1533.2 1742.7L1533.6 1691.5L1534 1635.3L1534.3 1578.2L1534.7 1523.6L1535.1 1475.8L1535.5 1438.6L1535.8 1414.9L1536.2 1406.3L1536.6 1413.2L1537 1435L1537.3 1470.4L1537.7 1516.9L1538.1 1571L1538.5 1627.9L1538.8 1682.4L1539.2 1729.7L1539.6 1766.3L1540 1789.7L1540.4 1798.8L1540.7 1792.7L1541.1 1771.4L1541.5 1736.1L1541.9 1689.2L1542.2 1634.9L1542.6 1578L1543 1523.1L1543.4 1473.8L1543.7 1432.7L1544.1 1403.1L1544.5 1389.5L1544.9 1395.2L1545.2 1420.6L1545.6 1462.3L1546 1514.4L1546.4 1570.9L1546.7 1628.1L1547.1 1683L1547.5 1733.2L1547.9 1774.2L1548.2 1801.1L1548.6 1810.3L1549 1801L1549.4 1775.2L1549.8 1736.7L1550.1 1689L1550.5 1634.7L1550.9 1577.8L1551.3 1523L1551.6 1475.1L1552 1438.3L1552.4 1415.5L1552.8 1407.8L1553.1 1415.3L1553.5 1437.2L1553.9 1472.1L1554.3 1517.9L1554.6 1571.4L1555 1628.4L1555.4 1684.5L1555.8 1734.3L1556.1 1773.2L1556.5 1798.2L1556.9 1807.5L1557.3 1799.8L1557.6 1775.7L1558 1737.4L1558.4 1688.9L1558.8 1634.6L1559.2 1577.5L1559.5 1520.7L1559.9 1467.1L1560.3 1421.7L1560.7 1390.6L1561 1379.1L1561.4 1389.3L1561.8 1418.9L1562.2 1462.7L1562.5 1515L1562.9 1571.3L1563.3 1628.4L1563.7 1683.1L1564 1731.2L1564.4 1768.5L1564.8 1792L1565.2 1800.1L1565.5 1792.8L1565.9 1770.6L1566.3 1735.1L1566.7 1688.6L1567 1634.5L1567.4 1577.5L1567.8 1523.4L1568.2 1476.9L1568.6 1441.6L1568.9 1419.4L1569.3 1411L1569.7 1416.9L1570.1 1437.3L1570.4 1471.6L1570.8 1517.7L1571.2 1571.7L1571.6 1628.6L1571.9 1683.3L1572.3 1731.6L1572.7 1770.4L1573.1 1798.1L1573.4 1810.7L1573.8 1805.4L1574.2 1781.2L1574.6 1741.1L1574.9 1690.3L1575.3 1634.4L1575.7 1577.3L1576.1 1521.8L1576.5 1470.6" fill="none" stroke="#0072BD" stroke-width="7.5" stroke-linejoin="round" stroke-linecap="round" clip-path="url(#ce)"/>
<path d="M1483.8 1440V1388.4M1508.6 1440V1390.1M1525 1440V1387M1551 1440V1390.1M1567.4 1440V1387.2M1425.3 1440V1397.9M1408.8 1440V1398.8" stroke="#0072BD" stroke-width="7.5" stroke-linecap="round" fill="none" clip-path="url(#ce)"/>
<path d="M1455.7 1770V1811M1495.6 1770V1811.9M1538 1770V1813.2M1553.2 1770V1811M1512.9 1770V1808.2M1381.9 1770V1804.5M1399.3 1770V1804.5M1438.3 1770V1806.7" stroke="#0072BD" stroke-width="7.5" stroke-linecap="round" fill="none" clip-path="url(#ce)"/>
<path d="M307.8 1402v32M316.1 1402v22M324.4 1402v32M332.6 1401.9v9M340.9 1401.9v16M349.2 1401.9v9M357.4 1401.9v16M365.7 1401.8v32M374 1401.8v22M382.3 1401.8v10M390.5 1401.8v9M398.8 1401.8v32M407.1 1401.7v22M415.3 1401.7v16M423.6 1401.7v16M431.9 1401.7v16M440.2 1401.6v22M448.4 1401.6v9M456.7 1401.6v22M465 1401.6v9M473.3 1401.6v9M481.5 1401.5v9M489.8 1401.5v9M498.1 1401.5v9M506.3 1401.5v20M514.6 1401.5v16M522.9 1401.4v32M531.2 1401.4v22M539.4 1401.4v9M547.7 1401.4v20M556 1401.4v32M564.2 1401.3v20M572.5 1401.3v16M580.8 1401.3v22M589.1 1401.3v10M597.3 1401.3v9M605.6 1401.2v20M613.9 1401.2v20M622.2 1401.2v9M630.4 1401.2v9M638.7 1401.2v9M647 1401.2v32M655.2 1401.1v22M663.5 1401.1v22M671.8 1401.1v9M680.1 1401.1v20M688.3 1401.1v22M696.6 1401v9M704.9 1401v16M713.1 1401v32M721.4 1401v9M729.7 1401v32M738 1401v32M746.2 1401v9M754.5 1400.9v9M762.8 1400.9v10M771 1400.9v9M779.3 1400.9v10M787.6 1400.9v20M795.9 1400.9v9M804.1 1400.9v32M812.4 1400.8v20M820.7 1400.8v10M829 1400.8v10M837.2 1400.8v20M845.5 1400.8v16M853.8 1400.8v32M862 1400.8v9M870.3 1400.7v9M878.6 1400.7v22M886.9 1400.7v10M895.1 1400.7v16M903.4 1400.7v22M911.7 1400.7v20M919.9 1400.6v32M928.2 1400.6v20M936.5 1400.6v16M944.8 1400.6v32M953 1400.6v20M961.3 1400.6v9M969.6 1400.6v20M977.9 1400.6v9M986.1 1400.6v20M994.4 1400.5v20M1002.7 1400.5v9M1010.9 1400.5v32M1019.2 1400.5v16M1027.5 1400.5v32M1035.8 1400.5v9M1044 1400.5v20M1052.3 1400.5v9M1060.6 1400.5v32M1068.8 1400.6v32M1077.1 1400.6v9M1085.4 1400.5v9M1093.7 1400.5v9M1101.9 1400.4v16M1110.2 1400.4v20M1118.5 1400.4v22M1126.7 1400.5v9M1135 1400.5v20M1143.3 1400.7v9M1151.6 1400.7v10M1159.8 1400.4v22M1168.1 1400.4v20M1176.4 1400.4v20M1184.7 1400.4v20M1192.9 1400.4v16M1201.2 1400.8v32M1209.5 1400.8v32M1217.7 1400.6v9M1226 1400.6v20M1234.3 1400.6v9M1242.6 1400.6v9M1250.8 1400v9M1259.1 1400.5v10M1267.4 1400.5v9M1275.6 1400.6v32M1283.9 1400.6v9M1292.2 1400.8v20M1300.5 1400.8v16M1308.7 1400.5v20M1317 1400.5v9M1325.3 1400.4v32M1333.6 1399.8v9M1341.8 1400.1v16M1350.1 1400.7v10M1358.4 1400.7v20M1366.6 1400.3v20M1374.9 1400.3v20M1383.2 1400.6v20M1391.5 1400.6v9M1399.7 1401v22M1408 1401v10M1416.3 1400.6v16M1424.5 1400.6v20M1432.8 1400.8v20M1441.1 1400.8v32M1449.4 1398.4v16M1457.6 1402.5v20M1465.9 1402.5v9M1474.2 1401.3v22M1482.4 1401.3v20M1490.7 1404v10M1499 1404v20M1507.3 1401.2v9M1515.5 1401.2v32M1523.8 1400.1v16M1532.1 1403.3v9M1540.4 1403.3v16M1548.6 1404.8v9M1556.9 1404.8v16M1565.2 1408v16M303.7 1804v-18M311.9 1804v-10M320.2 1804v-10M328.5 1804.1v-22M336.8 1804.1v-10M345 1804.1v-10M353.3 1804.1v-18M361.6 1804.2v-10M369.9 1804.2v-10M378.1 1804.2v-18M386.4 1804.2v-10M394.7 1804.2v-18M402.9 1804.3v-10M411.2 1804.3v-22M419.5 1804.3v-10M427.8 1804.3v-10M436 1804.3v-22M444.3 1804.4v-22M452.6 1804.4v-10M460.8 1804.4v-10M469.1 1804.4v-10M477.4 1804.4v-22M485.7 1804.5v-28M493.9 1804.5v-22M502.2 1804.5v-18M510.5 1804.5v-22M518.8 1804.5v-10M527 1804.6v-18M535.3 1804.6v-18M543.6 1804.6v-10M551.8 1804.6v-18M560.1 1804.6v-10M568.4 1804.7v-18M576.7 1804.7v-28M584.9 1804.7v-22M593.2 1804.7v-22M601.5 1804.8v-10M609.7 1804.8v-22M618 1804.8v-18M626.3 1804.8v-28M634.6 1804.8v-28M642.8 1804.8v-18M651.1 1804.9v-28M659.4 1804.9v-10M667.6 1804.9v-10M675.9 1804.9v-10M684.2 1804.9v-10M692.5 1804.9v-10M700.7 1804.9v-18M709 1805v-18M717.3 1805v-10M725.6 1805v-10M733.8 1805v-18M742.1 1805v-10M750.4 1805v-22M758.6 1805v-18M766.9 1805.1v-22M775.2 1805.1v-10M783.5 1805.1v-28M791.7 1805.1v-28M800 1805.2v-28M808.3 1805.2v-22M816.5 1805.2v-18M824.8 1805.2v-10M833.1 1805.2v-18M841.4 1805.2v-10M849.6 1805.2v-10M857.9 1805.2v-22M866.2 1805.2v-10M874.5 1805.3v-18M882.7 1805.3v-10M891 1805.3v-10M899.3 1805.3v-18M907.5 1805.3v-10M915.8 1805.3v-28M924.1 1805.3v-10M932.4 1805.4v-10M940.6 1805.4v-18M948.9 1805.4v-10M957.2 1805.4v-22M965.4 1805.4v-10M973.7 1805.4v-18M982 1805.5v-28M990.3 1805.5v-22M998.5 1805.5v-18M1006.8 1805.4v-28M1015.1 1805.4v-10M1023.3 1805.5v-10M1031.6 1805.5v-28M1039.9 1805.4v-10M1048.2 1805.4v-10M1056.4 1805.5v-10M1064.7 1805.5v-18M1073 1805.5v-10M1081.3 1805.6v-10M1089.5 1805.6v-10M1097.8 1805.4v-18M1106.1 1805.4v-18M1114.3 1805.4v-28M1122.6 1805.4v-10M1130.9 1805.6v-18M1139.2 1805.6v-22M1147.4 1805.6v-28M1155.7 1805.6v-10M1164 1805.6v-18M1172.2 1805.2v-18M1180.5 1805.2v-10M1188.8 1805.5v-18M1197.1 1805.5v-10M1205.3 1805.4v-10M1213.6 1805.4v-10M1221.9 1805.7v-28M1230.2 1805.4v-28M1238.4 1805.4v-10M1246.7 1805.2v-28M1255 1805.2v-22M1263.2 1805.4v-10M1271.5 1805.4v-22M1279.8 1805.6v-10M1288.1 1805.5v-22M1296.3 1805.5v-22M1304.6 1805.7v-28M1312.9 1805.7v-22M1321.1 1805.1v-28M1329.4 1805.1v-18M1337.7 1805.6v-10M1346 1805.6v-10M1354.2 1805.5v-18M1362.5 1805.5v-10M1370.8 1805.6v-10M1379 1805.6v-22M1387.3 1805.8v-18M1395.6 1805.8v-10M1403.9 1805.8v-10M1412.1 1806.3v-10M1420.4 1806.3v-10M1428.7 1804.1v-18M1437 1804.1v-22M1445.2 1805.1v-10M1453.5 1805.1v-10M1461.8 1803.6v-10M1470 1803.6v-22M1478.3 1806.9v-28M1486.6 1804v-18M1494.9 1804v-28M1503.1 1803.7v-10M1511.4 1803.7v-18M1519.7 1801.2v-10M1527.9 1801.2v-22M1536.2 1801.8v-10M1544.5 1801.8v-10M1552.8 1810.5v-18M1561 1803.1v-22" stroke="#fff" stroke-width="1.1" fill="none"/>
<rect x="291.2" y="1408" width="6.8" height="396" fill="#0072BD"/>
<path d="M1572.1 1417L1578.9 1419V1457L1574.5 1580L1572.1 1680Z" fill="#0072BD"/>
<rect x="1845.4" y="45.4" width="401.1" height="560.2" fill="none" stroke="#222222" stroke-width="6.8" stroke-linejoin="round"/>
<path d="M1853.3 605.6L1853.3 567.4L1854.3 567.4L1855.3 567.4L1856.3 567.3L1857.3 567.3L1858.3 567.3L1859.3 567.2L1860.3 567.1L1861.3 567L1862.3 567L1863.3 566.9L1864.3 566.8L1865.3 566.7L1866.3 566.5L1867.3 566.4L1868.3 566.3L1869.3 566.2L1870.3 566L1871.3 565.9L1872.3 565.7L1873.3 565.6L1874.3 565.4L1875.3 565.3L1876.3 565.1L1877.3 564.9L1878.3 564.8L1879.3 564.6L1880.3 564.4L1881.1 564.3L1881.3 564.3L1882.3 564.1L1883.3 563.9L1884.3 563.7L1885.3 563.5L1886.3 563.2L1887.3 563L1888.3 562.7L1889.3 562.5L1890.3 562.2L1891.3 561.9L1892.3 561.6L1893.3 561.3L1894.3 560.9L1895.3 560.6L1896.3 560.2L1897.3 559.9L1898.3 559.5L1899.3 559.1L1900.3 558.7L1901.3 558.3L1902.3 557.9L1903.1 557.5L1903.3 557.4L1904.3 556.9L1905.3 556.5L1906.3 555.9L1907.3 555.4L1908.3 554.8L1909.3 554.1L1910.3 553.4L1911.3 552.7L1912.3 551.9L1913.3 551.1L1914.3 550.3L1915.3 549.4L1916.3 548.4L1916.8 547.9L1917.3 547.4L1918.3 546L1919.3 544.5L1920.3 542.8L1921.3 541.2L1922.3 539.6L1923.3 538.2L1924.3 536.9L1925.3 535.6L1926.3 534.2L1927.3 532.4L1927.8 531.4L1928.3 530.2L1929.3 527.2L1930.3 523.5L1931.3 519.2L1932.3 514.7L1933.3 510L1934.3 505.4L1934.6 504L1935.3 500.8L1936.3 496.2L1937.3 491.4L1938.3 486.4L1939.3 481.1L1940.1 476.6L1940.3 475.4L1941.3 469.5L1942.3 463L1943.3 456L1944.2 449.1L1944.3 448.3L1945.3 440.1L1946.3 430.4L1947 421.7L1947.3 416.6L1948.3 394.3L1949.3 375.3L1949.7 366.8L1950.3 352.2L1951.1 328.5L1951.3 321.8L1952.3 283.3L1953 243.4L1953.3 206.2L1953.8 150.2L1954.3 148.1L1955.3 146.3L1955.5 146.3L1956.3 146.3L1957.3 146.3L1958.3 146.3L1959.3 146.3L1960.3 146.3L1961.3 146.3L1962.3 146.3L1963.3 146.3L1964.3 147.5L1964.8 150L1964.9 257L1965.3 281.2L1966.3 301.2L1966.7 312L1967.3 343.8L1967.5 353L1968.3 379.1L1968.9 394.3L1969.3 403.1L1970.3 422.1L1971.1 435.4L1971.3 438.6L1972.3 453.7L1973 462.8L1973.3 466.3L1974.3 476.6L1975.3 485.9L1975.8 490.3L1976.3 494.8L1977.3 503.5L1978.3 510.9L1978.5 512.2L1979.3 516.7L1980.3 521.7L1981.3 526.1L1982.3 530.2L1982.6 531.4L1983.3 534.2L1984.3 538.1L1985.3 541.8L1986.3 545.3L1987.3 548.4L1988.1 550.6L1988.3 551.1L1989.3 553.6L1990.3 556L1991.3 558.2L1992.3 560.3L1993.3 562.2L1994.3 564L1995.3 565.6L1996.3 567.1L1997.3 568.4L1998.3 569.7L1999.3 570.9L2000.3 572.1L2001.3 573.2L2002.3 574.2L2003.3 575.2L2004.3 576.1L2005.3 577L2006.3 577.9L2007.3 578.7L2008.3 579.5L2009.3 580.3L2010 580.8L2010.3 581L2011.3 581.7L2012.3 582.5L2013.3 583.1L2014.3 583.8L2015.3 584.5L2016.3 585.1L2017.3 585.7L2018.3 586.3L2019.3 586.9L2020.3 587.4L2021.3 587.9L2022.3 588.5L2023.3 588.9L2024.3 589.4L2025.3 589.9L2026.3 590.3L2026.5 590.4L2027.3 590.7L2028.3 591.2L2029.3 591.6L2030.3 592.1L2031.3 592.5L2032.3 593L2033.3 593.4L2034.3 593.8L2035.3 594.2L2036.3 594.6L2037.3 594.9L2038.3 595.2L2039.3 595.5L2040.3 595.7L2041.3 595.8L2042.3 595.9L2043 595.9L2043.3 595.9L2044.3 595.9L2045.3 595.9L2046.3 595.9L2047.3 595.9L2048.3 595.9L2049.3 595.9L2050.3 595.9L2051.3 595.9L2052.3 595.9L2053.3 595.9L2054.3 595.9L2055.3 595.9L2056.3 595.9L2057.3 595.9L2058.3 595.9L2059.3 595.9L2060.3 595.9L2061.3 595.9L2062.3 595.9L2063.3 595.9L2064.3 595.9L2065.3 595.9L2066.3 595.9L2067.3 595.9L2068.3 595.9L2069.3 595.9L2070.3 595.9L2071.3 595.9L2072.3 595.9L2073.1 595.9L2073.3 595.9L2074.3 595.9L2075.3 595.9L2076.3 595.9L2077.3 595.9L2078.3 596L2079.3 596L2080.3 596L2081.3 596L2082.3 596.1L2083.3 596.1L2084.3 596.1L2085.3 596.2L2086.3 596.2L2087.3 596.3L2088.3 596.3L2089.3 596.3L2090.3 596.4L2091.3 596.4L2092.3 596.5L2093.3 596.5L2094.3 596.5L2095.3 596.6L2096.3 596.6L2097.3 596.6L2098.3 596.7L2099.3 596.7L2100 596.7L2100.3 596.7L2101.3 596.7L2102.3 596.7L2103.3 596.8L2104.3 596.8L2105.3 596.8L2106.3 596.8L2107.3 596.8L2108.3 596.9L2109.3 596.9L2110.3 596.9L2111.3 596.9L2112.3 596.9L2113.3 596.9L2114.3 597L2115.3 597L2116.3 597L2117.3 597L2118.3 597L2119.3 597L2120.3 597.1L2121.3 597.1L2122.3 597.1L2123.3 597.1L2124.3 597.1L2125.3 597.1L2126.3 597.1L2127.3 597.2L2128.3 597.2L2129.3 597.2L2130.3 597.2L2131.3 597.2L2132.3 597.2L2133.3 597.2L2134.3 597.2L2135.3 597.3L2136.3 597.3L2137.3 597.3L2138.3 597.3L2139.3 597.3L2140.3 597.3L2141.3 597.3L2142.3 597.4L2143.3 597.4L2144.3 597.4L2145.3 597.4L2146.3 597.4L2147.3 597.4L2148.3 597.4L2149.3 597.4L2150.3 597.4L2151.3 597.5L2152.3 597.5L2153.3 597.5L2154.3 597.5L2155.3 597.5L2156.3 597.5L2157.3 597.5L2158.3 597.5L2159.3 597.5L2160.3 597.5L2161.3 597.5L2162.3 597.5L2163.3 597.5L2164.3 597.5L2165.3 597.5L2166.3 597.6L2167.3 597.6L2168.3 597.6L2169.3 597.6L2170.3 597.6L2171.3 597.6L2172.3 597.6L2173.3 597.6L2174.3 597.6L2175.3 597.6L2176.3 597.6L2177.3 597.6L2178.3 597.6L2179.3 597.6L2180.3 597.6L2181.3 597.6L2182.3 597.6L2183.3 597.6L2184.3 597.6L2185.3 597.6L2186.3 597.6L2187.3 597.6L2188.3 597.6L2189.3 597.6L2190.3 597.6L2191.3 597.7L2192.3 597.7L2193.3 597.7L2194.3 597.7L2195.3 597.7L2196.3 597.7L2197.3 597.7L2198.3 597.7L2199.3 597.7L2200.3 597.7L2201.3 597.7L2202.3 597.7L2203.3 597.8L2204.3 597.8L2205.3 597.8L2206.3 597.8L2207.3 597.8L2208.3 597.8L2209.3 597.8L2210.3 597.9L2211.3 597.9L2212.3 597.9L2213.3 597.9L2214.3 597.9L2215.3 597.9L2216.3 598L2217.3 598L2218.3 598L2219.3 598L2220.3 598.1L2221.3 598.1L2222.3 598.1L2223.3 598.1L2224.3 598.2L2225.3 598.2L2225.8 598.2L2226.2 599L2226.3 599L2227.3 599L2228.3 599.1L2229.3 599.1L2230.3 599.1L2231.3 599.1L2232.3 599.1L2233.3 599.1L2234.3 599.2L2235.3 599.2L2236.3 599.2L2237.3 599.2L2238.3 599.2L2239.3 599.2L2240.3 599.2L2241.3 599.2L2242.3 599.2L2243.3 599.2L2244.3 599.2L2245.3 599.2L2246.3 599.2L2246.5 599.2L2246.5 605.6Z" fill="#0064C8" clip-path="url(#cb)"/>
<path d="M1848.8000000000002 605.6V55L1853.8 48.6V605.6Z" fill="#0064C8"/>
<rect x="1845.4" y="45.4" width="401.1" height="560.2" fill="none" stroke="#222222" stroke-width="6.8" stroke-linejoin="round"/>
<path d="M2048.8 45.4V52.3M2048.8 605.6V598.7M1845.4 185H1852.3M2246.5 185H2239.6M1845.4 325.2H1852.3M2246.5 325.2H2239.6M1845.4 465H1852.3M2246.5 465H2239.6" fill="none" stroke="#222222" stroke-width="6.0" stroke-linecap="round"/>
<path d="M1845.4 51.6H1849.8" fill="none" stroke="#222222" stroke-width="6.0" stroke-linecap="round"/>
<path d="M1848 1241.4L1848 1116L1849 1116L1850 1116L1851 1115.9L1852 1115.9L1853 1115.8L1854 1115.8L1855 1115.7L1856 1115.6L1857 1115.5L1858 1115.4L1859 1115.2L1860 1115.1L1861 1115L1862 1114.8L1863 1114.7L1864 1114.5L1865 1114.4L1866 1114.2L1867 1114.1L1868 1113.9L1868.5 1113.8L1869 1113.7L1870 1113.5L1871 1113.3L1872 1113L1873 1112.7L1874 1112.4L1875 1112L1876 1111.7L1877 1111.3L1878 1110.9L1879 1110.5L1880 1110L1881 1109.6L1882 1109.2L1882.8 1108.8L1883 1108.7L1884 1108.2L1885 1107.7L1886 1107.2L1887 1106.6L1888 1106L1889 1105.3L1890 1104.6L1891 1104L1892 1103.3L1893 1102.5L1894 1101.8L1895 1101.1L1896 1100.3L1897 1099.6L1898 1098.9L1899 1098.1L1900 1097.3L1901 1096.5L1902 1095.7L1903 1094.9L1904 1094L1905 1093L1906 1092.1L1907 1091L1908 1089.9L1909 1088.7L1910 1087.4L1911 1086L1912 1084.5L1913 1082.9L1914 1081.2L1914.1 1081L1915 1079.3L1916 1077.1L1917 1074.7L1918 1072.1L1918.4 1071L1919 1069.4L1920 1066.5L1921 1063.3L1922 1059.7L1922.7 1056.8L1923 1055.4L1924 1049.5L1925 1042.9L1925.5 1039.7L1926 1036.7L1927 1031.1L1928 1024.5L1928.4 1021.2L1929 1014.8L1930 1000.7L1930.5 992.7L1931 984.1L1932 963.9L1932.7 947L1933 938.8L1934 904.2L1934.1 900L1934.6 873.5L1935 825.5L1935.1 818.7L1936 792.6L1937 775.5L1938 768.3L1938.1 768L1939 766.1L1940 765.2L1941 765.2L1942 765.2L1943 765.2L1944 765.2L1945 765.2L1946 765.6L1947 768L1947.2 840.6L1948 846.2L1948.8 851.6L1949 900L1950 934.2L1950.5 942.8L1951 952.6L1952 969.3L1953 982.3L1953.3 985.5L1954 992.1L1955 1000.2L1956 1006L1956.2 1006.9L1957 1010.1L1958 1013.7L1959 1016.5L1960 1018.1L1960.5 1018.3L1961 1018.2L1962 1017.7L1963 1016.8L1964 1015.5L1965 1013.9L1966 1012.3L1967 1010.5L1968 1008.8L1968.3 1008.3L1969 1007.1L1970 1005.2L1971 1003.1L1972 1000.8L1973 998.5L1974 996.1L1975 993.7L1975.4 992.7L1976 991.3L1977 988.9L1978 986.5L1979 984.1L1980 981.5L1981 978.8L1982 975.9L1982.6 974.1L1983 972.8L1984 969.4L1985 965.6L1986 961.6L1987 957.4L1988 953.1L1989 948.7L1989.7 945.6L1990 944.3L1991 939.6L1992 934.6L1993 929.6L1994 924.7L1994.7 921.4L1995 920L1996 915.8L1997 911.8L1998 907.5L1999 902.6L1999.3 900.9L2000 896.2L2001 888.2L2002 879.7L2002.5 875.7L2003 872L2004 864.8L2005 857.6L2005.8 851.6L2006 850.1L2007 842.5L2008 834.5L2009 825.2L2009.1 824.2L2010 812.8L2011 797.9L2011.9 785.8L2012 784.6L2013 774L2014 764.3L2014.6 758.4L2015 754.4L2016 744.9L2017 735.2L2017.9 725.5L2018 724.3L2019 711.8L2020 698L2021 684L2022 670L2023 670L2024 670L2025 670L2026 670L2027 670L2028 670L2029 670L2030 670L2031 670L2032 670L2033 670L2034 670L2035 670L2036 670L2037 670L2038 670L2039 670L2040 670L2041 670L2042 670L2043 670L2044 670L2045 670L2046 670L2047 670L2048 670L2049 670L2050 670L2051 670L2052 670L2053 670L2054 670L2055 670L2056 670L2057 670L2058 670L2059 670L2060 670L2061 670L2062 670L2063 670L2064 670L2065 670L2066 670L2067 670L2068 670L2069 670L2070 670L2071 670L2072 670L2073 670L2074 670L2075 670L2076 670L2077 670L2078 670L2079 670L2080 670L2081 670L2082 670L2083 670L2083.9 684L2084 685.5L2085 700.8L2086 715.9L2087 730.8L2088 745.5L2089 760L2090 774.6L2091 789.4L2092 804.2L2093 818.6L2094 832.2L2095 844.8L2095.8 853.9L2096 856L2097 866.4L2098 876.3L2099 885.6L2100 894.5L2101 902.9L2102 910.7L2103 918.1L2104 925L2105 931.3L2106 937.2L2107 942.6L2108 947.8L2109 952.9L2110 957.9L2110.4 960L2111 963.1L2112 968.1L2113 973L2114 977.8L2115 982.7L2115.5 985.2L2116 987.7L2117 993L2118 998.4L2119 1003.5L2120 1008.3L2120.5 1010.4L2121 1012.4L2122 1016.1L2123 1019.6L2124 1022.8L2125 1025.9L2126 1029L2127 1032.1L2128 1035.4L2128.1 1035.7L2129 1038.7L2130 1042.2L2131 1045.6L2132 1049.1L2133 1052.5L2134 1055.7L2135 1058.8L2135.7 1060.9L2136 1061.8L2137 1064.5L2138 1067.1L2139 1069.7L2140 1072.1L2141 1074.6L2142 1076.9L2143 1079.3L2144 1081.7L2145 1084.1L2145.8 1086.1L2146 1086.6L2147 1089.1L2148 1091.5L2149 1093.9L2150 1096.3L2151 1098.8L2152 1101.4L2153 1104.2L2153.3 1105L2154 1106.9L2155 1109.6L2156 1112.4L2157 1115.7L2158 1119.6L2158.4 1121.4L2159 1126L2160 1134.6L2160.3 1135.3L2160.9 1135.3L2161 1132.8L2161.5 1098.7L2162 1093.4L2163 1088L2163.4 1087.4L2164 1087.1L2165 1086.7L2166 1086.4L2167 1086.2L2168 1086.1L2168.4 1086.1L2169 1086.1L2170 1086.2L2171 1086.5L2172 1086.8L2173 1087.2L2173.5 1087.4L2174 1088L2175 1090.7L2176 1094.4L2177 1097.9L2177.3 1098.7L2178 1100.3L2179 1102.5L2180 1104.6L2181 1106.5L2182 1108.4L2183 1110.2L2183.6 1111.3L2184 1112L2185 1113.9L2186 1115.7L2187 1117.5L2188 1119.2L2189 1120.9L2190 1122.4L2191 1123.8L2191.1 1123.9L2192 1125L2193 1126.2L2194 1127.3L2195 1128.4L2196 1129.4L2197 1130.4L2198 1131.3L2199 1132.2L2200 1133.1L2201 1134L2202 1134.9L2202.5 1135.3L2203 1135.7L2204 1136.6L2205 1137.4L2206 1138.2L2207 1139L2208 1139.8L2209 1140.6L2210 1141.4L2211 1142.1L2212 1142.8L2213 1143.5L2214 1144.2L2215 1144.9L2216 1145.6L2217 1146.2L2217.6 1146.6L2218 1146.8L2219 1147.5L2220 1148.1L2221 1148.7L2222 1149.2L2223 1149.8L2224 1150.4L2225 1150.9L2226 1151.4L2227 1152L2228 1152.5L2229 1153L2230 1153.5L2231 1154L2232 1154.5L2233 1155L2234 1155.5L2235 1156L2236 1156.5L2236.5 1156.7L2237 1156.9L2238 1157.4L2239 1157.9L2240 1158.3L2241 1158.8L2242 1159.2L2243 1159.6L2244 1160.1L2245 1160.5L2246 1160.9L2247 1161.3L2248 1161.8L2249 1162.2L2250 1162.6L2251 1163L2252 1163.4L2253 1163.8L2254 1164.2L2255 1164.6L2255 1241.4Z" fill="#0064C8" clip-path="url(#cd)"/>
<rect x="1847.5" y="675.5" width="407.1" height="565.9" fill="none" stroke="#222222" stroke-width="6.8" stroke-linejoin="round"/>
<path d="M2052.3 675.5V682.4M2052.3 1241.4V1234.5M1847.5 864.1H1854.4M2254.6 864.1H2247.7M1847.5 1052.5H1854.4M2254.6 1052.5H2247.7" fill="none" stroke="#222222" stroke-width="6.0" stroke-linecap="round"/>
<path d="M1847.5 681.9H1852.9" fill="none" stroke="#222222" stroke-width="6.0" stroke-linecap="round"/>
<path d="M1843.7 1889.7L1843.7 1688.4L1844.7 1688.3L1845.7 1688.3L1846.7 1688.2L1847.1 1688.2L1847.7 1688.2L1848.7 1688.1L1849.7 1688L1850.7 1687.9L1851.7 1687.8L1852.7 1687.7L1853.7 1687.6L1854.7 1687.5L1855.7 1687.4L1856.7 1687.3L1857.7 1687.2L1858.7 1687.1L1859.7 1687L1860.7 1686.8L1861.7 1686.7L1862.7 1686.6L1863.7 1686.5L1864.7 1686.4L1865.7 1686.2L1866.7 1686.1L1867.7 1686L1868.7 1685.8L1869.7 1685.7L1870.7 1685.6L1871.7 1685.4L1872.7 1685.3L1872.8 1685.3L1873.7 1685.2L1874.7 1685L1875.7 1684.9L1876.7 1684.7L1877.7 1684.6L1878.7 1684.4L1879.7 1684.2L1880.7 1684L1881.7 1683.9L1882.7 1683.7L1883.7 1683.5L1884.7 1683.4L1885.7 1683.2L1886.7 1683.1L1887.7 1682.9L1888.7 1682.8L1889.7 1682.7L1890.7 1682.6L1891.3 1682.5L1891.7 1682.5L1892.7 1682.4L1893.7 1682.3L1894.7 1682.2L1895.7 1682.1L1896.7 1682L1897.7 1681.9L1898.7 1681.9L1899.7 1681.8L1900.7 1681.8L1901.3 1681.8L1901.7 1681.8L1902.7 1681.8L1903.7 1681.9L1904.7 1682L1905.7 1682.1L1906.7 1682.3L1907.7 1682.4L1908.7 1682.6L1909.7 1682.8L1909.8 1682.8L1910.7 1683L1911.7 1683.3L1912.7 1683.6L1913.7 1684L1914.7 1684.5L1915.7 1685L1916.7 1685.5L1916.9 1685.6L1917.7 1686L1918.7 1686.7L1919.7 1687.4L1920.7 1688.2L1921.2 1688.7L1921.7 1689.2L1922.7 1690.5L1923.7 1692.1L1924.7 1694L1924.8 1694.2L1925.7 1696.4L1926.7 1699.3L1926.9 1699.9L1927.7 1702.3L1928.6 1705.6L1928.7 1706.1L1929.7 1712.6L1929.8 1712.7L1930.7 1712.7L1930.9 1712.7L1931.5 1699.1L1931.7 1698.9L1932.7 1698.4L1933.7 1698L1934 1697.7L1934.7 1654.7L1935.2 1600L1935.7 1513.6L1936.2 1450L1936.7 1443.2L1937.7 1435.5L1938.4 1434L1938.7 1434L1939.7 1434L1940.7 1434L1941.7 1434L1942.7 1434L1943.7 1434L1944.7 1434L1945.7 1434L1946.1 1434L1946.7 1443L1947.2 1453.2L1947.7 1459.2L1948.7 1468.7L1948.8 1469.6L1949.7 1476.7L1950.7 1483.9L1951 1486.1L1951.7 1491.6L1952.7 1499.3L1953.2 1502.5L1953.7 1505.4L1954.7 1511.1L1955.7 1515.6L1956.5 1517.9L1956.7 1518.3L1957.7 1519.9L1958.7 1520.6L1959.7 1520.1L1960.7 1518.8L1961.7 1516.9L1962.7 1514.6L1963.7 1512.4L1964.2 1511.3L1964.7 1510.2L1965.7 1507.8L1966.7 1505.2L1967.7 1502.4L1968.7 1499.6L1969.6 1497L1969.7 1496.7L1970.7 1493.9L1971.7 1491L1972.7 1488.1L1973.7 1485L1974.7 1481.9L1975.1 1480.6L1975.7 1478.6L1976.7 1475.3L1977.7 1471.8L1978.7 1468.1L1979.7 1464.4L1980.6 1460.9L1980.7 1460.5L1981.7 1456.5L1982.7 1452.4L1983.7 1448.2L1984.7 1443.7L1985.7 1438.8L1986.1 1436.8L1986.7 1433.6L1987.7 1427.8L1988.7 1421.6L1989.7 1414.9L1990.5 1409.3L1990.7 1407.8L1991.7 1399.5L1992.7 1390.7L1993.7 1382.6L1993.8 1381.9L1994.7 1376.3L1995.7 1370.6L1996.5 1365.5L1996.7 1364.1L1997.7 1356.9L1998.7 1349.2L1999.7 1340.7L2000.7 1331.4L2001.6 1322L2001.7 1320.7L2002.5 1310L2002.7 1310L2003.7 1310L2004.7 1310L2005.7 1310L2006.7 1310L2007.7 1310L2008.7 1310L2009.7 1310L2010.7 1310L2011.7 1310L2012.7 1310L2013.7 1310L2014.7 1310L2015.7 1310L2016.7 1310L2017.7 1310L2018.7 1310L2019.7 1310L2020.7 1310L2021.7 1310L2022.7 1310L2023.7 1310L2024.7 1310L2025.7 1310L2026.7 1310L2027.7 1310L2028.7 1310L2029.7 1310L2030.7 1310L2031.7 1310L2032.7 1310L2033.7 1310L2034.7 1310L2035.7 1310L2036.7 1310L2037.7 1310L2038.7 1310L2039.7 1310L2040.7 1310L2041.7 1310L2042.7 1310L2043.7 1310L2044.7 1310L2045.7 1310L2046.7 1310L2047.7 1310L2048.7 1310L2049.7 1310L2050.7 1310L2051.7 1310L2052.7 1310L2053.7 1310L2054.7 1310L2055.7 1310L2056.7 1310L2057.7 1310L2058.7 1310L2059.7 1310L2060.7 1310L2061.7 1310L2062.7 1310L2063.7 1310L2064.7 1310L2065.7 1310L2066.7 1310L2067.7 1310L2068.7 1310L2069.7 1310L2070.7 1310L2071.7 1310L2072.7 1310L2073.7 1310L2074.7 1310L2075.7 1310L2076.7 1310L2077.7 1310L2078.7 1310L2079.7 1310L2080.7 1310L2081.7 1310L2082.7 1310L2083.7 1310L2084.7 1310L2085.7 1310L2086.7 1310L2087.7 1310L2088.7 1310L2089.7 1310L2090.7 1310L2091.7 1310L2092.7 1310L2093.7 1310L2094.7 1310L2095.7 1310L2096 1310L2096.7 1317.5L2097 1322L2097.7 1332.1L2098.7 1348L2099.7 1363.7L2100 1368L2100.7 1377.3L2101.7 1389.8L2102.7 1401.8L2103.5 1411.4L2103.7 1413.8L2104.7 1426.2L2105.7 1438.8L2106.7 1450.9L2107.7 1462L2108.5 1470L2108.7 1471.8L2109.7 1480.7L2110.7 1488.9L2111.7 1496.7L2112.7 1504.1L2113.7 1511.1L2114.7 1517.9L2115.7 1524.5L2116.7 1531L2117.7 1537.3L2118.7 1543.3L2119.7 1549.1L2120.7 1554.7L2121.7 1560.3L2122.7 1565.8L2123.7 1571.5L2123.9 1572.6L2124.7 1577.2L2125.7 1583.2L2126.7 1589.1L2127.7 1594.8L2128.7 1600.2L2129.3 1603.3L2129.7 1605.3L2130.7 1610.1L2131.7 1614.8L2132.7 1619.3L2133.7 1623.4L2134.7 1627.2L2134.8 1627.5L2135.7 1630.4L2136.7 1633.4L2137.7 1636.1L2138.7 1638.8L2139.7 1641.4L2140.7 1644.1L2141.4 1646.1L2141.7 1647L2142.7 1650.1L2143.7 1653.2L2144.7 1656.4L2145.7 1659.6L2146.7 1662.8L2147.7 1666L2148 1666.9L2148.7 1669L2149.7 1672L2150.7 1675L2151.7 1677.9L2152.7 1680.9L2153.7 1683.9L2154.6 1686.7L2154.7 1687L2155.7 1690.9L2156.7 1695.3L2157.7 1699L2158.7 1700.8L2158.9 1700.9L2159.7 1700.9L2159.8 1700.9L2160.7 1659.2L2161.1 1640.6L2161.7 1625.9L2162.7 1611.3L2162.8 1611L2163.7 1609.5L2164.7 1608.5L2165.5 1608.3L2165.7 1608.3L2166.7 1608.3L2167.7 1608.3L2168.7 1608.4L2169.7 1608.5L2170 1608.5L2170.7 1609L2171.7 1611.1L2172.7 1614.3L2173 1615.4L2173.7 1619.5L2174.7 1628.6L2174.8 1629.6L2175.7 1641.7L2176.5 1652.7L2176.7 1654.8L2177.7 1664.2L2178.7 1672.4L2179.7 1680.3L2180.7 1687.7L2181.7 1693.9L2182 1695.4L2182.7 1698.5L2183.7 1702.5L2184.7 1705.9L2185.7 1708.9L2186.4 1710.8L2186.7 1711.6L2187.7 1713.8L2188.7 1715.8L2189.7 1717.8L2190.7 1720L2191.7 1722.6L2192.7 1725.5L2193.7 1728.6L2194.7 1731.5L2195.7 1734.2L2196.7 1736.5L2196.8 1736.7L2197.7 1738.4L2198.7 1740.1L2199.7 1741.8L2200.7 1743.3L2201.7 1744.8L2202.7 1746.2L2203.7 1747.5L2204.7 1748.8L2205.7 1750L2206.7 1751.2L2207.7 1752.4L2208.7 1753.5L2209.7 1754.7L2210 1755L2210.7 1755.8L2211.7 1756.9L2212.7 1758L2213.7 1759.1L2214.7 1760.1L2215.7 1761.2L2216.7 1762.2L2217.7 1763.2L2218.7 1764.1L2219.7 1765.1L2220.7 1766L2221.7 1766.9L2222.7 1767.8L2223.7 1768.6L2224.7 1769.5L2225.7 1770.3L2226.7 1771.1L2227.1 1771.4L2227.7 1771.9L2228.7 1772.6L2229.7 1773.4L2230.7 1774.2L2231.7 1774.9L2232.7 1775.7L2233.7 1776.4L2234.7 1777.1L2235.7 1777.9L2236.7 1778.6L2237.7 1779.3L2238.7 1780L2239.7 1780.6L2240.7 1781.3L2241.7 1781.9L2242.7 1782.6L2243.7 1783.2L2244.7 1783.8L2245.7 1784.4L2246.7 1785L2247.7 1785.5L2248.7 1786L2249.7 1786.6L2250.7 1787L2251.7 1787.5L2252.7 1788L2253.7 1788.4L2254.5 1788.7L2254.7 1788.8L2255.7 1789.1L2256.7 1789.5L2257.7 1789.7L2258.6 1790L2258.6 1889.7Z" fill="#0064C8" clip-path="url(#cf)"/>
<rect x="1843.5" y="1317.5" width="415.1" height="572.2" fill="none" stroke="#222222" stroke-width="6.8" stroke-linejoin="round"/>
<path d="M2052.4 1317.5V1324.4M2052.4 1889.7V1882.8M1843.5 1603.6H1850.4M2258.6 1603.6H2251.7" fill="none" stroke="#222222" stroke-width="6.0" stroke-linecap="round"/>
<path d="M1843.5 1323.8H1848.9" fill="none" stroke="#222222" stroke-width="6.0" stroke-linecap="round"/>
<path d="M1955.1 240.4L1995.6 278.8" stroke="#000" stroke-width="7.0" stroke-linecap="round" fill="none"/>
<path d="M2023.5 305.3L1977.3 291.5L1995.6 278.8L2007.3 259.9Z" fill="#000"/>
<path d="M1939 813.5L1925.2 789.4" stroke="#000" stroke-width="7.0" stroke-linecap="round" fill="none"/>
<path d="M1906.1 756L1946.4 782.5L1925.2 789.4L1908.5 804.1Z" fill="#000"/>
<path d="M2167.7 1087.3L2145 1036.2" stroke="#000" stroke-width="7.0" stroke-linecap="round" fill="none"/>
<path d="M2129.4 1001L2166.8 1031.5L2145 1036.2L2126.9 1049.1Z" fill="#000"/>
<path d="M1938.8 1439.4L1922.4 1423.1" stroke="#000" stroke-width="7.0" stroke-linecap="round" fill="none"/>
<path d="M1895.1 1396L1941 1410.8L1922.4 1423.1L1910.2 1441.8Z" fill="#000"/>
<path d="M2169.4 1612.5L2169.4 1579.3" stroke="#000" stroke-width="7.0" stroke-linecap="round" fill="none"/>
<path d="M2169.4 1540.8L2191.2 1583.8L2169.4 1579.3L2147.6 1583.8Z" fill="#000"/>
<text transform="translate(75 640.6) rotate(-90)" font-size="69" fill="#000"><tspan x="-1.20" textLength="245.74" lengthAdjust="spacingAndGlyphs">terminal</tspan> <tspan x="261.70" textLength="209.96" lengthAdjust="spacingAndGlyphs">voltage</tspan> <tspan x="489.80" textLength="74.20" lengthAdjust="spacingAndGlyphs">PS</tspan></text>
<text transform="translate(154.4 686.3) rotate(-90)" font-size="69" fill="#000"><tspan x="-1.20" textLength="171.10" lengthAdjust="spacingAndGlyphs">d-axis</tspan> <tspan x="188.10" textLength="326.46" lengthAdjust="spacingAndGlyphs">component</tspan> <tspan x="536.40" textLength="114.26" lengthAdjust="spacingAndGlyphs">(pu)</tspan></text>
<text transform="translate(75 1235.7) rotate(-90)" font-size="69" fill="#000"><tspan x="-1.20" textLength="239.24" lengthAdjust="spacingAndGlyphs">Phase-A</tspan> <tspan x="257.40" textLength="242.13" lengthAdjust="spacingAndGlyphs">terminal</tspan></text>
<text transform="translate(154 1161.6) rotate(-90)" font-size="69" fill="#000"><tspan x="-1.20" textLength="211.60" lengthAdjust="spacingAndGlyphs">current</tspan> <tspan x="225.40" textLength="120.06" lengthAdjust="spacingAndGlyphs">(pu)</tspan></text>
<text transform="translate(75 1845.7) rotate(-90)" font-size="69" fill="#000"><tspan x="-1.20" textLength="239.24" lengthAdjust="spacingAndGlyphs">Phase-A</tspan> <tspan x="257.40" textLength="242.13" lengthAdjust="spacingAndGlyphs">terminal</tspan></text>
<text transform="translate(154 1771.6) rotate(-90)" font-size="69" fill="#000"><tspan x="-1.20" textLength="211.56" lengthAdjust="spacingAndGlyphs">voltage</tspan> <tspan x="225.40" textLength="120.06" lengthAdjust="spacingAndGlyphs">(pu)</tspan></text>
<text transform="translate(1693.1 554.9) rotate(-90)" font-size="69" fill="#000"><tspan x="-1.20" textLength="137.67" lengthAdjust="spacingAndGlyphs">Mag</tspan> <tspan x="148.30" textLength="83.56" lengthAdjust="spacingAndGlyphs">(%</tspan> <tspan x="244.40" textLength="64.78" lengthAdjust="spacingAndGlyphs">of</tspan> <tspan x="326.10" textLength="113.16" lengthAdjust="spacingAndGlyphs">DC)</tspan></text>
<text transform="translate(1693.1 1173.6) rotate(-90)" font-size="69" fill="#000"><tspan x="-1.20" textLength="137.67" lengthAdjust="spacingAndGlyphs">Mag</tspan> <tspan x="148.30" textLength="82.26" lengthAdjust="spacingAndGlyphs">(%</tspan> <tspan x="243.60" textLength="64.28" lengthAdjust="spacingAndGlyphs">of</tspan> <tspan x="323.50" textLength="114.46" lengthAdjust="spacingAndGlyphs">AC)</tspan></text>
<text transform="translate(1693.1 1831.2) rotate(-90)" font-size="69" fill="#000"><tspan x="-1.20" textLength="137.67" lengthAdjust="spacingAndGlyphs">Mag</tspan> <tspan x="148.30" textLength="83.56" lengthAdjust="spacingAndGlyphs">(%</tspan> <tspan x="244.90" textLength="64.28" lengthAdjust="spacingAndGlyphs">of</tspan> <tspan x="324.80" textLength="115.76" lengthAdjust="spacingAndGlyphs">AC)</tspan></text>
<text x="175.80" y="96.4" font-size="66" fill="#404040" textLength="109.40" lengthAdjust="spacingAndGlyphs">1.02</text>
<text x="253.30" y="293" font-size="66" fill="#404040" textLength="25.90" lengthAdjust="spacingAndGlyphs">1</text>
<text x="170.80" y="519.4" font-size="66" fill="#404040" textLength="114.40" lengthAdjust="spacingAndGlyphs">0.98</text>
<text x="259.30" y="780" font-size="66" fill="#404040" textLength="24.40" lengthAdjust="spacingAndGlyphs">1</text>
<text x="254.20" y="982" font-size="66" fill="#404040" textLength="31.20" lengthAdjust="spacingAndGlyphs">0</text>
<text x="234.60" y="1187.4" font-size="66" fill="#404040" textLength="50.78" lengthAdjust="spacingAndGlyphs">-1</text>
<text x="256.30" y="1422.7" font-size="66" fill="#404040" textLength="23.90" lengthAdjust="spacingAndGlyphs">1</text>
<text x="249.80" y="1628.1" font-size="66" fill="#404040" textLength="32.40" lengthAdjust="spacingAndGlyphs">0</text>
<text x="231.50" y="1830.9" font-size="66" fill="#404040" textLength="50.68" lengthAdjust="spacingAndGlyphs">-1</text>
<text x="337.80" y="1960.5" font-size="66" fill="#404040" textLength="26.90" lengthAdjust="spacingAndGlyphs">1</text>
<text x="744.00" y="1961.2" font-size="66" fill="#404040" textLength="33.00" lengthAdjust="spacingAndGlyphs">2</text>
<text x="1160.00" y="1961.3" font-size="66" fill="#404040" textLength="34.10" lengthAdjust="spacingAndGlyphs">3</text>
<text x="1571.60" y="1961.3" font-size="66" fill="#404040" textLength="34.90" lengthAdjust="spacingAndGlyphs">4</text>
<text y="2039.4" font-size="69" fill="#000"><tspan x="846.80" textLength="150.33" lengthAdjust="spacingAndGlyphs">Time</tspan> <tspan x="1018.60" textLength="67.95" lengthAdjust="spacingAndGlyphs">(s)</tspan></text>
<text x="1718.80" y="94" font-size="66" fill="#404040" textLength="114.70" lengthAdjust="spacingAndGlyphs">0.02</text>
<text x="1718.80" y="350.2" font-size="66" fill="#404040" textLength="112.90" lengthAdjust="spacingAndGlyphs">0.01</text>
<text x="1791.80" y="596.5" font-size="66" fill="#404040" textLength="32.90" lengthAdjust="spacingAndGlyphs">0</text>
<text x="1726.80" y="722" font-size="66" fill="#404040" textLength="111.90" lengthAdjust="spacingAndGlyphs">0.03</text>
<text x="1726.80" y="887.9" font-size="66" fill="#404040" textLength="113.40" lengthAdjust="spacingAndGlyphs">0.02</text>
<text x="1726.80" y="1077.2" font-size="66" fill="#404040" textLength="111.90" lengthAdjust="spacingAndGlyphs">0.01</text>
<text x="1797.20" y="1254.9" font-size="66" fill="#404040" textLength="32.00" lengthAdjust="spacingAndGlyphs">0</text>
<text x="1716.40" y="1365.9" font-size="66" fill="#404040" textLength="113.00" lengthAdjust="spacingAndGlyphs">0.02</text>
<text x="1716.40" y="1628.3" font-size="66" fill="#404040" textLength="110.80" lengthAdjust="spacingAndGlyphs">0.01</text>
<text x="1790.10" y="1899.3" font-size="66" fill="#404040" textLength="32.80" lengthAdjust="spacingAndGlyphs">0</text>
<text x="1844.30" y="1955.7" font-size="66" fill="#404040" textLength="34.90" lengthAdjust="spacingAndGlyphs">0</text>
<text x="2017.80" y="1955.7" font-size="66" fill="#404040" textLength="65.30" lengthAdjust="spacingAndGlyphs">50</text>
<text x="2188.80" y="1955.7" font-size="66" fill="#404040" textLength="95.10" lengthAdjust="spacingAndGlyphs">100</text>
<text y="2035.9" font-size="69" fill="#000"><tspan x="1796.60" textLength="305.98" lengthAdjust="spacingAndGlyphs">Frequency</tspan> <tspan x="2128.40" textLength="130.34" lengthAdjust="spacingAndGlyphs">(Hz)</tspan></text>
<text y="137.5" font-size="69" fill="#000"><tspan x="475.70" textLength="226.93" lengthAdjust="spacingAndGlyphs">Change</tspan> <tspan x="721.70" textLength="183.90" lengthAdjust="spacingAndGlyphs">NSCC</tspan> <tspan x="923.20" textLength="106.92" lengthAdjust="spacingAndGlyphs">BW</tspan></text>
<text y="216.8" font-size="69" fill="#000"><tspan x="472.60" textLength="145.40" lengthAdjust="spacingAndGlyphs">from</tspan> <tspan x="631.90" textLength="99.90" lengthAdjust="spacingAndGlyphs">200</tspan> <tspan x="752.50" textLength="57.75" lengthAdjust="spacingAndGlyphs">to</tspan> <tspan x="824.80" textLength="99.20" lengthAdjust="spacingAndGlyphs">590</tspan> <tspan x="941.60" textLength="88.45" lengthAdjust="spacingAndGlyphs">Hz</tspan></text>
<text x="339.80" y="570.2" font-size="69" fill="#000" textLength="71.56" lengthAdjust="spacingAndGlyphs">(a)</text>
<text x="340.80" y="1205.6" font-size="69" fill="#000" textLength="69.16" lengthAdjust="spacingAndGlyphs">(c)</text>
<text x="339.00" y="1850.7" font-size="69" fill="#000" textLength="74.76" lengthAdjust="spacingAndGlyphs">(e)</text>
<text x="1854.80" y="104.6" font-size="69" fill="#000" textLength="394.41" lengthAdjust="spacingAndGlyphs">Fundamental</text>
<text y="170.9" font-size="69" fill="#000"><tspan x="1937.40" textLength="104.78" lengthAdjust="spacingAndGlyphs">(0.5</tspan> <tspan x="2059.20" textLength="108.76" lengthAdjust="spacingAndGlyphs">Hz)</tspan></text>
<text y="371.2" font-size="69" fill="#000"><tspan x="2015.30" textLength="114.70" lengthAdjust="spacingAndGlyphs">27.5</tspan> <tspan x="2148.60" textLength="91.85" lengthAdjust="spacingAndGlyphs">Hz</tspan></text>
<text x="1881.30" y="572.4" font-size="69" fill="#000" textLength="78.46" lengthAdjust="spacingAndGlyphs">(b)</text>
<text y="743.6" font-size="69" fill="#000"><tspan x="1888.00" textLength="114.20" lengthAdjust="spacingAndGlyphs">22.5</tspan> <tspan x="2019.80" textLength="92.35" lengthAdjust="spacingAndGlyphs">Hz</tspan></text>
<text y="979.6" font-size="69" fill="#000"><tspan x="2045.30" textLength="112.80" lengthAdjust="spacingAndGlyphs">78.5</tspan> <tspan x="2176.10" textLength="92.45" lengthAdjust="spacingAndGlyphs">Hz</tspan></text>
<text x="1885.60" y="1206.3" font-size="69" fill="#000" textLength="82.16" lengthAdjust="spacingAndGlyphs">(d)</text>
<text y="1385.5" font-size="69" fill="#000"><tspan x="1870.80" textLength="114.40" lengthAdjust="spacingAndGlyphs">22.5</tspan> <tspan x="2002.60" textLength="93.45" lengthAdjust="spacingAndGlyphs">Hz</tspan></text>
<text y="1528.5" font-size="69" fill="#000"><tspan x="2030.80" textLength="115.10" lengthAdjust="spacingAndGlyphs">78.5</tspan> <tspan x="2163.00" textLength="93.45" lengthAdjust="spacingAndGlyphs">Hz</tspan></text>
<text x="1894.20" y="1859" font-size="69" fill="#000" textLength="64.46" lengthAdjust="spacingAndGlyphs">(f)</text>
</svg>
</body></html>
